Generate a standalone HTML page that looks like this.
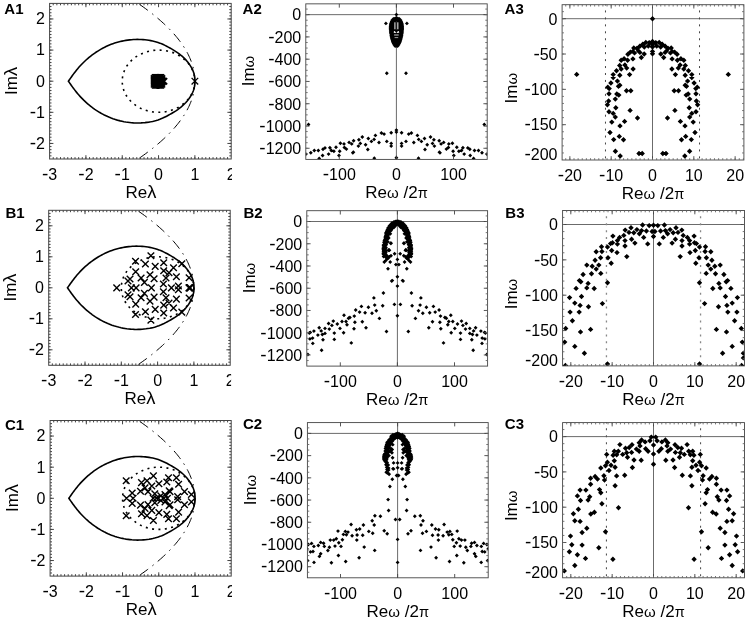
<!DOCTYPE html>
<html><head><meta charset="utf-8"><title>Figure</title>
<style>html,body{margin:0;padding:0;background:#fff}svg{display:block}</style></head>
<body>
<svg width="748" height="621" viewBox="0 0 748 621" font-family='"Liberation Sans", sans-serif' fill="#000">
<rect width="748" height="621" fill="#fff"/>
<defs>
<clipPath id="cA1"><rect x="49.6" y="3.4" width="181.6" height="155.6"/></clipPath>
<clipPath id="tA1"><rect x="0" y="159" width="232.1" height="60"/></clipPath>
<clipPath id="cA2"><rect x="305.8" y="3.85" width="181.4" height="155.55"/></clipPath>
<clipPath id="tA2"><rect x="0" y="159.4" width="488.1" height="60"/></clipPath>
<clipPath id="cA3"><rect x="562.1" y="4.7" width="181.8" height="155.3"/></clipPath>
<clipPath id="tA3"><rect x="0" y="160" width="744.8" height="60"/></clipPath>
<clipPath id="cB1"><rect x="48.7" y="210.3" width="181.5" height="155"/></clipPath>
<clipPath id="tB1"><rect x="0" y="365.3" width="231.1" height="60"/></clipPath>
<clipPath id="cB2"><rect x="306.8" y="210.7" width="180.8" height="155.4"/></clipPath>
<clipPath id="tB2"><rect x="0" y="366.1" width="488.5" height="60"/></clipPath>
<clipPath id="cB3"><rect x="562.6" y="210.5" width="181.9" height="155.4"/></clipPath>
<clipPath id="tB3"><rect x="0" y="365.9" width="745.4" height="60"/></clipPath>
<clipPath id="cC1"><rect x="50.1" y="420.5" width="181.1" height="155.6"/></clipPath>
<clipPath id="tC1"><rect x="0" y="576.1" width="232.1" height="60"/></clipPath>
<clipPath id="cC2"><rect x="307.4" y="422.6" width="180.8" height="155.2"/></clipPath>
<clipPath id="tC2"><rect x="0" y="577.8" width="489.1" height="60"/></clipPath>
<clipPath id="cC3"><rect x="562.6" y="422.6" width="181.9" height="155.2"/></clipPath>
<clipPath id="tC3"><rect x="0" y="577.8" width="745.4" height="60"/></clipPath>
</defs>
<g clip-path="url(#cA1)" fill="none" stroke="#000">
<path d="M138.13 3.4L140.04 4.72L141.91 6.04L143.75 7.36L145.56 8.67L147.34 9.99L149.09 11.31L150.8 12.63L152.48 13.95L154.12 15.27L155.74 16.59L157.32 17.91L158.87 19.22L160.38 20.54L161.87 21.86L163.32 23.18L164.74 24.5L166.12 25.82L167.48 27.14L168.8 28.45L170.08 29.77L171.34 31.09L172.56 32.41L173.75 33.73L174.91 35.05L176.03 36.37L177.13 37.68L178.19 39L179.21 40.32L180.21 41.64L181.17 42.96L182.1 44.28L183 45.6L183.86 46.92L184.69 48.23L185.49 49.55L186.26 50.87L186.99 52.19L187.69 53.51L188.36 54.83L188.99 56.15L189.6 57.46L190.17 58.78L190.71 60.1L191.21 61.42L191.68 62.74L192.12 64.06L192.53 65.38L192.91 66.69L193.25 68.01L193.56 69.33L193.84 70.65L194.08 71.97L194.29 73.29L194.47 74.61L194.62 75.93L194.73 77.24L194.81 78.56L194.86 79.88L194.88 81.2" stroke-width="1" stroke="#000" stroke-dasharray="10.4 5.4 1.5 5.4" stroke-dashoffset="-1.6"/>
<path d="M138.13 159L140.04 157.68L141.91 156.36L143.75 155.04L145.56 153.73L147.34 152.41L149.09 151.09L150.8 149.77L152.48 148.45L154.12 147.13L155.74 145.81L157.32 144.49L158.87 143.18L160.38 141.86L161.87 140.54L163.32 139.22L164.74 137.9L166.12 136.58L167.48 135.26L168.8 133.95L170.08 132.63L171.34 131.31L172.56 129.99L173.75 128.67L174.91 127.35L176.03 126.03L177.13 124.72L178.19 123.4L179.21 122.08L180.21 120.76L181.17 119.44L182.1 118.12L183 116.8L183.86 115.48L184.69 114.17L185.49 112.85L186.26 111.53L186.99 110.21L187.69 108.89L188.36 107.57L188.99 106.25L189.6 104.94L190.17 103.62L190.71 102.3L191.21 100.98L191.68 99.66L192.12 98.34L192.53 97.02L192.91 95.71L193.25 94.39L193.56 93.07L193.84 91.75L194.08 90.43L194.29 89.11L194.47 87.79L194.62 86.47L194.73 85.16L194.81 83.84L194.86 82.52L194.88 81.2" stroke-width="1" stroke="#000" stroke-dasharray="10.4 5.4 1.5 5.4" stroke-dashoffset="-1.6"/>
<ellipse cx="158.56" cy="81.2" rx="36.32" ry="31.12" stroke-width="1.6" stroke-dasharray="2 4.4" stroke-linecap="butt"/>
<path d="M68.41 81.2L69.4 79.78L70.39 78.37L71.39 76.96L72.39 75.55L73.42 74.15L74.46 72.77L75.52 71.39L76.6 70.03L77.72 68.68L78.86 67.35L80.03 66.04L81.23 64.75L82.46 63.48L83.72 62.22L85.01 60.99L86.33 59.78L87.67 58.6L89.04 57.44L90.44 56.31L91.87 55.2L93.33 54.12L94.82 53.06L96.33 52.04L97.88 51.05L99.44 50.09L101.04 49.16L102.66 48.27L104.31 47.41L105.98 46.59L107.68 45.8L109.4 45.06L111.15 44.36L112.92 43.7L114.71 43.08L116.52 42.52L118.35 42L120.19 41.53L122.06 41.11L123.93 40.73L125.82 40.4L127.72 40.12L129.63 39.88L131.55 39.68L133.46 39.53L135.39 39.44L137.31 39.4L139.23 39.43L141.15 39.5L143.08 39.63L145 39.8L146.92 40.02L148.83 40.28L150.72 40.6L152.6 40.97L154.46 41.41L156.29 41.91L158.09 42.49L159.85 43.13L161.59 43.83L163.3 44.58L164.99 45.39L166.66 46.23L168.31 47.1L169.94 48L171.56 48.92L173.15 49.87L174.72 50.84L176.27 51.83L177.78 52.86L179.25 53.93L180.68 55.03L182.05 56.18L183.38 57.37L184.64 58.61L185.85 59.89L187 61.22L188.09 62.58L189.12 63.98L190.1 65.41L191.02 66.87L191.86 68.36L192.62 69.88L193.27 71.43L193.8 73.01L194.21 74.63L194.51 76.26L194.72 77.9L194.84 79.55L194.88 81.2L194.84 82.85L194.72 84.5L194.51 86.14L194.21 87.77L193.8 89.39L193.27 90.97L192.62 92.52L191.86 94.04L191.02 95.53L190.1 96.99L189.12 98.42L188.09 99.82L187 101.18L185.85 102.51L184.64 103.79L183.38 105.03L182.05 106.22L180.68 107.37L179.25 108.47L177.78 109.54L176.27 110.57L174.72 111.56L173.15 112.53L171.56 113.48L169.94 114.4L168.31 115.3L166.66 116.17L164.99 117.01L163.3 117.82L161.59 118.57L159.85 119.27L158.09 119.91L156.29 120.49L154.46 120.99L152.6 121.43L150.72 121.8L148.83 122.12L146.92 122.38L145 122.6L143.08 122.77L141.15 122.9L139.23 122.97L137.31 123L135.39 122.96L133.46 122.87L131.55 122.72L129.63 122.52L127.72 122.28L125.82 122L123.93 121.67L122.06 121.29L120.19 120.87L118.35 120.4L116.52 119.88L114.71 119.32L112.92 118.7L111.15 118.04L109.4 117.34L107.68 116.6L105.98 115.81L104.31 114.99L102.66 114.13L101.04 113.24L99.44 112.31L97.88 111.35L96.33 110.36L94.82 109.34L93.33 108.28L91.87 107.2L90.44 106.09L89.04 104.96L87.67 103.8L86.33 102.62L85.01 101.41L83.72 100.18L82.46 98.92L81.23 97.65L80.03 96.36L78.86 95.05L77.72 93.72L76.6 92.37L75.52 91.01L74.46 89.63L73.42 88.25L72.39 86.85L71.39 85.44L70.39 84.03L69.4 82.62L68.41 81.2z" stroke-width="1.6" stroke-linejoin="miter"/>
</g>
<rect x="49.6" y="3.4" width="181.6" height="155.6" fill="none" stroke="#444" stroke-width="1.0"/>
<path d="M85.92 159v-3.8M85.92 3.4v3.8M122.24 159v-3.8M122.24 3.4v3.8M158.56 159v-3.8M158.56 3.4v3.8M194.88 159v-3.8M194.88 3.4v3.8M49.6 143.44h3.8M231.2 143.44h-3.8M49.6 112.32h3.8M231.2 112.32h-3.8M49.6 81.2h3.8M231.2 81.2h-3.8M49.6 50.08h3.8M231.2 50.08h-3.8M49.6 18.96h3.8M231.2 18.96h-3.8" fill="none" stroke="#444" stroke-width="1.0"/>
<path d="M53.23 159v-1.9M53.23 3.4v1.9M56.86 159v-1.9M56.86 3.4v1.9M60.5 159v-1.9M60.5 3.4v1.9M64.13 159v-1.9M64.13 3.4v1.9M67.76 159v-1.9M67.76 3.4v1.9M71.39 159v-1.9M71.39 3.4v1.9M75.02 159v-1.9M75.02 3.4v1.9M78.66 159v-1.9M78.66 3.4v1.9M82.29 159v-1.9M82.29 3.4v1.9M85.92 159v-1.9M85.92 3.4v1.9M89.55 159v-1.9M89.55 3.4v1.9M93.18 159v-1.9M93.18 3.4v1.9M96.82 159v-1.9M96.82 3.4v1.9M100.45 159v-1.9M100.45 3.4v1.9M104.08 159v-1.9M104.08 3.4v1.9M107.71 159v-1.9M107.71 3.4v1.9M111.34 159v-1.9M111.34 3.4v1.9M114.98 159v-1.9M114.98 3.4v1.9M118.61 159v-1.9M118.61 3.4v1.9M122.24 159v-1.9M122.24 3.4v1.9M125.87 159v-1.9M125.87 3.4v1.9M129.5 159v-1.9M129.5 3.4v1.9M133.14 159v-1.9M133.14 3.4v1.9M136.77 159v-1.9M136.77 3.4v1.9M140.4 159v-1.9M140.4 3.4v1.9M144.03 159v-1.9M144.03 3.4v1.9M147.66 159v-1.9M147.66 3.4v1.9M151.3 159v-1.9M151.3 3.4v1.9M154.93 159v-1.9M154.93 3.4v1.9M158.56 159v-1.9M158.56 3.4v1.9M162.19 159v-1.9M162.19 3.4v1.9M165.82 159v-1.9M165.82 3.4v1.9M169.46 159v-1.9M169.46 3.4v1.9M173.09 159v-1.9M173.09 3.4v1.9M176.72 159v-1.9M176.72 3.4v1.9M180.35 159v-1.9M180.35 3.4v1.9M183.98 159v-1.9M183.98 3.4v1.9M187.62 159v-1.9M187.62 3.4v1.9M191.25 159v-1.9M191.25 3.4v1.9M194.88 159v-1.9M194.88 3.4v1.9M198.51 159v-1.9M198.51 3.4v1.9M202.14 159v-1.9M202.14 3.4v1.9M205.78 159v-1.9M205.78 3.4v1.9M209.41 159v-1.9M209.41 3.4v1.9M213.04 159v-1.9M213.04 3.4v1.9M216.67 159v-1.9M216.67 3.4v1.9M220.3 159v-1.9M220.3 3.4v1.9M223.94 159v-1.9M223.94 3.4v1.9M227.57 159v-1.9M227.57 3.4v1.9M49.6 155.89h1.9M231.2 155.89h-1.9M49.6 152.78h1.9M231.2 152.78h-1.9M49.6 149.66h1.9M231.2 149.66h-1.9M49.6 146.55h1.9M231.2 146.55h-1.9M49.6 143.44h1.9M231.2 143.44h-1.9M49.6 140.33h1.9M231.2 140.33h-1.9M49.6 137.22h1.9M231.2 137.22h-1.9M49.6 134.1h1.9M231.2 134.1h-1.9M49.6 130.99h1.9M231.2 130.99h-1.9M49.6 127.88h1.9M231.2 127.88h-1.9M49.6 124.77h1.9M231.2 124.77h-1.9M49.6 121.66h1.9M231.2 121.66h-1.9M49.6 118.54h1.9M231.2 118.54h-1.9M49.6 115.43h1.9M231.2 115.43h-1.9M49.6 112.32h1.9M231.2 112.32h-1.9M49.6 109.21h1.9M231.2 109.21h-1.9M49.6 106.1h1.9M231.2 106.1h-1.9M49.6 102.98h1.9M231.2 102.98h-1.9M49.6 99.87h1.9M231.2 99.87h-1.9M49.6 96.76h1.9M231.2 96.76h-1.9M49.6 93.65h1.9M231.2 93.65h-1.9M49.6 90.54h1.9M231.2 90.54h-1.9M49.6 87.42h1.9M231.2 87.42h-1.9M49.6 84.31h1.9M231.2 84.31h-1.9M49.6 81.2h1.9M231.2 81.2h-1.9M49.6 78.09h1.9M231.2 78.09h-1.9M49.6 74.98h1.9M231.2 74.98h-1.9M49.6 71.86h1.9M231.2 71.86h-1.9M49.6 68.75h1.9M231.2 68.75h-1.9M49.6 65.64h1.9M231.2 65.64h-1.9M49.6 62.53h1.9M231.2 62.53h-1.9M49.6 59.42h1.9M231.2 59.42h-1.9M49.6 56.3h1.9M231.2 56.3h-1.9M49.6 53.19h1.9M231.2 53.19h-1.9M49.6 50.08h1.9M231.2 50.08h-1.9M49.6 46.97h1.9M231.2 46.97h-1.9M49.6 43.86h1.9M231.2 43.86h-1.9M49.6 40.74h1.9M231.2 40.74h-1.9M49.6 37.63h1.9M231.2 37.63h-1.9M49.6 34.52h1.9M231.2 34.52h-1.9M49.6 31.41h1.9M231.2 31.41h-1.9M49.6 28.3h1.9M231.2 28.3h-1.9M49.6 25.18h1.9M231.2 25.18h-1.9M49.6 22.07h1.9M231.2 22.07h-1.9M49.6 18.96h1.9M231.2 18.96h-1.9M49.6 15.85h1.9M231.2 15.85h-1.9M49.6 12.74h1.9M231.2 12.74h-1.9M49.6 9.62h1.9M231.2 9.62h-1.9M49.6 6.51h1.9M231.2 6.51h-1.9" fill="none" stroke="#444" stroke-width="1.0"/>
<text x="44.9" y="148.84" font-size="16" text-anchor="end"><tspan font-size="19">-</tspan>2</text>
<text x="44.9" y="117.72" font-size="16" text-anchor="end"><tspan font-size="19">-</tspan>1</text>
<text x="44.9" y="86.6" font-size="16" text-anchor="end">0</text>
<text x="44.9" y="55.48" font-size="16" text-anchor="end">1</text>
<text x="44.9" y="24.36" font-size="16" text-anchor="end">2</text>
<text x="49.6" y="179.8" font-size="16" text-anchor="middle" clip-path="url(#tA1)"><tspan font-size="19">-</tspan>3</text>
<text x="85.92" y="179.8" font-size="16" text-anchor="middle" clip-path="url(#tA1)"><tspan font-size="19">-</tspan>2</text>
<text x="122.24" y="179.8" font-size="16" text-anchor="middle" clip-path="url(#tA1)"><tspan font-size="19">-</tspan>1</text>
<text x="158.56" y="179.8" font-size="16" text-anchor="middle" clip-path="url(#tA1)">0</text>
<text x="194.88" y="179.8" font-size="16" text-anchor="middle" clip-path="url(#tA1)">1</text>
<text x="231.2" y="179.8" font-size="16" text-anchor="middle" clip-path="url(#tA1)">2</text>
<text x="141" y="198" font-size="17" text-anchor="middle">Re<tspan font-size="18.4">λ</tspan></text>
<text x="17" y="80.9" font-size="17" text-anchor="middle" transform="rotate(-90 17 80.9)">Im<tspan font-size="18.4">λ</tspan></text>
<text x="4.3" y="13.7" font-size="15" font-weight="bold">A1</text>
<path d="M150.9 75.15l6 6M150.9 81.15l6 -6M150.9 76.2l6 6M150.9 82.2l6 -6M150.9 77.25l6 6M150.9 83.25l6 -6M150.9 78.3l6 6M150.9 84.3l6 -6M150.9 79.35l6 6M150.9 85.35l6 -6M150.9 80.4l6 6M150.9 86.4l6 -6M150.9 81.45l6 6M150.9 87.45l6 -6M151.93 74.1l6 6M151.93 80.1l6 -6M151.93 75.15l6 6M151.93 81.15l6 -6M151.93 76.2l6 6M151.93 82.2l6 -6M151.93 77.25l6 6M151.93 83.25l6 -6M151.93 78.3l6 6M151.93 84.3l6 -6M151.93 79.35l6 6M151.93 85.35l6 -6M151.93 80.4l6 6M151.93 86.4l6 -6M151.93 81.45l6 6M151.93 87.45l6 -6M151.93 82.5l6 6M151.93 88.5l6 -6M152.95 74.1l6 6M152.95 80.1l6 -6M152.95 75.15l6 6M152.95 81.15l6 -6M152.95 76.2l6 6M152.95 82.2l6 -6M152.95 77.25l6 6M152.95 83.25l6 -6M152.95 78.3l6 6M152.95 84.3l6 -6M152.95 79.35l6 6M152.95 85.35l6 -6M152.95 80.4l6 6M152.95 86.4l6 -6M152.95 81.45l6 6M152.95 87.45l6 -6M152.95 82.5l6 6M152.95 88.5l6 -6M153.97 74.1l6 6M153.97 80.1l6 -6M153.97 75.15l6 6M153.97 81.15l6 -6M153.97 76.2l6 6M153.97 82.2l6 -6M153.97 77.25l6 6M153.97 83.25l6 -6M153.97 78.3l6 6M153.97 84.3l6 -6M153.97 79.35l6 6M153.97 85.35l6 -6M153.97 80.4l6 6M153.97 86.4l6 -6M153.97 81.45l6 6M153.97 87.45l6 -6M153.97 82.5l6 6M153.97 88.5l6 -6M155 74.1l6 6M155 80.1l6 -6M155 75.15l6 6M155 81.15l6 -6M155 76.2l6 6M155 82.2l6 -6M155 77.25l6 6M155 83.25l6 -6M155 78.3l6 6M155 84.3l6 -6M155 79.35l6 6M155 85.35l6 -6M155 80.4l6 6M155 86.4l6 -6M155 81.45l6 6M155 87.45l6 -6M155 82.5l6 6M155 88.5l6 -6M156.03 74.1l6 6M156.03 80.1l6 -6M156.03 75.15l6 6M156.03 81.15l6 -6M156.03 76.2l6 6M156.03 82.2l6 -6M156.03 77.25l6 6M156.03 83.25l6 -6M156.03 78.3l6 6M156.03 84.3l6 -6M156.03 79.35l6 6M156.03 85.35l6 -6M156.03 80.4l6 6M156.03 86.4l6 -6M156.03 81.45l6 6M156.03 87.45l6 -6M156.03 82.5l6 6M156.03 88.5l6 -6M157.05 74.1l6 6M157.05 80.1l6 -6M157.05 75.15l6 6M157.05 81.15l6 -6M157.05 76.2l6 6M157.05 82.2l6 -6M157.05 77.25l6 6M157.05 83.25l6 -6M157.05 78.3l6 6M157.05 84.3l6 -6M157.05 79.35l6 6M157.05 85.35l6 -6M157.05 80.4l6 6M157.05 86.4l6 -6M157.05 81.45l6 6M157.05 87.45l6 -6M157.05 82.5l6 6M157.05 88.5l6 -6M158.08 74.1l6 6M158.08 80.1l6 -6M158.08 75.15l6 6M158.08 81.15l6 -6M158.08 76.2l6 6M158.08 82.2l6 -6M158.08 77.25l6 6M158.08 83.25l6 -6M158.08 78.3l6 6M158.08 84.3l6 -6M158.08 79.35l6 6M158.08 85.35l6 -6M158.08 80.4l6 6M158.08 86.4l6 -6M158.08 81.45l6 6M158.08 87.45l6 -6M158.08 82.5l6 6M158.08 88.5l6 -6M159.1 75.15l6 6M159.1 81.15l6 -6M159.1 76.2l6 6M159.1 82.2l6 -6M159.1 77.25l6 6M159.1 83.25l6 -6M159.1 78.3l6 6M159.1 84.3l6 -6M159.1 79.35l6 6M159.1 85.35l6 -6M159.1 80.4l6 6M159.1 86.4l6 -6M159.1 81.45l6 6M159.1 87.45l6 -6M160.9 78.25l6 6M160.9 84.25l6 -6M160.5 77.8l6 6M160.5 83.8l6 -6M160.5 78.7l6 6M160.5 84.7l6 -6M161.3 78.25l6 6M161.3 84.25l6 -6M160 78.25l6 6M160 84.25l6 -6" fill="none" stroke="#000" stroke-width="1.3"/>
<path d="M191.58 77.9l6.6 6.6M191.58 84.5l6.6 -6.6" fill="none" stroke="#000" stroke-width="1.3"/>
<g clip-path="url(#cB1)" fill="none" stroke="#000">
<path d="M137.18 210.3L139.09 211.61L140.96 212.93L142.8 214.24L144.61 215.55L146.39 216.87L148.13 218.18L149.84 219.49L151.52 220.81L153.17 222.12L154.78 223.44L156.36 224.75L157.91 226.06L159.42 227.38L160.91 228.69L162.36 230L163.77 231.32L165.16 232.63L166.51 233.94L167.83 235.26L169.12 236.57L170.37 237.88L171.59 239.2L172.78 240.51L173.94 241.83L175.06 243.14L176.16 244.45L177.22 245.77L178.24 247.08L179.24 248.39L180.2 249.71L181.13 251.02L182.02 252.33L182.89 253.65L183.72 254.96L184.51 256.27L185.28 257.59L186.01 258.9L186.71 260.22L187.38 261.53L188.02 262.84L188.62 264.16L189.19 265.47L189.73 266.78L190.23 268.1L190.71 269.41L191.15 270.72L191.55 272.04L191.93 273.35L192.27 274.66L192.58 275.98L192.86 277.29L193.1 278.61L193.31 279.92L193.49 281.23L193.64 282.55L193.75 283.86L193.83 285.17L193.88 286.49L193.9 287.8" stroke-width="1" stroke="#000" stroke-dasharray="10.4 5.4 1.5 5.4" stroke-dashoffset="-1.6"/>
<path d="M137.18 365.3L139.09 363.99L140.96 362.67L142.8 361.36L144.61 360.05L146.39 358.73L148.13 357.42L149.84 356.11L151.52 354.79L153.17 353.48L154.78 352.16L156.36 350.85L157.91 349.54L159.42 348.22L160.91 346.91L162.36 345.6L163.77 344.28L165.16 342.97L166.51 341.66L167.83 340.34L169.12 339.03L170.37 337.72L171.59 336.4L172.78 335.09L173.94 333.77L175.06 332.46L176.16 331.15L177.22 329.83L178.24 328.52L179.24 327.21L180.2 325.89L181.13 324.58L182.02 323.27L182.89 321.95L183.72 320.64L184.51 319.33L185.28 318.01L186.01 316.7L186.71 315.38L187.38 314.07L188.02 312.76L188.62 311.44L189.19 310.13L189.73 308.82L190.23 307.5L190.71 306.19L191.15 304.88L191.55 303.56L191.93 302.25L192.27 300.94L192.58 299.62L192.86 298.31L193.1 296.99L193.31 295.68L193.49 294.37L193.64 293.05L193.75 291.74L193.83 290.43L193.88 289.11L193.9 287.8" stroke-width="1" stroke="#000" stroke-dasharray="10.4 5.4 1.5 5.4" stroke-dashoffset="-1.6"/>
<ellipse cx="157.6" cy="287.8" rx="36.3" ry="31" stroke-width="1.6" stroke-dasharray="2 4.4" stroke-linecap="butt"/>
<path d="M67.5 287.8L68.49 286.39L69.48 284.98L70.48 283.57L71.48 282.17L72.5 280.78L73.54 279.4L74.6 278.03L75.69 276.67L76.8 275.33L77.95 274.01L79.12 272.7L80.32 271.41L81.55 270.14L82.8 268.9L84.09 267.67L85.4 266.47L86.75 265.29L88.12 264.13L89.52 263L90.95 261.9L92.41 260.82L93.9 259.77L95.41 258.75L96.95 257.77L98.52 256.81L100.11 255.89L101.73 255L103.38 254.14L105.05 253.32L106.75 252.54L108.47 251.8L110.22 251.1L111.98 250.44L113.77 249.83L115.58 249.27L117.41 248.75L119.25 248.28L121.12 247.86L122.99 247.49L124.88 247.16L126.78 246.87L128.69 246.64L130.6 246.44L132.52 246.29L134.44 246.2L136.36 246.16L138.28 246.19L140.2 246.26L142.13 246.39L144.05 246.56L145.96 246.77L147.87 247.04L149.77 247.35L151.65 247.73L153.5 248.16L155.33 248.66L157.13 249.24L158.89 249.88L160.63 250.57L162.34 251.33L164.03 252.12L165.7 252.96L167.34 253.83L168.97 254.73L170.59 255.65L172.18 256.59L173.76 257.55L175.3 258.55L176.81 259.57L178.28 260.63L179.7 261.73L181.08 262.87L182.4 264.06L183.67 265.3L184.87 266.58L186.02 267.9L187.11 269.26L188.15 270.65L189.12 272.07L190.04 273.53L190.89 275.01L191.64 276.52L192.29 278.07L192.82 279.65L193.23 281.25L193.53 282.88L193.74 284.52L193.86 286.16L193.9 287.8L193.86 289.44L193.74 291.08L193.53 292.72L193.23 294.35L192.82 295.95L192.29 297.53L191.64 299.08L190.89 300.59L190.04 302.07L189.12 303.53L188.15 304.95L187.11 306.34L186.02 307.7L184.87 309.02L183.67 310.3L182.4 311.54L181.08 312.73L179.7 313.87L178.28 314.97L176.81 316.03L175.3 317.05L173.76 318.05L172.18 319.01L170.59 319.95L168.97 320.87L167.34 321.77L165.7 322.64L164.03 323.48L162.34 324.27L160.63 325.03L158.89 325.72L157.13 326.36L155.33 326.94L153.5 327.44L151.65 327.87L149.77 328.25L147.87 328.56L145.96 328.83L144.05 329.04L142.13 329.21L140.2 329.34L138.28 329.41L136.36 329.44L134.44 329.4L132.52 329.31L130.6 329.16L128.69 328.96L126.78 328.73L124.88 328.44L122.99 328.11L121.12 327.74L119.25 327.32L117.41 326.85L115.58 326.33L113.77 325.77L111.98 325.16L110.22 324.5L108.47 323.8L106.75 323.06L105.05 322.28L103.38 321.46L101.73 320.6L100.11 319.71L98.52 318.79L96.95 317.83L95.41 316.85L93.9 315.83L92.41 314.78L90.95 313.7L89.52 312.6L88.12 311.47L86.75 310.31L85.4 309.13L84.09 307.93L82.8 306.7L81.55 305.46L80.32 304.19L79.12 302.9L77.95 301.59L76.8 300.27L75.69 298.93L74.6 297.57L73.54 296.2L72.5 294.82L71.48 293.43L70.48 292.03L69.48 290.62L68.49 289.21L67.5 287.8z" stroke-width="1.6" stroke-linejoin="miter"/>
</g>
<rect x="48.7" y="210.3" width="181.5" height="155" fill="none" stroke="#444" stroke-width="1.0"/>
<path d="M85 365.3v-3.8M85 210.3v3.8M121.3 365.3v-3.8M121.3 210.3v3.8M157.6 365.3v-3.8M157.6 210.3v3.8M193.9 365.3v-3.8M193.9 210.3v3.8M48.7 349.8h3.8M230.2 349.8h-3.8M48.7 318.8h3.8M230.2 318.8h-3.8M48.7 287.8h3.8M230.2 287.8h-3.8M48.7 256.8h3.8M230.2 256.8h-3.8M48.7 225.8h3.8M230.2 225.8h-3.8" fill="none" stroke="#444" stroke-width="1.0"/>
<path d="M52.33 365.3v-1.9M52.33 210.3v1.9M55.96 365.3v-1.9M55.96 210.3v1.9M59.59 365.3v-1.9M59.59 210.3v1.9M63.22 365.3v-1.9M63.22 210.3v1.9M66.85 365.3v-1.9M66.85 210.3v1.9M70.48 365.3v-1.9M70.48 210.3v1.9M74.11 365.3v-1.9M74.11 210.3v1.9M77.74 365.3v-1.9M77.74 210.3v1.9M81.37 365.3v-1.9M81.37 210.3v1.9M85 365.3v-1.9M85 210.3v1.9M88.63 365.3v-1.9M88.63 210.3v1.9M92.26 365.3v-1.9M92.26 210.3v1.9M95.89 365.3v-1.9M95.89 210.3v1.9M99.52 365.3v-1.9M99.52 210.3v1.9M103.15 365.3v-1.9M103.15 210.3v1.9M106.78 365.3v-1.9M106.78 210.3v1.9M110.41 365.3v-1.9M110.41 210.3v1.9M114.04 365.3v-1.9M114.04 210.3v1.9M117.67 365.3v-1.9M117.67 210.3v1.9M121.3 365.3v-1.9M121.3 210.3v1.9M124.93 365.3v-1.9M124.93 210.3v1.9M128.56 365.3v-1.9M128.56 210.3v1.9M132.19 365.3v-1.9M132.19 210.3v1.9M135.82 365.3v-1.9M135.82 210.3v1.9M139.45 365.3v-1.9M139.45 210.3v1.9M143.08 365.3v-1.9M143.08 210.3v1.9M146.71 365.3v-1.9M146.71 210.3v1.9M150.34 365.3v-1.9M150.34 210.3v1.9M153.97 365.3v-1.9M153.97 210.3v1.9M157.6 365.3v-1.9M157.6 210.3v1.9M161.23 365.3v-1.9M161.23 210.3v1.9M164.86 365.3v-1.9M164.86 210.3v1.9M168.49 365.3v-1.9M168.49 210.3v1.9M172.12 365.3v-1.9M172.12 210.3v1.9M175.75 365.3v-1.9M175.75 210.3v1.9M179.38 365.3v-1.9M179.38 210.3v1.9M183.01 365.3v-1.9M183.01 210.3v1.9M186.64 365.3v-1.9M186.64 210.3v1.9M190.27 365.3v-1.9M190.27 210.3v1.9M193.9 365.3v-1.9M193.9 210.3v1.9M197.53 365.3v-1.9M197.53 210.3v1.9M201.16 365.3v-1.9M201.16 210.3v1.9M204.79 365.3v-1.9M204.79 210.3v1.9M208.42 365.3v-1.9M208.42 210.3v1.9M212.05 365.3v-1.9M212.05 210.3v1.9M215.68 365.3v-1.9M215.68 210.3v1.9M219.31 365.3v-1.9M219.31 210.3v1.9M222.94 365.3v-1.9M222.94 210.3v1.9M226.57 365.3v-1.9M226.57 210.3v1.9M48.7 362.2h1.9M230.2 362.2h-1.9M48.7 359.1h1.9M230.2 359.1h-1.9M48.7 356h1.9M230.2 356h-1.9M48.7 352.9h1.9M230.2 352.9h-1.9M48.7 349.8h1.9M230.2 349.8h-1.9M48.7 346.7h1.9M230.2 346.7h-1.9M48.7 343.6h1.9M230.2 343.6h-1.9M48.7 340.5h1.9M230.2 340.5h-1.9M48.7 337.4h1.9M230.2 337.4h-1.9M48.7 334.3h1.9M230.2 334.3h-1.9M48.7 331.2h1.9M230.2 331.2h-1.9M48.7 328.1h1.9M230.2 328.1h-1.9M48.7 325h1.9M230.2 325h-1.9M48.7 321.9h1.9M230.2 321.9h-1.9M48.7 318.8h1.9M230.2 318.8h-1.9M48.7 315.7h1.9M230.2 315.7h-1.9M48.7 312.6h1.9M230.2 312.6h-1.9M48.7 309.5h1.9M230.2 309.5h-1.9M48.7 306.4h1.9M230.2 306.4h-1.9M48.7 303.3h1.9M230.2 303.3h-1.9M48.7 300.2h1.9M230.2 300.2h-1.9M48.7 297.1h1.9M230.2 297.1h-1.9M48.7 294h1.9M230.2 294h-1.9M48.7 290.9h1.9M230.2 290.9h-1.9M48.7 287.8h1.9M230.2 287.8h-1.9M48.7 284.7h1.9M230.2 284.7h-1.9M48.7 281.6h1.9M230.2 281.6h-1.9M48.7 278.5h1.9M230.2 278.5h-1.9M48.7 275.4h1.9M230.2 275.4h-1.9M48.7 272.3h1.9M230.2 272.3h-1.9M48.7 269.2h1.9M230.2 269.2h-1.9M48.7 266.1h1.9M230.2 266.1h-1.9M48.7 263h1.9M230.2 263h-1.9M48.7 259.9h1.9M230.2 259.9h-1.9M48.7 256.8h1.9M230.2 256.8h-1.9M48.7 253.7h1.9M230.2 253.7h-1.9M48.7 250.6h1.9M230.2 250.6h-1.9M48.7 247.5h1.9M230.2 247.5h-1.9M48.7 244.4h1.9M230.2 244.4h-1.9M48.7 241.3h1.9M230.2 241.3h-1.9M48.7 238.2h1.9M230.2 238.2h-1.9M48.7 235.1h1.9M230.2 235.1h-1.9M48.7 232h1.9M230.2 232h-1.9M48.7 228.9h1.9M230.2 228.9h-1.9M48.7 225.8h1.9M230.2 225.8h-1.9M48.7 222.7h1.9M230.2 222.7h-1.9M48.7 219.6h1.9M230.2 219.6h-1.9M48.7 216.5h1.9M230.2 216.5h-1.9M48.7 213.4h1.9M230.2 213.4h-1.9" fill="none" stroke="#444" stroke-width="1.0"/>
<text x="44" y="355.2" font-size="16" text-anchor="end"><tspan font-size="19">-</tspan>2</text>
<text x="44" y="324.2" font-size="16" text-anchor="end"><tspan font-size="19">-</tspan>1</text>
<text x="44" y="293.2" font-size="16" text-anchor="end">0</text>
<text x="44" y="262.2" font-size="16" text-anchor="end">1</text>
<text x="44" y="231.2" font-size="16" text-anchor="end">2</text>
<text x="48.7" y="386.1" font-size="16" text-anchor="middle" clip-path="url(#tB1)"><tspan font-size="19">-</tspan>3</text>
<text x="85" y="386.1" font-size="16" text-anchor="middle" clip-path="url(#tB1)"><tspan font-size="19">-</tspan>2</text>
<text x="121.3" y="386.1" font-size="16" text-anchor="middle" clip-path="url(#tB1)"><tspan font-size="19">-</tspan>1</text>
<text x="157.6" y="386.1" font-size="16" text-anchor="middle" clip-path="url(#tB1)">0</text>
<text x="193.9" y="386.1" font-size="16" text-anchor="middle" clip-path="url(#tB1)">1</text>
<text x="230.2" y="386.1" font-size="16" text-anchor="middle" clip-path="url(#tB1)">2</text>
<text x="140.05" y="404.3" font-size="17" text-anchor="middle">Re<tspan font-size="18.4">λ</tspan></text>
<text x="16.1" y="287.5" font-size="17" text-anchor="middle" transform="rotate(-90 16.1 287.5)">Im<tspan font-size="18.4">λ</tspan></text>
<text x="5.4" y="218.2" font-size="15" font-weight="bold">B1</text>
<path d="M113.4 284.6l6.6 6.6M113.4 291.2l6.6 -6.6M128.1 284.6l6.6 6.6M128.1 291.2l6.6 -6.6M132.8 284.6l6.6 6.6M132.8 291.2l6.6 -6.6M148.1 284.6l6.6 6.6M148.1 291.2l6.6 -6.6M168.1 284.6l6.6 6.6M168.1 291.2l6.6 -6.6M185.6 284.6l6.6 6.6M185.6 291.2l6.6 -6.6M187 284.6l6.6 6.6M187 291.2l6.6 -6.6M186.3 284.6l6.6 6.6M186.3 291.2l6.6 -6.6M147.6 252.4l6.6 6.6M147.6 259l6.6 -6.6M132.2 258l6.6 6.6M132.2 264.6l6.6 -6.6M142.1 260.7l6.6 6.6M142.1 267.3l6.6 -6.6M151.9 263.1l6.6 6.6M151.9 269.7l6.6 -6.6M160.4 259.5l6.6 6.6M160.4 266.1l6.6 -6.6M178.5 260.4l6.6 6.6M178.5 267l6.6 -6.6M170.2 264.5l6.6 6.6M170.2 271.1l6.6 -6.6M132.4 268.4l6.6 6.6M132.4 275l6.6 -6.6M160.4 267.4l6.6 6.6M160.4 274l6.6 -6.6M165.7 269.4l6.6 6.6M165.7 276l6.6 -6.6M146.7 271.4l6.6 6.6M146.7 278l6.6 -6.6M173.1 273.4l6.6 6.6M173.1 280l6.6 -6.6M137.8 274.7l6.6 6.6M137.8 281.3l6.6 -6.6M150.8 275.4l6.6 6.6M150.8 282l6.6 -6.6M162.7 274.7l6.6 6.6M162.7 281.3l6.6 -6.6M185.8 274.5l6.6 6.6M185.8 281.1l6.6 -6.6M126.7 275.7l6.6 6.6M126.7 282.3l6.6 -6.6M124.7 277.7l6.6 6.6M124.7 284.3l6.6 -6.6M141.1 279.1l6.6 6.6M141.1 285.7l6.6 -6.6M160.1 280.7l6.6 6.6M160.1 287.3l6.6 -6.6M175.1 282.7l6.6 6.6M175.1 289.3l6.6 -6.6M147.6 316.8l6.6 6.6M147.6 323.4l6.6 -6.6M132.2 311.2l6.6 6.6M132.2 317.8l6.6 -6.6M142.1 308.5l6.6 6.6M142.1 315.1l6.6 -6.6M151.9 306.1l6.6 6.6M151.9 312.7l6.6 -6.6M160.4 309.7l6.6 6.6M160.4 316.3l6.6 -6.6M178.5 308.8l6.6 6.6M178.5 315.4l6.6 -6.6M170.2 304.7l6.6 6.6M170.2 311.3l6.6 -6.6M132.4 300.8l6.6 6.6M132.4 307.4l6.6 -6.6M160.4 301.8l6.6 6.6M160.4 308.4l6.6 -6.6M165.7 299.8l6.6 6.6M165.7 306.4l6.6 -6.6M146.7 297.8l6.6 6.6M146.7 304.4l6.6 -6.6M173.1 295.8l6.6 6.6M173.1 302.4l6.6 -6.6M137.8 294.5l6.6 6.6M137.8 301.1l6.6 -6.6M150.8 293.8l6.6 6.6M150.8 300.4l6.6 -6.6M162.7 294.5l6.6 6.6M162.7 301.1l6.6 -6.6M185.8 294.7l6.6 6.6M185.8 301.3l6.6 -6.6M126.7 293.5l6.6 6.6M126.7 300.1l6.6 -6.6M124.7 291.5l6.6 6.6M124.7 298.1l6.6 -6.6M141.1 290.1l6.6 6.6M141.1 296.7l6.6 -6.6M160.1 288.5l6.6 6.6M160.1 295.1l6.6 -6.6M175.1 286.5l6.6 6.6M175.1 293.1l6.6 -6.6" fill="none" stroke="#000" stroke-width="1.4"/>
<g clip-path="url(#cC1)" fill="none" stroke="#000">
<path d="M138.39 420.5L140.29 421.82L142.16 423.14L144 424.46L145.8 425.77L147.57 427.09L149.31 428.41L151.02 429.73L152.69 431.05L154.34 432.37L155.94 433.69L157.52 435.01L159.07 436.32L160.58 437.64L162.06 438.96L163.5 440.28L164.92 441.6L166.3 442.92L167.65 444.24L168.97 445.55L170.25 446.87L171.5 448.19L172.72 449.51L173.91 450.83L175.06 452.15L176.19 453.47L177.28 454.78L178.33 456.1L179.36 457.42L180.35 458.74L181.31 460.06L182.23 461.38L183.13 462.7L183.99 464.02L184.82 465.33L185.62 466.65L186.38 467.97L187.11 469.29L187.81 470.61L188.48 471.93L189.11 473.25L189.71 474.56L190.28 475.88L190.82 477.2L191.32 478.52L191.79 479.84L192.23 481.16L192.64 482.48L193.01 483.79L193.35 485.11L193.66 486.43L193.94 487.75L194.18 489.07L194.39 490.39L194.57 491.71L194.72 493.03L194.83 494.34L194.91 495.66L194.96 496.98L194.98 498.3" stroke-width="1" stroke="#000" stroke-dasharray="10.4 5.4 1.5 5.4" stroke-dashoffset="-1.6"/>
<path d="M138.39 576.1L140.29 574.78L142.16 573.46L144 572.14L145.8 570.83L147.57 569.51L149.31 568.19L151.02 566.87L152.69 565.55L154.34 564.23L155.94 562.91L157.52 561.59L159.07 560.28L160.58 558.96L162.06 557.64L163.5 556.32L164.92 555L166.3 553.68L167.65 552.36L168.97 551.05L170.25 549.73L171.5 548.41L172.72 547.09L173.91 545.77L175.06 544.45L176.19 543.13L177.28 541.82L178.33 540.5L179.36 539.18L180.35 537.86L181.31 536.54L182.23 535.22L183.13 533.9L183.99 532.58L184.82 531.27L185.62 529.95L186.38 528.63L187.11 527.31L187.81 525.99L188.48 524.67L189.11 523.35L189.71 522.04L190.28 520.72L190.82 519.4L191.32 518.08L191.79 516.76L192.23 515.44L192.64 514.12L193.01 512.81L193.35 511.49L193.66 510.17L193.94 508.85L194.18 507.53L194.39 506.21L194.57 504.89L194.72 503.57L194.83 502.26L194.91 500.94L194.96 499.62L194.98 498.3" stroke-width="1" stroke="#000" stroke-dasharray="10.4 5.4 1.5 5.4" stroke-dashoffset="-1.6"/>
<ellipse cx="158.76" cy="498.3" rx="36.22" ry="31.12" stroke-width="1.6" stroke-dasharray="2 4.4" stroke-linecap="butt"/>
<path d="M68.86 498.3L69.85 496.88L70.83 495.47L71.83 494.06L72.83 492.65L73.85 491.25L74.89 489.87L75.95 488.49L77.03 487.13L78.14 485.78L79.28 484.45L80.45 483.14L81.65 481.85L82.87 480.58L84.13 479.32L85.41 478.09L86.72 476.88L88.06 475.7L89.43 474.54L90.83 473.41L92.26 472.3L93.71 471.22L95.2 470.16L96.71 469.14L98.24 468.15L99.81 467.19L101.4 466.26L103.02 465.37L104.66 464.51L106.33 463.69L108.02 462.9L109.74 462.16L111.48 461.46L113.24 460.8L115.03 460.18L116.83 459.62L118.66 459.1L120.5 458.63L122.36 458.21L124.23 457.83L126.11 457.5L128.01 457.22L129.91 456.98L131.82 456.78L133.73 456.63L135.65 456.54L137.57 456.5L139.48 456.53L141.4 456.6L143.32 456.73L145.24 456.9L147.15 457.12L149.05 457.38L150.95 457.7L152.82 458.07L154.67 458.51L156.49 459.01L158.29 459.59L160.05 460.23L161.78 460.93L163.49 461.68L165.18 462.49L166.84 463.33L168.48 464.2L170.11 465.1L171.72 466.02L173.31 466.97L174.88 467.94L176.42 468.93L177.93 469.96L179.39 471.03L180.81 472.13L182.19 473.28L183.51 474.47L184.77 475.71L185.97 476.99L187.12 478.32L188.21 479.68L189.24 481.08L190.21 482.51L191.13 483.97L191.97 485.46L192.73 486.98L193.37 488.53L193.9 490.11L194.31 491.73L194.61 493.36L194.82 495L194.94 496.65L194.98 498.3L194.94 499.95L194.82 501.6L194.61 503.24L194.31 504.87L193.9 506.49L193.37 508.07L192.73 509.62L191.97 511.14L191.13 512.63L190.21 514.09L189.24 515.52L188.21 516.92L187.12 518.28L185.97 519.61L184.77 520.89L183.51 522.13L182.19 523.32L180.81 524.47L179.39 525.57L177.93 526.64L176.42 527.67L174.88 528.66L173.31 529.63L171.72 530.58L170.11 531.5L168.48 532.4L166.84 533.27L165.18 534.11L163.49 534.92L161.78 535.67L160.05 536.37L158.29 537.01L156.49 537.59L154.67 538.09L152.82 538.53L150.95 538.9L149.05 539.22L147.15 539.48L145.24 539.7L143.32 539.87L141.4 540L139.48 540.07L137.57 540.1L135.65 540.06L133.73 539.97L131.82 539.82L129.91 539.62L128.01 539.38L126.11 539.1L124.23 538.77L122.36 538.39L120.5 537.97L118.66 537.5L116.83 536.98L115.03 536.42L113.24 535.8L111.48 535.14L109.74 534.44L108.02 533.7L106.33 532.91L104.66 532.09L103.02 531.23L101.4 530.34L99.81 529.41L98.24 528.45L96.71 527.46L95.2 526.44L93.71 525.38L92.26 524.3L90.83 523.19L89.43 522.06L88.06 520.9L86.72 519.72L85.41 518.51L84.13 517.28L82.87 516.02L81.65 514.75L80.45 513.46L79.28 512.15L78.14 510.82L77.03 509.47L75.95 508.11L74.89 506.73L73.85 505.35L72.83 503.95L71.83 502.54L70.83 501.13L69.85 499.72L68.86 498.3z" stroke-width="1.6" stroke-linejoin="miter"/>
</g>
<rect x="50.1" y="420.5" width="181.1" height="155.6" fill="none" stroke="#444" stroke-width="1.0"/>
<path d="M86.32 576.1v-3.8M86.32 420.5v3.8M122.54 576.1v-3.8M122.54 420.5v3.8M158.76 576.1v-3.8M158.76 420.5v3.8M194.98 576.1v-3.8M194.98 420.5v3.8M50.1 560.54h3.8M231.2 560.54h-3.8M50.1 529.42h3.8M231.2 529.42h-3.8M50.1 498.3h3.8M231.2 498.3h-3.8M50.1 467.18h3.8M231.2 467.18h-3.8M50.1 436.06h3.8M231.2 436.06h-3.8" fill="none" stroke="#444" stroke-width="1.0"/>
<path d="M53.72 576.1v-1.9M53.72 420.5v1.9M57.34 576.1v-1.9M57.34 420.5v1.9M60.97 576.1v-1.9M60.97 420.5v1.9M64.59 576.1v-1.9M64.59 420.5v1.9M68.21 576.1v-1.9M68.21 420.5v1.9M71.83 576.1v-1.9M71.83 420.5v1.9M75.45 576.1v-1.9M75.45 420.5v1.9M79.08 576.1v-1.9M79.08 420.5v1.9M82.7 576.1v-1.9M82.7 420.5v1.9M86.32 576.1v-1.9M86.32 420.5v1.9M89.94 576.1v-1.9M89.94 420.5v1.9M93.56 576.1v-1.9M93.56 420.5v1.9M97.19 576.1v-1.9M97.19 420.5v1.9M100.81 576.1v-1.9M100.81 420.5v1.9M104.43 576.1v-1.9M104.43 420.5v1.9M108.05 576.1v-1.9M108.05 420.5v1.9M111.67 576.1v-1.9M111.67 420.5v1.9M115.3 576.1v-1.9M115.3 420.5v1.9M118.92 576.1v-1.9M118.92 420.5v1.9M122.54 576.1v-1.9M122.54 420.5v1.9M126.16 576.1v-1.9M126.16 420.5v1.9M129.78 576.1v-1.9M129.78 420.5v1.9M133.41 576.1v-1.9M133.41 420.5v1.9M137.03 576.1v-1.9M137.03 420.5v1.9M140.65 576.1v-1.9M140.65 420.5v1.9M144.27 576.1v-1.9M144.27 420.5v1.9M147.89 576.1v-1.9M147.89 420.5v1.9M151.52 576.1v-1.9M151.52 420.5v1.9M155.14 576.1v-1.9M155.14 420.5v1.9M158.76 576.1v-1.9M158.76 420.5v1.9M162.38 576.1v-1.9M162.38 420.5v1.9M166 576.1v-1.9M166 420.5v1.9M169.63 576.1v-1.9M169.63 420.5v1.9M173.25 576.1v-1.9M173.25 420.5v1.9M176.87 576.1v-1.9M176.87 420.5v1.9M180.49 576.1v-1.9M180.49 420.5v1.9M184.11 576.1v-1.9M184.11 420.5v1.9M187.74 576.1v-1.9M187.74 420.5v1.9M191.36 576.1v-1.9M191.36 420.5v1.9M194.98 576.1v-1.9M194.98 420.5v1.9M198.6 576.1v-1.9M198.6 420.5v1.9M202.22 576.1v-1.9M202.22 420.5v1.9M205.85 576.1v-1.9M205.85 420.5v1.9M209.47 576.1v-1.9M209.47 420.5v1.9M213.09 576.1v-1.9M213.09 420.5v1.9M216.71 576.1v-1.9M216.71 420.5v1.9M220.33 576.1v-1.9M220.33 420.5v1.9M223.96 576.1v-1.9M223.96 420.5v1.9M227.58 576.1v-1.9M227.58 420.5v1.9M50.1 572.99h1.9M231.2 572.99h-1.9M50.1 569.88h1.9M231.2 569.88h-1.9M50.1 566.76h1.9M231.2 566.76h-1.9M50.1 563.65h1.9M231.2 563.65h-1.9M50.1 560.54h1.9M231.2 560.54h-1.9M50.1 557.43h1.9M231.2 557.43h-1.9M50.1 554.32h1.9M231.2 554.32h-1.9M50.1 551.2h1.9M231.2 551.2h-1.9M50.1 548.09h1.9M231.2 548.09h-1.9M50.1 544.98h1.9M231.2 544.98h-1.9M50.1 541.87h1.9M231.2 541.87h-1.9M50.1 538.76h1.9M231.2 538.76h-1.9M50.1 535.64h1.9M231.2 535.64h-1.9M50.1 532.53h1.9M231.2 532.53h-1.9M50.1 529.42h1.9M231.2 529.42h-1.9M50.1 526.31h1.9M231.2 526.31h-1.9M50.1 523.2h1.9M231.2 523.2h-1.9M50.1 520.08h1.9M231.2 520.08h-1.9M50.1 516.97h1.9M231.2 516.97h-1.9M50.1 513.86h1.9M231.2 513.86h-1.9M50.1 510.75h1.9M231.2 510.75h-1.9M50.1 507.64h1.9M231.2 507.64h-1.9M50.1 504.52h1.9M231.2 504.52h-1.9M50.1 501.41h1.9M231.2 501.41h-1.9M50.1 498.3h1.9M231.2 498.3h-1.9M50.1 495.19h1.9M231.2 495.19h-1.9M50.1 492.08h1.9M231.2 492.08h-1.9M50.1 488.96h1.9M231.2 488.96h-1.9M50.1 485.85h1.9M231.2 485.85h-1.9M50.1 482.74h1.9M231.2 482.74h-1.9M50.1 479.63h1.9M231.2 479.63h-1.9M50.1 476.52h1.9M231.2 476.52h-1.9M50.1 473.4h1.9M231.2 473.4h-1.9M50.1 470.29h1.9M231.2 470.29h-1.9M50.1 467.18h1.9M231.2 467.18h-1.9M50.1 464.07h1.9M231.2 464.07h-1.9M50.1 460.96h1.9M231.2 460.96h-1.9M50.1 457.84h1.9M231.2 457.84h-1.9M50.1 454.73h1.9M231.2 454.73h-1.9M50.1 451.62h1.9M231.2 451.62h-1.9M50.1 448.51h1.9M231.2 448.51h-1.9M50.1 445.4h1.9M231.2 445.4h-1.9M50.1 442.28h1.9M231.2 442.28h-1.9M50.1 439.17h1.9M231.2 439.17h-1.9M50.1 436.06h1.9M231.2 436.06h-1.9M50.1 432.95h1.9M231.2 432.95h-1.9M50.1 429.84h1.9M231.2 429.84h-1.9M50.1 426.72h1.9M231.2 426.72h-1.9M50.1 423.61h1.9M231.2 423.61h-1.9" fill="none" stroke="#444" stroke-width="1.0"/>
<text x="45.4" y="565.94" font-size="16" text-anchor="end"><tspan font-size="19">-</tspan>2</text>
<text x="45.4" y="534.82" font-size="16" text-anchor="end"><tspan font-size="19">-</tspan>1</text>
<text x="45.4" y="503.7" font-size="16" text-anchor="end">0</text>
<text x="45.4" y="472.58" font-size="16" text-anchor="end">1</text>
<text x="45.4" y="441.46" font-size="16" text-anchor="end">2</text>
<text x="50.1" y="596.9" font-size="16" text-anchor="middle" clip-path="url(#tC1)"><tspan font-size="19">-</tspan>3</text>
<text x="86.32" y="596.9" font-size="16" text-anchor="middle" clip-path="url(#tC1)"><tspan font-size="19">-</tspan>2</text>
<text x="122.54" y="596.9" font-size="16" text-anchor="middle" clip-path="url(#tC1)"><tspan font-size="19">-</tspan>1</text>
<text x="158.76" y="596.9" font-size="16" text-anchor="middle" clip-path="url(#tC1)">0</text>
<text x="194.98" y="596.9" font-size="16" text-anchor="middle" clip-path="url(#tC1)">1</text>
<text x="231.2" y="596.9" font-size="16" text-anchor="middle" clip-path="url(#tC1)">2</text>
<text x="141.25" y="615.1" font-size="17" text-anchor="middle">Re<tspan font-size="18.4">λ</tspan></text>
<text x="17.5" y="498" font-size="17" text-anchor="middle" transform="rotate(-90 17.5 498)">Im<tspan font-size="18.4">λ</tspan></text>
<text x="5" y="429.5" font-size="15" font-weight="bold">C1</text>
<path d="M123.3 494.9l6.6 6.6M123.3 501.5l6.6 -6.6M129.8 494.9l6.6 6.6M129.8 501.5l6.6 -6.6M149.9 494.9l6.6 6.6M149.9 501.5l6.6 -6.6M153.1 494.9l6.6 6.6M153.1 501.5l6.6 -6.6M160.6 494.9l6.6 6.6M160.6 501.5l6.6 -6.6M164.1 494.9l6.6 6.6M164.1 501.5l6.6 -6.6M122.9 477.4l6.6 6.6M122.9 484l6.6 -6.6M150.1 472.6l6.6 6.6M150.1 479.2l6.6 -6.6M165.2 474.4l6.6 6.6M165.2 481l6.6 -6.6M173.1 474.4l6.6 6.6M173.1 481l6.6 -6.6M138.2 479.3l6.6 6.6M138.2 485.9l6.6 -6.6M143.7 477.5l6.6 6.6M143.7 484.1l6.6 -6.6M163.5 478.7l6.6 6.6M163.5 485.3l6.6 -6.6M155.6 480.5l6.6 6.6M155.6 487.1l6.6 -6.6M175.3 481l6.6 6.6M175.3 487.6l6.6 -6.6M148.5 482.7l6.6 6.6M148.5 489.3l6.6 -6.6M141.7 484.6l6.6 6.6M141.7 491.2l6.6 -6.6M165.9 487.5l6.6 6.6M165.9 494.1l6.6 -6.6M166.7 488.4l6.6 6.6M166.7 495l6.6 -6.6M181.2 488.3l6.6 6.6M181.2 494.9l6.6 -6.6M128.9 489.7l6.6 6.6M128.9 496.3l6.6 -6.6M137.2 488l6.6 6.6M137.2 494.6l6.6 -6.6M188.1 491.2l6.6 6.6M188.1 497.8l6.6 -6.6M144.7 488.5l6.6 6.6M144.7 495.1l6.6 -6.6M151.5 490.4l6.6 6.6M151.5 497l6.6 -6.6M157.5 492.6l6.6 6.6M157.5 499.2l6.6 -6.6M161.7 491.2l6.6 6.6M161.7 497.8l6.6 -6.6M174.35 493.3l6.6 6.6M174.35 499.9l6.6 -6.6M122.9 512.4l6.6 6.6M122.9 519l6.6 -6.6M150.1 517.2l6.6 6.6M150.1 523.8l6.6 -6.6M165.2 515.4l6.6 6.6M165.2 522l6.6 -6.6M173.1 515.4l6.6 6.6M173.1 522l6.6 -6.6M138.2 510.5l6.6 6.6M138.2 517.1l6.6 -6.6M143.7 512.3l6.6 6.6M143.7 518.9l6.6 -6.6M163.5 511.1l6.6 6.6M163.5 517.7l6.6 -6.6M155.6 509.3l6.6 6.6M155.6 515.9l6.6 -6.6M175.3 508.8l6.6 6.6M175.3 515.4l6.6 -6.6M148.5 507.1l6.6 6.6M148.5 513.7l6.6 -6.6M141.7 505.2l6.6 6.6M141.7 511.8l6.6 -6.6M165.9 502.3l6.6 6.6M165.9 508.9l6.6 -6.6M166.7 501.4l6.6 6.6M166.7 508l6.6 -6.6M181.2 501.5l6.6 6.6M181.2 508.1l6.6 -6.6M128.9 500.1l6.6 6.6M128.9 506.7l6.6 -6.6M137.2 501.8l6.6 6.6M137.2 508.4l6.6 -6.6M188.1 498.6l6.6 6.6M188.1 505.2l6.6 -6.6M144.7 501.3l6.6 6.6M144.7 507.9l6.6 -6.6M151.5 499.4l6.6 6.6M151.5 506l6.6 -6.6M157.5 497.2l6.6 6.6M157.5 503.8l6.6 -6.6M161.7 498.6l6.6 6.6M161.7 505.2l6.6 -6.6M174.35 496.5l6.6 6.6M174.35 503.1l6.6 -6.6" fill="none" stroke="#000" stroke-width="1.4"/>
<path d="M562.1 18.7H743.9M652.5 4.7V160" stroke="#505050" stroke-width="0.85" fill="none"/>
<path d="M605.48 4.7V160" stroke="#444" stroke-width="1.0" stroke-dasharray="2 4.95" stroke-dashoffset="1.2" fill="none"/>
<path d="M699.52 4.7V160" stroke="#444" stroke-width="1.0" stroke-dasharray="2 4.95" stroke-dashoffset="1.2" fill="none"/>
<path d="M652.5 38.7l2.7 2.7l-2.7 2.7l-2.7 -2.7zM652.5 41.7l2.7 2.7l-2.7 2.7l-2.7 -2.7zM652.5 44.3l2.7 2.7l-2.7 2.7l-2.7 -2.7zM652.5 48.7l2.7 2.7l-2.7 2.7l-2.7 -2.7zM652.5 51l2.7 2.7l-2.7 2.7l-2.7 -2.7zM652.5 16l2.7 2.7l-2.7 2.7l-2.7 -2.7zM655.8 39.9l2.7 2.7l-2.7 2.7l-2.7 -2.7zM659.2 39.8l2.7 2.7l-2.7 2.7l-2.7 -2.7zM656.7 43.3l2.7 2.7l-2.7 2.7l-2.7 -2.7zM662.2 41.6l2.7 2.7l-2.7 2.7l-2.7 -2.7zM660.7 44.3l2.7 2.7l-2.7 2.7l-2.7 -2.7zM665.2 43.6l2.7 2.7l-2.7 2.7l-2.7 -2.7zM668.2 45.7l2.7 2.7l-2.7 2.7l-2.7 -2.7zM671.2 45.3l2.7 2.7l-2.7 2.7l-2.7 -2.7zM666.5 48.2l2.7 2.7l-2.7 2.7l-2.7 -2.7zM665.1 49.7l2.7 2.7l-2.7 2.7l-2.7 -2.7zM660.8 51.3l2.7 2.7l-2.7 2.7l-2.7 -2.7zM663.7 54.8l2.7 2.7l-2.7 2.7l-2.7 -2.7zM672.1 48.7l2.7 2.7l-2.7 2.7l-2.7 -2.7zM674.6 49.4l2.7 2.7l-2.7 2.7l-2.7 -2.7zM670.5 50.2l2.7 2.7l-2.7 2.7l-2.7 -2.7zM677.1 51.5l2.7 2.7l-2.7 2.7l-2.7 -2.7zM672.1 56.2l2.7 2.7l-2.7 2.7l-2.7 -2.7zM677.4 57.5l2.7 2.7l-2.7 2.7l-2.7 -2.7zM680.9 56l2.7 2.7l-2.7 2.7l-2.7 -2.7zM683.8 57.6l2.7 2.7l-2.7 2.7l-2.7 -2.7zM680.1 62.3l2.7 2.7l-2.7 2.7l-2.7 -2.7zM685.3 62.8l2.7 2.7l-2.7 2.7l-2.7 -2.7zM678.3 65.4l2.7 2.7l-2.7 2.7l-2.7 -2.7zM671.9 66.3l2.7 2.7l-2.7 2.7l-2.7 -2.7zM683.8 66.3l2.7 2.7l-2.7 2.7l-2.7 -2.7zM688.5 68.1l2.7 2.7l-2.7 2.7l-2.7 -2.7zM675.4 71.9l2.7 2.7l-2.7 2.7l-2.7 -2.7zM685.2 72.5l2.7 2.7l-2.7 2.7l-2.7 -2.7zM691.8 71.9l2.7 2.7l-2.7 2.7l-2.7 -2.7zM691.8 74.9l2.7 2.7l-2.7 2.7l-2.7 -2.7zM687.6 78.4l2.7 2.7l-2.7 2.7l-2.7 -2.7zM694.1 80.3l2.7 2.7l-2.7 2.7l-2.7 -2.7zM685.2 82.6l2.7 2.7l-2.7 2.7l-2.7 -2.7zM686.5 83.6l2.7 2.7l-2.7 2.7l-2.7 -2.7zM695.8 85.9l2.7 2.7l-2.7 2.7l-2.7 -2.7zM697.2 84.5l2.7 2.7l-2.7 2.7l-2.7 -2.7zM674.2 88l2.7 2.7l-2.7 2.7l-2.7 -2.7zM678.5 88l2.7 2.7l-2.7 2.7l-2.7 -2.7zM696 91l2.7 2.7l-2.7 2.7l-2.7 -2.7zM686.2 92.4l2.7 2.7l-2.7 2.7l-2.7 -2.7zM688.2 91.3l2.7 2.7l-2.7 2.7l-2.7 -2.7zM689.7 96.4l2.7 2.7l-2.7 2.7l-2.7 -2.7zM696.4 98.3l2.7 2.7l-2.7 2.7l-2.7 -2.7zM697.6 102l2.7 2.7l-2.7 2.7l-2.7 -2.7zM689.2 105l2.7 2.7l-2.7 2.7l-2.7 -2.7zM674.9 107.7l2.7 2.7l-2.7 2.7l-2.7 -2.7zM696 109.1l2.7 2.7l-2.7 2.7l-2.7 -2.7zM691.8 110.7l2.7 2.7l-2.7 2.7l-2.7 -2.7zM689.7 114.4l2.7 2.7l-2.7 2.7l-2.7 -2.7zM667.5 115.3l2.7 2.7l-2.7 2.7l-2.7 -2.7zM680.4 118.7l2.7 2.7l-2.7 2.7l-2.7 -2.7zM693.2 119.4l2.7 2.7l-2.7 2.7l-2.7 -2.7zM685 123.2l2.7 2.7l-2.7 2.7l-2.7 -2.7zM695 129.8l2.7 2.7l-2.7 2.7l-2.7 -2.7zM685.7 133.7l2.7 2.7l-2.7 2.7l-2.7 -2.7zM681.5 137l2.7 2.7l-2.7 2.7l-2.7 -2.7zM691.3 136.9l2.7 2.7l-2.7 2.7l-2.7 -2.7zM689.6 148.5l2.7 2.7l-2.7 2.7l-2.7 -2.7zM662.8 150.8l2.7 2.7l-2.7 2.7l-2.7 -2.7zM666 150.8l2.7 2.7l-2.7 2.7l-2.7 -2.7zM684.8 153.3l2.7 2.7l-2.7 2.7l-2.7 -2.7zM728.3 71.7l2.7 2.7l-2.7 2.7l-2.7 -2.7zM649.2 39.9l2.7 2.7l-2.7 2.7l-2.7 -2.7zM645.8 39.8l2.7 2.7l-2.7 2.7l-2.7 -2.7zM648.3 43.3l2.7 2.7l-2.7 2.7l-2.7 -2.7zM642.8 41.6l2.7 2.7l-2.7 2.7l-2.7 -2.7zM644.3 44.3l2.7 2.7l-2.7 2.7l-2.7 -2.7zM639.8 43.6l2.7 2.7l-2.7 2.7l-2.7 -2.7zM636.8 45.7l2.7 2.7l-2.7 2.7l-2.7 -2.7zM633.8 45.3l2.7 2.7l-2.7 2.7l-2.7 -2.7zM638.5 48.2l2.7 2.7l-2.7 2.7l-2.7 -2.7zM639.9 49.7l2.7 2.7l-2.7 2.7l-2.7 -2.7zM644.2 51.3l2.7 2.7l-2.7 2.7l-2.7 -2.7zM641.3 54.8l2.7 2.7l-2.7 2.7l-2.7 -2.7zM632.9 48.7l2.7 2.7l-2.7 2.7l-2.7 -2.7zM630.4 49.4l2.7 2.7l-2.7 2.7l-2.7 -2.7zM634.5 50.2l2.7 2.7l-2.7 2.7l-2.7 -2.7zM627.9 51.5l2.7 2.7l-2.7 2.7l-2.7 -2.7zM632.9 56.2l2.7 2.7l-2.7 2.7l-2.7 -2.7zM627.6 57.5l2.7 2.7l-2.7 2.7l-2.7 -2.7zM624.1 56l2.7 2.7l-2.7 2.7l-2.7 -2.7zM621.2 57.6l2.7 2.7l-2.7 2.7l-2.7 -2.7zM624.9 62.3l2.7 2.7l-2.7 2.7l-2.7 -2.7zM619.7 62.8l2.7 2.7l-2.7 2.7l-2.7 -2.7zM626.7 65.4l2.7 2.7l-2.7 2.7l-2.7 -2.7zM633.1 66.3l2.7 2.7l-2.7 2.7l-2.7 -2.7zM621.2 66.3l2.7 2.7l-2.7 2.7l-2.7 -2.7zM616.5 68.1l2.7 2.7l-2.7 2.7l-2.7 -2.7zM629.6 71.9l2.7 2.7l-2.7 2.7l-2.7 -2.7zM619.8 72.5l2.7 2.7l-2.7 2.7l-2.7 -2.7zM613.2 71.9l2.7 2.7l-2.7 2.7l-2.7 -2.7zM613.2 74.9l2.7 2.7l-2.7 2.7l-2.7 -2.7zM617.4 78.4l2.7 2.7l-2.7 2.7l-2.7 -2.7zM610.9 80.3l2.7 2.7l-2.7 2.7l-2.7 -2.7zM619.8 82.6l2.7 2.7l-2.7 2.7l-2.7 -2.7zM618.5 83.6l2.7 2.7l-2.7 2.7l-2.7 -2.7zM609.2 85.9l2.7 2.7l-2.7 2.7l-2.7 -2.7zM607.8 84.5l2.7 2.7l-2.7 2.7l-2.7 -2.7zM630.8 88l2.7 2.7l-2.7 2.7l-2.7 -2.7zM626.5 88l2.7 2.7l-2.7 2.7l-2.7 -2.7zM609 91l2.7 2.7l-2.7 2.7l-2.7 -2.7zM618.8 92.4l2.7 2.7l-2.7 2.7l-2.7 -2.7zM616.8 91.3l2.7 2.7l-2.7 2.7l-2.7 -2.7zM615.3 96.4l2.7 2.7l-2.7 2.7l-2.7 -2.7zM608.6 98.3l2.7 2.7l-2.7 2.7l-2.7 -2.7zM607.4 102l2.7 2.7l-2.7 2.7l-2.7 -2.7zM615.8 105l2.7 2.7l-2.7 2.7l-2.7 -2.7zM630.1 107.7l2.7 2.7l-2.7 2.7l-2.7 -2.7zM609 109.1l2.7 2.7l-2.7 2.7l-2.7 -2.7zM613.2 110.7l2.7 2.7l-2.7 2.7l-2.7 -2.7zM615.3 114.4l2.7 2.7l-2.7 2.7l-2.7 -2.7zM637.5 115.3l2.7 2.7l-2.7 2.7l-2.7 -2.7zM624.6 118.7l2.7 2.7l-2.7 2.7l-2.7 -2.7zM611.8 119.4l2.7 2.7l-2.7 2.7l-2.7 -2.7zM620 123.2l2.7 2.7l-2.7 2.7l-2.7 -2.7zM610 129.8l2.7 2.7l-2.7 2.7l-2.7 -2.7zM619.3 133.7l2.7 2.7l-2.7 2.7l-2.7 -2.7zM623.5 137l2.7 2.7l-2.7 2.7l-2.7 -2.7zM613.7 136.9l2.7 2.7l-2.7 2.7l-2.7 -2.7zM615.4 148.5l2.7 2.7l-2.7 2.7l-2.7 -2.7zM642.2 150.8l2.7 2.7l-2.7 2.7l-2.7 -2.7zM639 150.8l2.7 2.7l-2.7 2.7l-2.7 -2.7zM620.2 153.3l2.7 2.7l-2.7 2.7l-2.7 -2.7zM576.7 71.7l2.7 2.7l-2.7 2.7l-2.7 -2.7z" fill="#000" clip-path="url(#cA3)"/>
<rect x="562.1" y="4.7" width="181.8" height="155.3" fill="none" stroke="#444" stroke-width="0.9"/>
<path d="M569.86 160v-3.8M569.86 4.7v3.8M611.18 160v-3.8M611.18 4.7v3.8M652.5 160v-3.8M652.5 4.7v3.8M693.82 160v-3.8M693.82 4.7v3.8M735.14 160v-3.8M735.14 4.7v3.8M562.1 124.68h3.8M743.9 124.68h-3.8M562.1 89.35h3.8M743.9 89.35h-3.8M562.1 54.03h3.8M743.9 54.03h-3.8M562.1 18.7h3.8M743.9 18.7h-3.8" fill="none" stroke="#444" stroke-width="0.9"/>
<path d="M565.73 160v-1.8M565.73 4.7v1.8M569.86 160v-1.8M569.86 4.7v1.8M574 160v-1.8M574 4.7v1.8M578.13 160v-1.8M578.13 4.7v1.8M582.26 160v-1.8M582.26 4.7v1.8M586.39 160v-1.8M586.39 4.7v1.8M590.52 160v-1.8M590.52 4.7v1.8M594.65 160v-1.8M594.65 4.7v1.8M598.79 160v-1.8M598.79 4.7v1.8M602.92 160v-1.8M602.92 4.7v1.8M607.05 160v-1.8M607.05 4.7v1.8M611.18 160v-1.8M611.18 4.7v1.8M615.31 160v-1.8M615.31 4.7v1.8M619.45 160v-1.8M619.45 4.7v1.8M623.58 160v-1.8M623.58 4.7v1.8M627.71 160v-1.8M627.71 4.7v1.8M631.84 160v-1.8M631.84 4.7v1.8M635.97 160v-1.8M635.97 4.7v1.8M640.1 160v-1.8M640.1 4.7v1.8M644.24 160v-1.8M644.24 4.7v1.8M648.37 160v-1.8M648.37 4.7v1.8M652.5 160v-1.8M652.5 4.7v1.8M656.63 160v-1.8M656.63 4.7v1.8M660.76 160v-1.8M660.76 4.7v1.8M664.9 160v-1.8M664.9 4.7v1.8M669.03 160v-1.8M669.03 4.7v1.8M673.16 160v-1.8M673.16 4.7v1.8M677.29 160v-1.8M677.29 4.7v1.8M681.42 160v-1.8M681.42 4.7v1.8M685.55 160v-1.8M685.55 4.7v1.8M689.69 160v-1.8M689.69 4.7v1.8M693.82 160v-1.8M693.82 4.7v1.8M697.95 160v-1.8M697.95 4.7v1.8M702.08 160v-1.8M702.08 4.7v1.8M706.21 160v-1.8M706.21 4.7v1.8M710.35 160v-1.8M710.35 4.7v1.8M714.48 160v-1.8M714.48 4.7v1.8M718.61 160v-1.8M718.61 4.7v1.8M722.74 160v-1.8M722.74 4.7v1.8M726.87 160v-1.8M726.87 4.7v1.8M731 160v-1.8M731 4.7v1.8M735.14 160v-1.8M735.14 4.7v1.8M739.27 160v-1.8M739.27 4.7v1.8M743.4 160v-1.8M743.4 4.7v1.8M562.1 152.94h1.8M743.9 152.94h-1.8M562.1 145.87h1.8M743.9 145.87h-1.8M562.1 138.81h1.8M743.9 138.81h-1.8M562.1 131.74h1.8M743.9 131.74h-1.8M562.1 124.68h1.8M743.9 124.68h-1.8M562.1 117.61h1.8M743.9 117.61h-1.8M562.1 110.55h1.8M743.9 110.55h-1.8M562.1 103.48h1.8M743.9 103.48h-1.8M562.1 96.42h1.8M743.9 96.42h-1.8M562.1 89.35h1.8M743.9 89.35h-1.8M562.1 82.28h1.8M743.9 82.28h-1.8M562.1 75.22h1.8M743.9 75.22h-1.8M562.1 68.16h1.8M743.9 68.16h-1.8M562.1 61.09h1.8M743.9 61.09h-1.8M562.1 54.03h1.8M743.9 54.03h-1.8M562.1 46.96h1.8M743.9 46.96h-1.8M562.1 39.89h1.8M743.9 39.89h-1.8M562.1 32.83h1.8M743.9 32.83h-1.8M562.1 25.77h1.8M743.9 25.77h-1.8M562.1 18.7h1.8M743.9 18.7h-1.8M562.1 11.63h1.8M743.9 11.63h-1.8" fill="none" stroke="#666" stroke-width="0.9"/>
<text x="557.5" y="130.48" font-size="16" text-anchor="end"><tspan font-size="19">-</tspan>150</text>
<text x="557.5" y="95.15" font-size="16" text-anchor="end"><tspan font-size="19">-</tspan>100</text>
<text x="557.5" y="59.83" font-size="16" text-anchor="end"><tspan font-size="19">-</tspan>50</text>
<text x="557.5" y="24.5" font-size="16" text-anchor="end">0</text>
<text x="557.5" y="160.2" font-size="16" text-anchor="end"><tspan font-size="19">-</tspan>200</text>
<text x="569.86" y="180.8" font-size="16" text-anchor="middle" clip-path="url(#tA3)"><tspan font-size="19">-</tspan>20</text>
<text x="611.18" y="180.8" font-size="16" text-anchor="middle" clip-path="url(#tA3)"><tspan font-size="19">-</tspan>10</text>
<text x="652.5" y="180.8" font-size="16" text-anchor="middle" clip-path="url(#tA3)">0</text>
<text x="693.82" y="180.8" font-size="16" text-anchor="middle" clip-path="url(#tA3)">10</text>
<text x="735.14" y="180.8" font-size="16" text-anchor="middle" clip-path="url(#tA3)">20</text>
<text x="653" y="199" font-size="17" text-anchor="middle">Re<tspan font-size="15">ω</tspan> /2<tspan font-size="14.6">π</tspan></text>
<text x="516.9" y="88.1" font-size="17" text-anchor="middle" transform="rotate(-90 516.9 88.1)">Im<tspan font-size="15">ω</tspan></text>
<text x="504.6" y="13.7" font-size="15" font-weight="bold">A3</text>
<path d="M562.6 224.5H744.5M653.5 210.5V365.9" stroke="#505050" stroke-width="0.85" fill="none"/>
<path d="M606.45 210.5V365.9" stroke="#888" stroke-width="1.3" stroke-dasharray="2 4.95" stroke-dashoffset="1.2" fill="none"/>
<path d="M700.55 210.5V365.9" stroke="#888" stroke-width="1.3" stroke-dasharray="2 4.95" stroke-dashoffset="1.2" fill="none"/>
<path d="M653.5 222.6l2.7 2.7l-2.7 2.7l-2.7 -2.7zM653.5 233.8l2.7 2.7l-2.7 2.7l-2.7 -2.7zM654.9 228.8l2.7 2.7l-2.7 2.7l-2.7 -2.7zM657.8 222.9l2.7 2.7l-2.7 2.7l-2.7 -2.7zM664.4 222.3l2.7 2.7l-2.7 2.7l-2.7 -2.7zM660.6 228.3l2.7 2.7l-2.7 2.7l-2.7 -2.7zM665.4 227.9l2.7 2.7l-2.7 2.7l-2.7 -2.7zM667.6 231.1l2.7 2.7l-2.7 2.7l-2.7 -2.7zM670.1 226.9l2.7 2.7l-2.7 2.7l-2.7 -2.7zM676 225.1l2.7 2.7l-2.7 2.7l-2.7 -2.7zM673.2 230l2.7 2.7l-2.7 2.7l-2.7 -2.7zM678 229.7l2.7 2.7l-2.7 2.7l-2.7 -2.7zM681.8 227.4l2.7 2.7l-2.7 2.7l-2.7 -2.7zM663.3 234.7l2.7 2.7l-2.7 2.7l-2.7 -2.7zM659.3 241.2l2.7 2.7l-2.7 2.7l-2.7 -2.7zM683.2 232.7l2.7 2.7l-2.7 2.7l-2.7 -2.7zM675.4 236.6l2.7 2.7l-2.7 2.7l-2.7 -2.7zM672.1 240.4l2.7 2.7l-2.7 2.7l-2.7 -2.7zM682 237.9l2.7 2.7l-2.7 2.7l-2.7 -2.7zM687.4 234.7l2.7 2.7l-2.7 2.7l-2.7 -2.7zM694.1 233.4l2.7 2.7l-2.7 2.7l-2.7 -2.7zM689.6 237.9l2.7 2.7l-2.7 2.7l-2.7 -2.7zM689.6 241.3l2.7 2.7l-2.7 2.7l-2.7 -2.7zM694.5 240l2.7 2.7l-2.7 2.7l-2.7 -2.7zM696.4 240.9l2.7 2.7l-2.7 2.7l-2.7 -2.7zM682 243.3l2.7 2.7l-2.7 2.7l-2.7 -2.7zM699.5 244.4l2.7 2.7l-2.7 2.7l-2.7 -2.7zM705.5 244l2.7 2.7l-2.7 2.7l-2.7 -2.7zM695.3 247.8l2.7 2.7l-2.7 2.7l-2.7 -2.7zM690 249.9l2.7 2.7l-2.7 2.7l-2.7 -2.7zM705.1 248.8l2.7 2.7l-2.7 2.7l-2.7 -2.7zM710.8 249.1l2.7 2.7l-2.7 2.7l-2.7 -2.7zM680.2 253.9l2.7 2.7l-2.7 2.7l-2.7 -2.7zM699 255l2.7 2.7l-2.7 2.7l-2.7 -2.7zM706.4 255.1l2.7 2.7l-2.7 2.7l-2.7 -2.7zM711.9 257.5l2.7 2.7l-2.7 2.7l-2.7 -2.7zM695.8 260.6l2.7 2.7l-2.7 2.7l-2.7 -2.7zM708.2 262.4l2.7 2.7l-2.7 2.7l-2.7 -2.7zM714.8 263.5l2.7 2.7l-2.7 2.7l-2.7 -2.7zM720.2 262.4l2.7 2.7l-2.7 2.7l-2.7 -2.7zM710.8 266.4l2.7 2.7l-2.7 2.7l-2.7 -2.7zM706.2 270.7l2.7 2.7l-2.7 2.7l-2.7 -2.7zM715.5 271.1l2.7 2.7l-2.7 2.7l-2.7 -2.7zM723.9 271.8l2.7 2.7l-2.7 2.7l-2.7 -2.7zM699.5 280.1l2.7 2.7l-2.7 2.7l-2.7 -2.7zM726.2 279.1l2.7 2.7l-2.7 2.7l-2.7 -2.7zM727.6 277.9l2.7 2.7l-2.7 2.7l-2.7 -2.7zM718.9 280.7l2.7 2.7l-2.7 2.7l-2.7 -2.7zM720.2 285.2l2.7 2.7l-2.7 2.7l-2.7 -2.7zM712.8 285.8l2.7 2.7l-2.7 2.7l-2.7 -2.7zM730.9 285.7l2.7 2.7l-2.7 2.7l-2.7 -2.7zM725.5 293.8l2.7 2.7l-2.7 2.7l-2.7 -2.7zM737.4 294.9l2.7 2.7l-2.7 2.7l-2.7 -2.7zM704.6 300.9l2.7 2.7l-2.7 2.7l-2.7 -2.7zM732.2 300.4l2.7 2.7l-2.7 2.7l-2.7 -2.7zM726.9 302.7l2.7 2.7l-2.7 2.7l-2.7 -2.7zM718.5 304l2.7 2.7l-2.7 2.7l-2.7 -2.7zM727.8 309.4l2.7 2.7l-2.7 2.7l-2.7 -2.7zM736.9 309.4l2.7 2.7l-2.7 2.7l-2.7 -2.7zM734.6 318.1l2.7 2.7l-2.7 2.7l-2.7 -2.7zM741.3 325.7l2.7 2.7l-2.7 2.7l-2.7 -2.7zM716.4 326.7l2.7 2.7l-2.7 2.7l-2.7 -2.7zM726.5 329.2l2.7 2.7l-2.7 2.7l-2.7 -2.7zM742.3 339.4l2.7 2.7l-2.7 2.7l-2.7 -2.7zM732.2 343.7l2.7 2.7l-2.7 2.7l-2.7 -2.7zM722.6 350.5l2.7 2.7l-2.7 2.7l-2.7 -2.7zM699.5 361.2l2.7 2.7l-2.7 2.7l-2.7 -2.7zM741.6 362.8l2.7 2.7l-2.7 2.7l-2.7 -2.7zM652.1 228.8l2.7 2.7l-2.7 2.7l-2.7 -2.7zM649.2 222.9l2.7 2.7l-2.7 2.7l-2.7 -2.7zM642.6 222.3l2.7 2.7l-2.7 2.7l-2.7 -2.7zM646.4 228.3l2.7 2.7l-2.7 2.7l-2.7 -2.7zM641.6 227.9l2.7 2.7l-2.7 2.7l-2.7 -2.7zM639.4 231.1l2.7 2.7l-2.7 2.7l-2.7 -2.7zM636.9 226.9l2.7 2.7l-2.7 2.7l-2.7 -2.7zM631 225.1l2.7 2.7l-2.7 2.7l-2.7 -2.7zM633.8 230l2.7 2.7l-2.7 2.7l-2.7 -2.7zM629 229.7l2.7 2.7l-2.7 2.7l-2.7 -2.7zM625.2 227.4l2.7 2.7l-2.7 2.7l-2.7 -2.7zM643.7 234.7l2.7 2.7l-2.7 2.7l-2.7 -2.7zM647.7 241.2l2.7 2.7l-2.7 2.7l-2.7 -2.7zM623.8 232.7l2.7 2.7l-2.7 2.7l-2.7 -2.7zM631.6 236.6l2.7 2.7l-2.7 2.7l-2.7 -2.7zM634.9 240.4l2.7 2.7l-2.7 2.7l-2.7 -2.7zM625 237.9l2.7 2.7l-2.7 2.7l-2.7 -2.7zM619.6 234.7l2.7 2.7l-2.7 2.7l-2.7 -2.7zM612.9 233.4l2.7 2.7l-2.7 2.7l-2.7 -2.7zM617.4 237.9l2.7 2.7l-2.7 2.7l-2.7 -2.7zM617.4 241.3l2.7 2.7l-2.7 2.7l-2.7 -2.7zM612.5 240l2.7 2.7l-2.7 2.7l-2.7 -2.7zM610.6 240.9l2.7 2.7l-2.7 2.7l-2.7 -2.7zM625 243.3l2.7 2.7l-2.7 2.7l-2.7 -2.7zM607.5 244.4l2.7 2.7l-2.7 2.7l-2.7 -2.7zM601.5 244l2.7 2.7l-2.7 2.7l-2.7 -2.7zM611.7 247.8l2.7 2.7l-2.7 2.7l-2.7 -2.7zM617 249.9l2.7 2.7l-2.7 2.7l-2.7 -2.7zM601.9 248.8l2.7 2.7l-2.7 2.7l-2.7 -2.7zM596.2 249.1l2.7 2.7l-2.7 2.7l-2.7 -2.7zM626.8 253.9l2.7 2.7l-2.7 2.7l-2.7 -2.7zM608 255l2.7 2.7l-2.7 2.7l-2.7 -2.7zM600.6 255.1l2.7 2.7l-2.7 2.7l-2.7 -2.7zM595.1 257.5l2.7 2.7l-2.7 2.7l-2.7 -2.7zM611.2 260.6l2.7 2.7l-2.7 2.7l-2.7 -2.7zM598.8 262.4l2.7 2.7l-2.7 2.7l-2.7 -2.7zM592.2 263.5l2.7 2.7l-2.7 2.7l-2.7 -2.7zM586.8 262.4l2.7 2.7l-2.7 2.7l-2.7 -2.7zM596.2 266.4l2.7 2.7l-2.7 2.7l-2.7 -2.7zM600.8 270.7l2.7 2.7l-2.7 2.7l-2.7 -2.7zM591.5 271.1l2.7 2.7l-2.7 2.7l-2.7 -2.7zM583.1 271.8l2.7 2.7l-2.7 2.7l-2.7 -2.7zM607.5 280.1l2.7 2.7l-2.7 2.7l-2.7 -2.7zM580.8 279.1l2.7 2.7l-2.7 2.7l-2.7 -2.7zM579.4 277.9l2.7 2.7l-2.7 2.7l-2.7 -2.7zM588.1 280.7l2.7 2.7l-2.7 2.7l-2.7 -2.7zM586.8 285.2l2.7 2.7l-2.7 2.7l-2.7 -2.7zM594.2 285.8l2.7 2.7l-2.7 2.7l-2.7 -2.7zM576.1 285.7l2.7 2.7l-2.7 2.7l-2.7 -2.7zM581.5 293.8l2.7 2.7l-2.7 2.7l-2.7 -2.7zM569.6 294.9l2.7 2.7l-2.7 2.7l-2.7 -2.7zM602.4 300.9l2.7 2.7l-2.7 2.7l-2.7 -2.7zM574.8 300.4l2.7 2.7l-2.7 2.7l-2.7 -2.7zM580.1 302.7l2.7 2.7l-2.7 2.7l-2.7 -2.7zM588.5 304l2.7 2.7l-2.7 2.7l-2.7 -2.7zM579.2 309.4l2.7 2.7l-2.7 2.7l-2.7 -2.7zM570.1 309.4l2.7 2.7l-2.7 2.7l-2.7 -2.7zM572.4 318.1l2.7 2.7l-2.7 2.7l-2.7 -2.7zM565.7 325.7l2.7 2.7l-2.7 2.7l-2.7 -2.7zM590.6 326.7l2.7 2.7l-2.7 2.7l-2.7 -2.7zM580.5 329.2l2.7 2.7l-2.7 2.7l-2.7 -2.7zM564.7 339.4l2.7 2.7l-2.7 2.7l-2.7 -2.7zM574.8 343.7l2.7 2.7l-2.7 2.7l-2.7 -2.7zM584.4 350.5l2.7 2.7l-2.7 2.7l-2.7 -2.7zM607.5 361.2l2.7 2.7l-2.7 2.7l-2.7 -2.7zM565.4 362.8l2.7 2.7l-2.7 2.7l-2.7 -2.7zM743.4 350.5l2.7 2.7l-2.7 2.7l-2.7 -2.7zM743.4 355.2l2.7 2.7l-2.7 2.7l-2.7 -2.7z" fill="#000" clip-path="url(#cB3)"/>
<rect x="562.6" y="210.5" width="181.9" height="155.4" fill="none" stroke="#444" stroke-width="0.9"/>
<path d="M570.82 365.9v-3.8M570.82 210.5v3.8M612.16 365.9v-3.8M612.16 210.5v3.8M653.5 365.9v-3.8M653.5 210.5v3.8M694.84 365.9v-3.8M694.84 210.5v3.8M736.18 365.9v-3.8M736.18 210.5v3.8M562.6 330.55h3.8M744.5 330.55h-3.8M562.6 295.2h3.8M744.5 295.2h-3.8M562.6 259.85h3.8M744.5 259.85h-3.8M562.6 224.5h3.8M744.5 224.5h-3.8" fill="none" stroke="#444" stroke-width="0.9"/>
<path d="M566.68 365.9v-1.8M566.68 210.5v1.8M570.82 365.9v-1.8M570.82 210.5v1.8M574.95 365.9v-1.8M574.95 210.5v1.8M579.09 365.9v-1.8M579.09 210.5v1.8M583.22 365.9v-1.8M583.22 210.5v1.8M587.35 365.9v-1.8M587.35 210.5v1.8M591.49 365.9v-1.8M591.49 210.5v1.8M595.62 365.9v-1.8M595.62 210.5v1.8M599.76 365.9v-1.8M599.76 210.5v1.8M603.89 365.9v-1.8M603.89 210.5v1.8M608.02 365.9v-1.8M608.02 210.5v1.8M612.16 365.9v-1.8M612.16 210.5v1.8M616.29 365.9v-1.8M616.29 210.5v1.8M620.43 365.9v-1.8M620.43 210.5v1.8M624.56 365.9v-1.8M624.56 210.5v1.8M628.7 365.9v-1.8M628.7 210.5v1.8M632.83 365.9v-1.8M632.83 210.5v1.8M636.96 365.9v-1.8M636.96 210.5v1.8M641.1 365.9v-1.8M641.1 210.5v1.8M645.23 365.9v-1.8M645.23 210.5v1.8M649.37 365.9v-1.8M649.37 210.5v1.8M653.5 365.9v-1.8M653.5 210.5v1.8M657.63 365.9v-1.8M657.63 210.5v1.8M661.77 365.9v-1.8M661.77 210.5v1.8M665.9 365.9v-1.8M665.9 210.5v1.8M670.04 365.9v-1.8M670.04 210.5v1.8M674.17 365.9v-1.8M674.17 210.5v1.8M678.3 365.9v-1.8M678.3 210.5v1.8M682.44 365.9v-1.8M682.44 210.5v1.8M686.57 365.9v-1.8M686.57 210.5v1.8M690.71 365.9v-1.8M690.71 210.5v1.8M694.84 365.9v-1.8M694.84 210.5v1.8M698.98 365.9v-1.8M698.98 210.5v1.8M703.11 365.9v-1.8M703.11 210.5v1.8M707.24 365.9v-1.8M707.24 210.5v1.8M711.38 365.9v-1.8M711.38 210.5v1.8M715.51 365.9v-1.8M715.51 210.5v1.8M719.65 365.9v-1.8M719.65 210.5v1.8M723.78 365.9v-1.8M723.78 210.5v1.8M727.91 365.9v-1.8M727.91 210.5v1.8M732.05 365.9v-1.8M732.05 210.5v1.8M736.18 365.9v-1.8M736.18 210.5v1.8M740.32 365.9v-1.8M740.32 210.5v1.8M562.6 358.83h1.8M744.5 358.83h-1.8M562.6 351.76h1.8M744.5 351.76h-1.8M562.6 344.69h1.8M744.5 344.69h-1.8M562.6 337.62h1.8M744.5 337.62h-1.8M562.6 330.55h1.8M744.5 330.55h-1.8M562.6 323.48h1.8M744.5 323.48h-1.8M562.6 316.41h1.8M744.5 316.41h-1.8M562.6 309.34h1.8M744.5 309.34h-1.8M562.6 302.27h1.8M744.5 302.27h-1.8M562.6 295.2h1.8M744.5 295.2h-1.8M562.6 288.13h1.8M744.5 288.13h-1.8M562.6 281.06h1.8M744.5 281.06h-1.8M562.6 273.99h1.8M744.5 273.99h-1.8M562.6 266.92h1.8M744.5 266.92h-1.8M562.6 259.85h1.8M744.5 259.85h-1.8M562.6 252.78h1.8M744.5 252.78h-1.8M562.6 245.71h1.8M744.5 245.71h-1.8M562.6 238.64h1.8M744.5 238.64h-1.8M562.6 231.57h1.8M744.5 231.57h-1.8M562.6 224.5h1.8M744.5 224.5h-1.8M562.6 217.43h1.8M744.5 217.43h-1.8" fill="none" stroke="#666" stroke-width="0.9"/>
<text x="558" y="336.35" font-size="16" text-anchor="end"><tspan font-size="19">-</tspan>150</text>
<text x="558" y="301" font-size="16" text-anchor="end"><tspan font-size="19">-</tspan>100</text>
<text x="558" y="265.65" font-size="16" text-anchor="end"><tspan font-size="19">-</tspan>50</text>
<text x="558" y="230.3" font-size="16" text-anchor="end">0</text>
<text x="558" y="366.1" font-size="16" text-anchor="end"><tspan font-size="19">-</tspan>200</text>
<text x="570.82" y="386.7" font-size="16" text-anchor="middle" clip-path="url(#tB3)"><tspan font-size="19">-</tspan>20</text>
<text x="612.16" y="386.7" font-size="16" text-anchor="middle" clip-path="url(#tB3)"><tspan font-size="19">-</tspan>10</text>
<text x="653.5" y="386.7" font-size="16" text-anchor="middle" clip-path="url(#tB3)">0</text>
<text x="694.84" y="386.7" font-size="16" text-anchor="middle" clip-path="url(#tB3)">10</text>
<text x="736.18" y="386.7" font-size="16" text-anchor="middle" clip-path="url(#tB3)">20</text>
<text x="653.55" y="404.9" font-size="17" text-anchor="middle">Re<tspan font-size="15">ω</tspan> /2<tspan font-size="14.6">π</tspan></text>
<text x="517.4" y="294" font-size="17" text-anchor="middle" transform="rotate(-90 517.4 294)">Im<tspan font-size="15">ω</tspan></text>
<text x="505.3" y="218.2" font-size="15" font-weight="bold">B3</text>
<path d="M562.6 436.6H744.5M653.5 422.6V577.8" stroke="#505050" stroke-width="0.85" fill="none"/>
<path d="M606.45 422.6V577.8" stroke="#555" stroke-width="1.1" stroke-dasharray="2 4.95" stroke-dashoffset="1.2" fill="none"/>
<path d="M700.55 422.6V577.8" stroke="#555" stroke-width="1.1" stroke-dasharray="2 4.95" stroke-dashoffset="1.2" fill="none"/>
<path d="M653.5 442.4l2.7 2.7l-2.7 2.7l-2.7 -2.7zM653.5 451.3l2.7 2.7l-2.7 2.7l-2.7 -2.7zM653.5 461.5l2.7 2.7l-2.7 2.7l-2.7 -2.7zM655.7 434.4l2.7 2.7l-2.7 2.7l-2.7 -2.7zM657.1 438l2.7 2.7l-2.7 2.7l-2.7 -2.7zM661.9 439.2l2.7 2.7l-2.7 2.7l-2.7 -2.7zM665.4 437.2l2.7 2.7l-2.7 2.7l-2.7 -2.7zM667.8 440l2.7 2.7l-2.7 2.7l-2.7 -2.7zM667 443.2l2.7 2.7l-2.7 2.7l-2.7 -2.7zM661.3 446l2.7 2.7l-2.7 2.7l-2.7 -2.7zM658.9 448.5l2.7 2.7l-2.7 2.7l-2.7 -2.7zM670.6 446.4l2.7 2.7l-2.7 2.7l-2.7 -2.7zM667.8 448.5l2.7 2.7l-2.7 2.7l-2.7 -2.7zM675 442l2.7 2.7l-2.7 2.7l-2.7 -2.7zM677.8 444.8l2.7 2.7l-2.7 2.7l-2.7 -2.7zM681.5 445.6l2.7 2.7l-2.7 2.7l-2.7 -2.7zM687.1 441.9l2.7 2.7l-2.7 2.7l-2.7 -2.7zM675.4 449.7l2.7 2.7l-2.7 2.7l-2.7 -2.7zM680.3 450.1l2.7 2.7l-2.7 2.7l-2.7 -2.7zM684.3 451.7l2.7 2.7l-2.7 2.7l-2.7 -2.7zM679.5 454.5l2.7 2.7l-2.7 2.7l-2.7 -2.7zM688.7 448.5l2.7 2.7l-2.7 2.7l-2.7 -2.7zM692.7 448.5l2.7 2.7l-2.7 2.7l-2.7 -2.7zM690.3 452.1l2.7 2.7l-2.7 2.7l-2.7 -2.7zM693.9 452.5l2.7 2.7l-2.7 2.7l-2.7 -2.7zM700.3 451.7l2.7 2.7l-2.7 2.7l-2.7 -2.7zM665.8 457.6l2.7 2.7l-2.7 2.7l-2.7 -2.7zM673 457.3l2.7 2.7l-2.7 2.7l-2.7 -2.7zM692.7 458.1l2.7 2.7l-2.7 2.7l-2.7 -2.7zM699.6 459.5l2.7 2.7l-2.7 2.7l-2.7 -2.7zM674.6 464.8l2.7 2.7l-2.7 2.7l-2.7 -2.7zM691.9 464.6l2.7 2.7l-2.7 2.7l-2.7 -2.7zM696 462.5l2.7 2.7l-2.7 2.7l-2.7 -2.7zM701.5 463.1l2.7 2.7l-2.7 2.7l-2.7 -2.7zM706.2 465.3l2.7 2.7l-2.7 2.7l-2.7 -2.7zM698 467.8l2.7 2.7l-2.7 2.7l-2.7 -2.7zM682.3 472.6l2.7 2.7l-2.7 2.7l-2.7 -2.7zM690.4 473.2l2.7 2.7l-2.7 2.7l-2.7 -2.7zM703.1 473.1l2.7 2.7l-2.7 2.7l-2.7 -2.7zM702.5 477.4l2.7 2.7l-2.7 2.7l-2.7 -2.7zM711.9 473.8l2.7 2.7l-2.7 2.7l-2.7 -2.7zM709.5 476.4l2.7 2.7l-2.7 2.7l-2.7 -2.7zM716.4 475.5l2.7 2.7l-2.7 2.7l-2.7 -2.7zM716.4 481.5l2.7 2.7l-2.7 2.7l-2.7 -2.7zM691.9 483.1l2.7 2.7l-2.7 2.7l-2.7 -2.7zM707.5 486.9l2.7 2.7l-2.7 2.7l-2.7 -2.7zM706.2 490.1l2.7 2.7l-2.7 2.7l-2.7 -2.7zM721.1 487.4l2.7 2.7l-2.7 2.7l-2.7 -2.7zM726.9 487.4l2.7 2.7l-2.7 2.7l-2.7 -2.7zM729.6 493.2l2.7 2.7l-2.7 2.7l-2.7 -2.7zM717.3 494.1l2.7 2.7l-2.7 2.7l-2.7 -2.7zM718.9 497.4l2.7 2.7l-2.7 2.7l-2.7 -2.7zM726.5 497.8l2.7 2.7l-2.7 2.7l-2.7 -2.7zM705.1 501.1l2.7 2.7l-2.7 2.7l-2.7 -2.7zM688.5 505l2.7 2.7l-2.7 2.7l-2.7 -2.7zM728.6 506.5l2.7 2.7l-2.7 2.7l-2.7 -2.7zM712.6 509.6l2.7 2.7l-2.7 2.7l-2.7 -2.7zM716.2 511.3l2.7 2.7l-2.7 2.7l-2.7 -2.7zM733.6 511.1l2.7 2.7l-2.7 2.7l-2.7 -2.7zM726.9 518.7l2.7 2.7l-2.7 2.7l-2.7 -2.7zM732.2 518l2.7 2.7l-2.7 2.7l-2.7 -2.7zM720.2 525.6l2.7 2.7l-2.7 2.7l-2.7 -2.7zM701.5 529.1l2.7 2.7l-2.7 2.7l-2.7 -2.7zM724.9 529.8l2.7 2.7l-2.7 2.7l-2.7 -2.7zM736.5 533.4l2.7 2.7l-2.7 2.7l-2.7 -2.7zM724.9 542.4l2.7 2.7l-2.7 2.7l-2.7 -2.7zM735.2 542.1l2.7 2.7l-2.7 2.7l-2.7 -2.7zM708.2 545l2.7 2.7l-2.7 2.7l-2.7 -2.7zM737.6 549l2.7 2.7l-2.7 2.7l-2.7 -2.7zM729.6 552.1l2.7 2.7l-2.7 2.7l-2.7 -2.7zM694.1 556.5l2.7 2.7l-2.7 2.7l-2.7 -2.7zM721.5 555.7l2.7 2.7l-2.7 2.7l-2.7 -2.7zM732.2 562.8l2.7 2.7l-2.7 2.7l-2.7 -2.7zM742.7 568.2l2.7 2.7l-2.7 2.7l-2.7 -2.7zM651.3 434.4l2.7 2.7l-2.7 2.7l-2.7 -2.7zM649.9 438l2.7 2.7l-2.7 2.7l-2.7 -2.7zM645.1 439.2l2.7 2.7l-2.7 2.7l-2.7 -2.7zM641.6 437.2l2.7 2.7l-2.7 2.7l-2.7 -2.7zM639.2 440l2.7 2.7l-2.7 2.7l-2.7 -2.7zM640 443.2l2.7 2.7l-2.7 2.7l-2.7 -2.7zM645.7 446l2.7 2.7l-2.7 2.7l-2.7 -2.7zM648.1 448.5l2.7 2.7l-2.7 2.7l-2.7 -2.7zM636.4 446.4l2.7 2.7l-2.7 2.7l-2.7 -2.7zM639.2 448.5l2.7 2.7l-2.7 2.7l-2.7 -2.7zM632 442l2.7 2.7l-2.7 2.7l-2.7 -2.7zM629.2 444.8l2.7 2.7l-2.7 2.7l-2.7 -2.7zM625.5 445.6l2.7 2.7l-2.7 2.7l-2.7 -2.7zM619.9 441.9l2.7 2.7l-2.7 2.7l-2.7 -2.7zM631.6 449.7l2.7 2.7l-2.7 2.7l-2.7 -2.7zM626.7 450.1l2.7 2.7l-2.7 2.7l-2.7 -2.7zM622.7 451.7l2.7 2.7l-2.7 2.7l-2.7 -2.7zM627.5 454.5l2.7 2.7l-2.7 2.7l-2.7 -2.7zM618.3 448.5l2.7 2.7l-2.7 2.7l-2.7 -2.7zM614.3 448.5l2.7 2.7l-2.7 2.7l-2.7 -2.7zM616.7 452.1l2.7 2.7l-2.7 2.7l-2.7 -2.7zM613.1 452.5l2.7 2.7l-2.7 2.7l-2.7 -2.7zM606.7 451.7l2.7 2.7l-2.7 2.7l-2.7 -2.7zM641.2 457.6l2.7 2.7l-2.7 2.7l-2.7 -2.7zM634 457.3l2.7 2.7l-2.7 2.7l-2.7 -2.7zM614.3 458.1l2.7 2.7l-2.7 2.7l-2.7 -2.7zM607.4 459.5l2.7 2.7l-2.7 2.7l-2.7 -2.7zM632.4 464.8l2.7 2.7l-2.7 2.7l-2.7 -2.7zM615.1 464.6l2.7 2.7l-2.7 2.7l-2.7 -2.7zM611 462.5l2.7 2.7l-2.7 2.7l-2.7 -2.7zM605.5 463.1l2.7 2.7l-2.7 2.7l-2.7 -2.7zM600.8 465.3l2.7 2.7l-2.7 2.7l-2.7 -2.7zM609 467.8l2.7 2.7l-2.7 2.7l-2.7 -2.7zM624.7 472.6l2.7 2.7l-2.7 2.7l-2.7 -2.7zM616.6 473.2l2.7 2.7l-2.7 2.7l-2.7 -2.7zM603.9 473.1l2.7 2.7l-2.7 2.7l-2.7 -2.7zM604.5 477.4l2.7 2.7l-2.7 2.7l-2.7 -2.7zM595.1 473.8l2.7 2.7l-2.7 2.7l-2.7 -2.7zM597.5 476.4l2.7 2.7l-2.7 2.7l-2.7 -2.7zM590.6 475.5l2.7 2.7l-2.7 2.7l-2.7 -2.7zM590.6 481.5l2.7 2.7l-2.7 2.7l-2.7 -2.7zM615.1 483.1l2.7 2.7l-2.7 2.7l-2.7 -2.7zM599.5 486.9l2.7 2.7l-2.7 2.7l-2.7 -2.7zM600.8 490.1l2.7 2.7l-2.7 2.7l-2.7 -2.7zM585.9 487.4l2.7 2.7l-2.7 2.7l-2.7 -2.7zM580.1 487.4l2.7 2.7l-2.7 2.7l-2.7 -2.7zM577.4 493.2l2.7 2.7l-2.7 2.7l-2.7 -2.7zM589.7 494.1l2.7 2.7l-2.7 2.7l-2.7 -2.7zM588.1 497.4l2.7 2.7l-2.7 2.7l-2.7 -2.7zM580.5 497.8l2.7 2.7l-2.7 2.7l-2.7 -2.7zM601.9 501.1l2.7 2.7l-2.7 2.7l-2.7 -2.7zM618.5 505l2.7 2.7l-2.7 2.7l-2.7 -2.7zM578.4 506.5l2.7 2.7l-2.7 2.7l-2.7 -2.7zM594.4 509.6l2.7 2.7l-2.7 2.7l-2.7 -2.7zM590.8 511.3l2.7 2.7l-2.7 2.7l-2.7 -2.7zM573.4 511.1l2.7 2.7l-2.7 2.7l-2.7 -2.7zM580.1 518.7l2.7 2.7l-2.7 2.7l-2.7 -2.7zM574.8 518l2.7 2.7l-2.7 2.7l-2.7 -2.7zM586.8 525.6l2.7 2.7l-2.7 2.7l-2.7 -2.7zM605.5 529.1l2.7 2.7l-2.7 2.7l-2.7 -2.7zM582.1 529.8l2.7 2.7l-2.7 2.7l-2.7 -2.7zM570.5 533.4l2.7 2.7l-2.7 2.7l-2.7 -2.7zM582.1 542.4l2.7 2.7l-2.7 2.7l-2.7 -2.7zM571.8 542.1l2.7 2.7l-2.7 2.7l-2.7 -2.7zM598.8 545l2.7 2.7l-2.7 2.7l-2.7 -2.7zM569.4 549l2.7 2.7l-2.7 2.7l-2.7 -2.7zM577.4 552.1l2.7 2.7l-2.7 2.7l-2.7 -2.7zM612.9 556.5l2.7 2.7l-2.7 2.7l-2.7 -2.7zM585.5 555.7l2.7 2.7l-2.7 2.7l-2.7 -2.7zM574.8 562.8l2.7 2.7l-2.7 2.7l-2.7 -2.7zM564.3 568.2l2.7 2.7l-2.7 2.7l-2.7 -2.7z" fill="#000" clip-path="url(#cC3)"/>
<rect x="562.6" y="422.6" width="181.9" height="155.2" fill="none" stroke="#444" stroke-width="0.9"/>
<path d="M570.82 577.8v-3.8M570.82 422.6v3.8M612.16 577.8v-3.8M612.16 422.6v3.8M653.5 577.8v-3.8M653.5 422.6v3.8M694.84 577.8v-3.8M694.84 422.6v3.8M736.18 577.8v-3.8M736.18 422.6v3.8M562.6 542.5h3.8M744.5 542.5h-3.8M562.6 507.2h3.8M744.5 507.2h-3.8M562.6 471.9h3.8M744.5 471.9h-3.8M562.6 436.6h3.8M744.5 436.6h-3.8" fill="none" stroke="#444" stroke-width="0.9"/>
<path d="M566.68 577.8v-1.8M566.68 422.6v1.8M570.82 577.8v-1.8M570.82 422.6v1.8M574.95 577.8v-1.8M574.95 422.6v1.8M579.09 577.8v-1.8M579.09 422.6v1.8M583.22 577.8v-1.8M583.22 422.6v1.8M587.35 577.8v-1.8M587.35 422.6v1.8M591.49 577.8v-1.8M591.49 422.6v1.8M595.62 577.8v-1.8M595.62 422.6v1.8M599.76 577.8v-1.8M599.76 422.6v1.8M603.89 577.8v-1.8M603.89 422.6v1.8M608.02 577.8v-1.8M608.02 422.6v1.8M612.16 577.8v-1.8M612.16 422.6v1.8M616.29 577.8v-1.8M616.29 422.6v1.8M620.43 577.8v-1.8M620.43 422.6v1.8M624.56 577.8v-1.8M624.56 422.6v1.8M628.7 577.8v-1.8M628.7 422.6v1.8M632.83 577.8v-1.8M632.83 422.6v1.8M636.96 577.8v-1.8M636.96 422.6v1.8M641.1 577.8v-1.8M641.1 422.6v1.8M645.23 577.8v-1.8M645.23 422.6v1.8M649.37 577.8v-1.8M649.37 422.6v1.8M653.5 577.8v-1.8M653.5 422.6v1.8M657.63 577.8v-1.8M657.63 422.6v1.8M661.77 577.8v-1.8M661.77 422.6v1.8M665.9 577.8v-1.8M665.9 422.6v1.8M670.04 577.8v-1.8M670.04 422.6v1.8M674.17 577.8v-1.8M674.17 422.6v1.8M678.3 577.8v-1.8M678.3 422.6v1.8M682.44 577.8v-1.8M682.44 422.6v1.8M686.57 577.8v-1.8M686.57 422.6v1.8M690.71 577.8v-1.8M690.71 422.6v1.8M694.84 577.8v-1.8M694.84 422.6v1.8M698.98 577.8v-1.8M698.98 422.6v1.8M703.11 577.8v-1.8M703.11 422.6v1.8M707.24 577.8v-1.8M707.24 422.6v1.8M711.38 577.8v-1.8M711.38 422.6v1.8M715.51 577.8v-1.8M715.51 422.6v1.8M719.65 577.8v-1.8M719.65 422.6v1.8M723.78 577.8v-1.8M723.78 422.6v1.8M727.91 577.8v-1.8M727.91 422.6v1.8M732.05 577.8v-1.8M732.05 422.6v1.8M736.18 577.8v-1.8M736.18 422.6v1.8M740.32 577.8v-1.8M740.32 422.6v1.8M562.6 570.74h1.8M744.5 570.74h-1.8M562.6 563.68h1.8M744.5 563.68h-1.8M562.6 556.62h1.8M744.5 556.62h-1.8M562.6 549.56h1.8M744.5 549.56h-1.8M562.6 542.5h1.8M744.5 542.5h-1.8M562.6 535.44h1.8M744.5 535.44h-1.8M562.6 528.38h1.8M744.5 528.38h-1.8M562.6 521.32h1.8M744.5 521.32h-1.8M562.6 514.26h1.8M744.5 514.26h-1.8M562.6 507.2h1.8M744.5 507.2h-1.8M562.6 500.14h1.8M744.5 500.14h-1.8M562.6 493.08h1.8M744.5 493.08h-1.8M562.6 486.02h1.8M744.5 486.02h-1.8M562.6 478.96h1.8M744.5 478.96h-1.8M562.6 471.9h1.8M744.5 471.9h-1.8M562.6 464.84h1.8M744.5 464.84h-1.8M562.6 457.78h1.8M744.5 457.78h-1.8M562.6 450.72h1.8M744.5 450.72h-1.8M562.6 443.66h1.8M744.5 443.66h-1.8M562.6 436.6h1.8M744.5 436.6h-1.8M562.6 429.54h1.8M744.5 429.54h-1.8" fill="none" stroke="#666" stroke-width="0.9"/>
<text x="558" y="548.3" font-size="16" text-anchor="end"><tspan font-size="19">-</tspan>150</text>
<text x="558" y="513" font-size="16" text-anchor="end"><tspan font-size="19">-</tspan>100</text>
<text x="558" y="477.7" font-size="16" text-anchor="end"><tspan font-size="19">-</tspan>50</text>
<text x="558" y="442.4" font-size="16" text-anchor="end">0</text>
<text x="558" y="578" font-size="16" text-anchor="end"><tspan font-size="19">-</tspan>200</text>
<text x="570.82" y="598.6" font-size="16" text-anchor="middle" clip-path="url(#tC3)"><tspan font-size="19">-</tspan>20</text>
<text x="612.16" y="598.6" font-size="16" text-anchor="middle" clip-path="url(#tC3)"><tspan font-size="19">-</tspan>10</text>
<text x="653.5" y="598.6" font-size="16" text-anchor="middle" clip-path="url(#tC3)">0</text>
<text x="694.84" y="598.6" font-size="16" text-anchor="middle" clip-path="url(#tC3)">10</text>
<text x="736.18" y="598.6" font-size="16" text-anchor="middle" clip-path="url(#tC3)">20</text>
<text x="653.55" y="616.8" font-size="17" text-anchor="middle">Re<tspan font-size="15">ω</tspan> /2<tspan font-size="14.6">π</tspan></text>
<text x="517.4" y="505.8" font-size="17" text-anchor="middle" transform="rotate(-90 517.4 505.8)">Im<tspan font-size="15">ω</tspan></text>
<text x="504.8" y="429.3" font-size="15" font-weight="bold">C3</text>
<path d="M305.8 14.65H487.2M396.4 3.85V159.4" stroke="#505050" stroke-width="0.85" fill="none"/>
<path d="M396.47 16.9L397.83 17.42L399.19 17.94L399.89 18.46L400.5 18.98L401.12 19.5L401.49 20.02L401.71 20.54L401.93 21.06L402.15 21.58L402.37 22.1L402.59 22.62L402.77 23.14L402.85 23.66L402.93 24.18L403.01 24.71L403.08 25.23L403.16 25.75L403.24 26.27L403.32 26.79L403.33 27.31L403.31 27.83L403.28 28.35L403.26 28.87L403.23 29.39L403.2 29.91L403.18 30.43L403.15 30.95L403.09 31.47L403.03 31.99L402.97 32.51L402.91 33.03L402.85 33.55L402.79 34.07L402.71 34.59L402.61 35.11L402.51 35.63L402.41 36.15L402.31 36.67L402.21 37.19L402.11 37.71L401.99 38.23L401.85 38.75L401.71 39.27L401.58 39.79L401.44 40.32L401.3 40.84L401.17 41.36L401.01 41.88L400.76 42.4L400.51 42.92L400.26 43.44L400.01 43.96L399.76 44.48L399.4 45L399.03 45.52L398.66 46.04L398.08 46.56L397.41 47.08L396.4 47.6L396.4 47.6L395.39 47.08L394.72 46.56L394.14 46.04L393.77 45.52L393.4 45L393.04 44.48L392.79 43.96L392.54 43.44L392.29 42.92L392.04 42.4L391.79 41.88L391.63 41.36L391.5 40.84L391.36 40.32L391.22 39.79L391.09 39.27L390.95 38.75L390.81 38.23L390.69 37.71L390.59 37.19L390.49 36.67L390.39 36.15L390.29 35.63L390.19 35.11L390.09 34.59L390.01 34.07L389.95 33.55L389.89 33.03L389.83 32.51L389.77 31.99L389.71 31.47L389.65 30.95L389.62 30.43L389.6 29.91L389.57 29.39L389.54 28.87L389.52 28.35L389.49 27.83L389.47 27.31L389.48 26.79L389.56 26.27L389.64 25.75L389.72 25.23L389.79 24.71L389.87 24.18L389.95 23.66L390.03 23.14L390.21 22.62L390.43 22.1L390.65 21.58L390.87 21.06L391.09 20.54L391.31 20.02L391.68 19.5L392.3 18.98L392.91 18.46L393.61 17.94L394.97 17.42L396.33 16.9z" fill="#000"/>
<path d="M396.4 12.65l1.95 1.95l-1.95 1.95l-1.95 -1.95zM396.4 128.15l1.95 1.95l-1.95 1.95l-1.95 -1.95zM396.4 130.15l1.95 1.95l-1.95 1.95l-1.95 -1.95zM396.4 155.85l1.95 1.95l-1.95 1.95l-1.95 -1.95zM401.6 130.85l1.95 1.95l-1.95 1.95l-1.95 -1.95zM408.7 132.15l1.95 1.95l-1.95 1.95l-1.95 -1.95zM411.4 131.05l1.95 1.95l-1.95 1.95l-1.95 -1.95zM417.4 133.45l1.95 1.95l-1.95 1.95l-1.95 -1.95zM418.7 137.45l1.95 1.95l-1.95 1.95l-1.95 -1.95zM421.4 139.45l1.95 1.95l-1.95 1.95l-1.95 -1.95zM424.5 136.55l1.95 1.95l-1.95 1.95l-1.95 -1.95zM430.5 135.05l1.95 1.95l-1.95 1.95l-1.95 -1.95zM433.9 137.75l1.95 1.95l-1.95 1.95l-1.95 -1.95zM406 139.45l1.95 1.95l-1.95 1.95l-1.95 -1.95zM401.6 141.45l1.95 1.95l-1.95 1.95l-1.95 -1.95zM401.6 144.15l1.95 1.95l-1.95 1.95l-1.95 -1.95zM413.8 140.55l1.95 1.95l-1.95 1.95l-1.95 -1.95zM427.2 142.85l1.95 1.95l-1.95 1.95l-1.95 -1.95zM432.5 141.45l1.95 1.95l-1.95 1.95l-1.95 -1.95zM434.4 144.15l1.95 1.95l-1.95 1.95l-1.95 -1.95zM425 147.55l1.95 1.95l-1.95 1.95l-1.95 -1.95zM439.2 138.85l1.95 1.95l-1.95 1.95l-1.95 -1.95zM441.1 141.95l1.95 1.95l-1.95 1.95l-1.95 -1.95zM443.7 140.45l1.95 1.95l-1.95 1.95l-1.95 -1.95zM448.8 141.95l1.95 1.95l-1.95 1.95l-1.95 -1.95zM452.4 141.25l1.95 1.95l-1.95 1.95l-1.95 -1.95zM448.4 145.55l1.95 1.95l-1.95 1.95l-1.95 -1.95zM446.4 147.15l1.95 1.95l-1.95 1.95l-1.95 -1.95zM439.4 150.35l1.95 1.95l-1.95 1.95l-1.95 -1.95zM440 150.85l1.95 1.95l-1.95 1.95l-1.95 -1.95zM453.1 149.25l1.95 1.95l-1.95 1.95l-1.95 -1.95zM453.8 153.55l1.95 1.95l-1.95 1.95l-1.95 -1.95zM456.8 145.25l1.95 1.95l-1.95 1.95l-1.95 -1.95zM458.9 149.25l1.95 1.95l-1.95 1.95l-1.95 -1.95zM461.5 148.55l1.95 1.95l-1.95 1.95l-1.95 -1.95zM462.9 145.75l1.95 1.95l-1.95 1.95l-1.95 -1.95zM464.2 152.15l1.95 1.95l-1.95 1.95l-1.95 -1.95zM467.8 145.95l1.95 1.95l-1.95 1.95l-1.95 -1.95zM469.8 147.25l1.95 1.95l-1.95 1.95l-1.95 -1.95zM470.2 153.55l1.95 1.95l-1.95 1.95l-1.95 -1.95zM474.5 148.55l1.95 1.95l-1.95 1.95l-1.95 -1.95zM478.5 148.55l1.95 1.95l-1.95 1.95l-1.95 -1.95zM482 150.85l1.95 1.95l-1.95 1.95l-1.95 -1.95zM486.9 152.15l1.95 1.95l-1.95 1.95l-1.95 -1.95zM473.6 156.45l1.95 1.95l-1.95 1.95l-1.95 -1.95zM418.5 156.25l1.95 1.95l-1.95 1.95l-1.95 -1.95zM484.3 122.55l1.95 1.95l-1.95 1.95l-1.95 -1.95zM406 71.35l1.95 1.95l-1.95 1.95l-1.95 -1.95zM406.9 21.45l1.95 1.95l-1.95 1.95l-1.95 -1.95zM391.2 130.85l1.95 1.95l-1.95 1.95l-1.95 -1.95zM384.1 132.15l1.95 1.95l-1.95 1.95l-1.95 -1.95zM381.4 131.05l1.95 1.95l-1.95 1.95l-1.95 -1.95zM375.4 133.45l1.95 1.95l-1.95 1.95l-1.95 -1.95zM374.1 137.45l1.95 1.95l-1.95 1.95l-1.95 -1.95zM371.4 139.45l1.95 1.95l-1.95 1.95l-1.95 -1.95zM368.3 136.55l1.95 1.95l-1.95 1.95l-1.95 -1.95zM362.3 135.05l1.95 1.95l-1.95 1.95l-1.95 -1.95zM358.9 137.75l1.95 1.95l-1.95 1.95l-1.95 -1.95zM386.8 139.45l1.95 1.95l-1.95 1.95l-1.95 -1.95zM391.2 141.45l1.95 1.95l-1.95 1.95l-1.95 -1.95zM391.2 144.15l1.95 1.95l-1.95 1.95l-1.95 -1.95zM379 140.55l1.95 1.95l-1.95 1.95l-1.95 -1.95zM365.6 142.85l1.95 1.95l-1.95 1.95l-1.95 -1.95zM360.3 141.45l1.95 1.95l-1.95 1.95l-1.95 -1.95zM358.4 144.15l1.95 1.95l-1.95 1.95l-1.95 -1.95zM367.8 147.55l1.95 1.95l-1.95 1.95l-1.95 -1.95zM353.6 138.85l1.95 1.95l-1.95 1.95l-1.95 -1.95zM351.7 141.95l1.95 1.95l-1.95 1.95l-1.95 -1.95zM349.1 140.45l1.95 1.95l-1.95 1.95l-1.95 -1.95zM344 141.95l1.95 1.95l-1.95 1.95l-1.95 -1.95zM340.4 141.25l1.95 1.95l-1.95 1.95l-1.95 -1.95zM344.4 145.55l1.95 1.95l-1.95 1.95l-1.95 -1.95zM346.4 147.15l1.95 1.95l-1.95 1.95l-1.95 -1.95zM353.4 150.35l1.95 1.95l-1.95 1.95l-1.95 -1.95zM352.8 150.85l1.95 1.95l-1.95 1.95l-1.95 -1.95zM339.7 149.25l1.95 1.95l-1.95 1.95l-1.95 -1.95zM339 153.55l1.95 1.95l-1.95 1.95l-1.95 -1.95zM336 145.25l1.95 1.95l-1.95 1.95l-1.95 -1.95zM333.9 149.25l1.95 1.95l-1.95 1.95l-1.95 -1.95zM331.3 148.55l1.95 1.95l-1.95 1.95l-1.95 -1.95zM329.9 145.75l1.95 1.95l-1.95 1.95l-1.95 -1.95zM328.6 152.15l1.95 1.95l-1.95 1.95l-1.95 -1.95zM325 145.95l1.95 1.95l-1.95 1.95l-1.95 -1.95zM323 147.25l1.95 1.95l-1.95 1.95l-1.95 -1.95zM322.6 153.55l1.95 1.95l-1.95 1.95l-1.95 -1.95zM318.3 148.55l1.95 1.95l-1.95 1.95l-1.95 -1.95zM314.3 148.55l1.95 1.95l-1.95 1.95l-1.95 -1.95zM310.8 150.85l1.95 1.95l-1.95 1.95l-1.95 -1.95zM305.9 152.15l1.95 1.95l-1.95 1.95l-1.95 -1.95zM319.2 156.45l1.95 1.95l-1.95 1.95l-1.95 -1.95zM374.3 156.25l1.95 1.95l-1.95 1.95l-1.95 -1.95zM308.5 122.55l1.95 1.95l-1.95 1.95l-1.95 -1.95zM386.8 71.35l1.95 1.95l-1.95 1.95l-1.95 -1.95zM385.9 21.45l1.95 1.95l-1.95 1.95l-1.95 -1.95zM396.4 16.28l1.95 1.95l-1.95 1.95l-1.95 -1.95zM396.4 16.75l1.95 1.95l-1.95 1.95l-1.95 -1.95zM396.4 17.16l1.95 1.95l-1.95 1.95l-1.95 -1.95zM396.4 17.85l1.95 1.95l-1.95 1.95l-1.95 -1.95zM396.4 18.21l1.95 1.95l-1.95 1.95l-1.95 -1.95zM396.86 16.47l1.95 1.95l-1.95 1.95l-1.95 -1.95zM397.33 16.45l1.95 1.95l-1.95 1.95l-1.95 -1.95zM396.98 17l1.95 1.95l-1.95 1.95l-1.95 -1.95zM397.74 16.73l1.95 1.95l-1.95 1.95l-1.95 -1.95zM397.53 17.16l1.95 1.95l-1.95 1.95l-1.95 -1.95zM398.15 17.05l1.95 1.95l-1.95 1.95l-1.95 -1.95zM398.57 17.38l1.95 1.95l-1.95 1.95l-1.95 -1.95zM398.98 17.32l1.95 1.95l-1.95 1.95l-1.95 -1.95zM398.33 17.77l1.95 1.95l-1.95 1.95l-1.95 -1.95zM398.14 18.01l1.95 1.95l-1.95 1.95l-1.95 -1.95zM397.55 18.26l1.95 1.95l-1.95 1.95l-1.95 -1.95zM397.95 18.81l1.95 1.95l-1.95 1.95l-1.95 -1.95zM399.11 17.85l1.95 1.95l-1.95 1.95l-1.95 -1.95zM399.45 17.96l1.95 1.95l-1.95 1.95l-1.95 -1.95zM398.89 18.09l1.95 1.95l-1.95 1.95l-1.95 -1.95zM399.8 18.29l1.95 1.95l-1.95 1.95l-1.95 -1.95zM399.11 19.03l1.95 1.95l-1.95 1.95l-1.95 -1.95zM399.84 19.24l1.95 1.95l-1.95 1.95l-1.95 -1.95zM400.32 19l1.95 1.95l-1.95 1.95l-1.95 -1.95zM400.72 19.25l1.95 1.95l-1.95 1.95l-1.95 -1.95zM400.21 19.99l1.95 1.95l-1.95 1.95l-1.95 -1.95zM400.93 20.07l1.95 1.95l-1.95 1.95l-1.95 -1.95zM399.96 20.48l1.95 1.95l-1.95 1.95l-1.95 -1.95zM399.08 20.62l1.95 1.95l-1.95 1.95l-1.95 -1.95zM400.72 20.62l1.95 1.95l-1.95 1.95l-1.95 -1.95zM401.37 20.91l1.95 1.95l-1.95 1.95l-1.95 -1.95zM399.56 21.51l1.95 1.95l-1.95 1.95l-1.95 -1.95zM400.92 21.6l1.95 1.95l-1.95 1.95l-1.95 -1.95zM401.67 21.51l1.95 1.95l-1.95 1.95l-1.95 -1.95zM401.74 21.98l1.95 1.95l-1.95 1.95l-1.95 -1.95zM401.25 22.53l1.95 1.95l-1.95 1.95l-1.95 -1.95zM401.87 22.83l1.95 1.95l-1.95 1.95l-1.95 -1.95zM400.92 23.19l1.95 1.95l-1.95 1.95l-1.95 -1.95zM401.1 23.35l1.95 1.95l-1.95 1.95l-1.95 -1.95zM402 23.71l1.95 1.95l-1.95 1.95l-1.95 -1.95zM401.97 23.49l1.95 1.95l-1.95 1.95l-1.95 -1.95zM399.4 24.04l1.95 1.95l-1.95 1.95l-1.95 -1.95zM399.99 24.04l1.95 1.95l-1.95 1.95l-1.95 -1.95zM402.12 24.52l1.95 1.95l-1.95 1.95l-1.95 -1.95zM401.06 24.74l1.95 1.95l-1.95 1.95l-1.95 -1.95zM401.33 24.56l1.95 1.95l-1.95 1.95l-1.95 -1.95zM401.54 25.37l1.95 1.95l-1.95 1.95l-1.95 -1.95zM402.17 25.67l1.95 1.95l-1.95 1.95l-1.95 -1.95zM402.14 26.25l1.95 1.95l-1.95 1.95l-1.95 -1.95zM401.47 26.72l1.95 1.95l-1.95 1.95l-1.95 -1.95zM399.49 27.15l1.95 1.95l-1.95 1.95l-1.95 -1.95zM402.08 27.37l1.95 1.95l-1.95 1.95l-1.95 -1.95zM401.83 27.62l1.95 1.95l-1.95 1.95l-1.95 -1.95zM401.54 28.2l1.95 1.95l-1.95 1.95l-1.95 -1.95zM398.47 28.34l1.95 1.95l-1.95 1.95l-1.95 -1.95zM400.25 28.88l1.95 1.95l-1.95 1.95l-1.95 -1.95zM402 28.99l1.95 1.95l-1.95 1.95l-1.95 -1.95zM400.89 29.59l1.95 1.95l-1.95 1.95l-1.95 -1.95zM401.81 30.63l1.95 1.95l-1.95 1.95l-1.95 -1.95zM400.99 31.24l1.95 1.95l-1.95 1.95l-1.95 -1.95zM400.41 31.76l1.95 1.95l-1.95 1.95l-1.95 -1.95zM401.68 31.75l1.95 1.95l-1.95 1.95l-1.95 -1.95zM401.38 33.57l1.95 1.95l-1.95 1.95l-1.95 -1.95zM397.82 33.94l1.95 1.95l-1.95 1.95l-1.95 -1.95zM398.27 33.94l1.95 1.95l-1.95 1.95l-1.95 -1.95zM400.86 34.33l1.95 1.95l-1.95 1.95l-1.95 -1.95zM395.94 16.47l1.95 1.95l-1.95 1.95l-1.95 -1.95zM395.47 16.45l1.95 1.95l-1.95 1.95l-1.95 -1.95zM395.82 17l1.95 1.95l-1.95 1.95l-1.95 -1.95zM395.06 16.73l1.95 1.95l-1.95 1.95l-1.95 -1.95zM395.27 17.16l1.95 1.95l-1.95 1.95l-1.95 -1.95zM394.65 17.05l1.95 1.95l-1.95 1.95l-1.95 -1.95zM394.23 17.38l1.95 1.95l-1.95 1.95l-1.95 -1.95zM393.82 17.32l1.95 1.95l-1.95 1.95l-1.95 -1.95zM394.47 17.77l1.95 1.95l-1.95 1.95l-1.95 -1.95zM394.66 18.01l1.95 1.95l-1.95 1.95l-1.95 -1.95zM395.25 18.26l1.95 1.95l-1.95 1.95l-1.95 -1.95zM394.85 18.81l1.95 1.95l-1.95 1.95l-1.95 -1.95zM393.69 17.85l1.95 1.95l-1.95 1.95l-1.95 -1.95zM393.35 17.96l1.95 1.95l-1.95 1.95l-1.95 -1.95zM393.91 18.09l1.95 1.95l-1.95 1.95l-1.95 -1.95zM393 18.29l1.95 1.95l-1.95 1.95l-1.95 -1.95zM393.69 19.03l1.95 1.95l-1.95 1.95l-1.95 -1.95zM392.96 19.24l1.95 1.95l-1.95 1.95l-1.95 -1.95zM392.48 19l1.95 1.95l-1.95 1.95l-1.95 -1.95zM392.08 19.25l1.95 1.95l-1.95 1.95l-1.95 -1.95zM392.59 19.99l1.95 1.95l-1.95 1.95l-1.95 -1.95zM391.87 20.07l1.95 1.95l-1.95 1.95l-1.95 -1.95zM392.84 20.48l1.95 1.95l-1.95 1.95l-1.95 -1.95zM393.72 20.62l1.95 1.95l-1.95 1.95l-1.95 -1.95zM392.08 20.62l1.95 1.95l-1.95 1.95l-1.95 -1.95zM391.43 20.91l1.95 1.95l-1.95 1.95l-1.95 -1.95zM393.24 21.51l1.95 1.95l-1.95 1.95l-1.95 -1.95zM391.88 21.6l1.95 1.95l-1.95 1.95l-1.95 -1.95zM391.13 21.51l1.95 1.95l-1.95 1.95l-1.95 -1.95zM391.06 21.98l1.95 1.95l-1.95 1.95l-1.95 -1.95zM391.55 22.53l1.95 1.95l-1.95 1.95l-1.95 -1.95zM390.93 22.83l1.95 1.95l-1.95 1.95l-1.95 -1.95zM391.88 23.19l1.95 1.95l-1.95 1.95l-1.95 -1.95zM391.7 23.35l1.95 1.95l-1.95 1.95l-1.95 -1.95zM390.8 23.71l1.95 1.95l-1.95 1.95l-1.95 -1.95zM390.83 23.49l1.95 1.95l-1.95 1.95l-1.95 -1.95zM393.4 24.04l1.95 1.95l-1.95 1.95l-1.95 -1.95zM392.81 24.04l1.95 1.95l-1.95 1.95l-1.95 -1.95zM390.68 24.52l1.95 1.95l-1.95 1.95l-1.95 -1.95zM391.74 24.74l1.95 1.95l-1.95 1.95l-1.95 -1.95zM391.47 24.56l1.95 1.95l-1.95 1.95l-1.95 -1.95zM391.26 25.37l1.95 1.95l-1.95 1.95l-1.95 -1.95zM390.63 25.67l1.95 1.95l-1.95 1.95l-1.95 -1.95zM390.66 26.25l1.95 1.95l-1.95 1.95l-1.95 -1.95zM391.33 26.72l1.95 1.95l-1.95 1.95l-1.95 -1.95zM393.31 27.15l1.95 1.95l-1.95 1.95l-1.95 -1.95zM390.72 27.37l1.95 1.95l-1.95 1.95l-1.95 -1.95zM390.97 27.62l1.95 1.95l-1.95 1.95l-1.95 -1.95zM391.26 28.2l1.95 1.95l-1.95 1.95l-1.95 -1.95zM394.33 28.34l1.95 1.95l-1.95 1.95l-1.95 -1.95zM392.55 28.88l1.95 1.95l-1.95 1.95l-1.95 -1.95zM390.8 28.99l1.95 1.95l-1.95 1.95l-1.95 -1.95zM391.91 29.59l1.95 1.95l-1.95 1.95l-1.95 -1.95zM390.99 30.63l1.95 1.95l-1.95 1.95l-1.95 -1.95zM391.81 31.24l1.95 1.95l-1.95 1.95l-1.95 -1.95zM392.39 31.76l1.95 1.95l-1.95 1.95l-1.95 -1.95zM391.12 31.75l1.95 1.95l-1.95 1.95l-1.95 -1.95zM391.42 33.57l1.95 1.95l-1.95 1.95l-1.95 -1.95zM394.98 33.94l1.95 1.95l-1.95 1.95l-1.95 -1.95zM394.53 33.94l1.95 1.95l-1.95 1.95l-1.95 -1.95zM391.94 34.33l1.95 1.95l-1.95 1.95l-1.95 -1.95zM399.48 17.05l1.95 1.95l-1.95 1.95l-1.95 -1.95zM393.32 17.05l1.95 1.95l-1.95 1.95l-1.95 -1.95zM400.46 18.13l1.95 1.95l-1.95 1.95l-1.95 -1.95zM392.34 18.13l1.95 1.95l-1.95 1.95l-1.95 -1.95zM400.92 19.21l1.95 1.95l-1.95 1.95l-1.95 -1.95zM391.88 19.21l1.95 1.95l-1.95 1.95l-1.95 -1.95zM401.38 20.29l1.95 1.95l-1.95 1.95l-1.95 -1.95zM391.42 20.29l1.95 1.95l-1.95 1.95l-1.95 -1.95zM401.75 21.37l1.95 1.95l-1.95 1.95l-1.95 -1.95zM391.05 21.37l1.95 1.95l-1.95 1.95l-1.95 -1.95zM401.91 22.45l1.95 1.95l-1.95 1.95l-1.95 -1.95zM390.89 22.45l1.95 1.95l-1.95 1.95l-1.95 -1.95zM402.07 23.53l1.95 1.95l-1.95 1.95l-1.95 -1.95zM390.73 23.53l1.95 1.95l-1.95 1.95l-1.95 -1.95zM402.23 24.61l1.95 1.95l-1.95 1.95l-1.95 -1.95zM390.57 24.61l1.95 1.95l-1.95 1.95l-1.95 -1.95zM402.27 25.69l1.95 1.95l-1.95 1.95l-1.95 -1.95zM390.53 25.69l1.95 1.95l-1.95 1.95l-1.95 -1.95zM402.21 26.77l1.95 1.95l-1.95 1.95l-1.95 -1.95zM390.59 26.77l1.95 1.95l-1.95 1.95l-1.95 -1.95zM402.16 27.85l1.95 1.95l-1.95 1.95l-1.95 -1.95zM390.64 27.85l1.95 1.95l-1.95 1.95l-1.95 -1.95zM402.11 28.93l1.95 1.95l-1.95 1.95l-1.95 -1.95zM390.69 28.93l1.95 1.95l-1.95 1.95l-1.95 -1.95zM401.99 30.01l1.95 1.95l-1.95 1.95l-1.95 -1.95zM390.81 30.01l1.95 1.95l-1.95 1.95l-1.95 -1.95zM401.86 31.09l1.95 1.95l-1.95 1.95l-1.95 -1.95zM390.94 31.09l1.95 1.95l-1.95 1.95l-1.95 -1.95zM401.73 32.17l1.95 1.95l-1.95 1.95l-1.95 -1.95zM391.07 32.17l1.95 1.95l-1.95 1.95l-1.95 -1.95zM401.54 33.25l1.95 1.95l-1.95 1.95l-1.95 -1.95zM391.26 33.25l1.95 1.95l-1.95 1.95l-1.95 -1.95zM401.33 34.33l1.95 1.95l-1.95 1.95l-1.95 -1.95zM391.47 34.33l1.95 1.95l-1.95 1.95l-1.95 -1.95zM401.12 35.41l1.95 1.95l-1.95 1.95l-1.95 -1.95zM391.68 35.41l1.95 1.95l-1.95 1.95l-1.95 -1.95zM400.88 36.49l1.95 1.95l-1.95 1.95l-1.95 -1.95zM391.92 36.49l1.95 1.95l-1.95 1.95l-1.95 -1.95zM400.6 37.57l1.95 1.95l-1.95 1.95l-1.95 -1.95zM392.2 37.57l1.95 1.95l-1.95 1.95l-1.95 -1.95zM400.32 38.65l1.95 1.95l-1.95 1.95l-1.95 -1.95zM392.48 38.65l1.95 1.95l-1.95 1.95l-1.95 -1.95zM400.03 39.73l1.95 1.95l-1.95 1.95l-1.95 -1.95zM392.77 39.73l1.95 1.95l-1.95 1.95l-1.95 -1.95zM399.54 40.81l1.95 1.95l-1.95 1.95l-1.95 -1.95zM393.26 40.81l1.95 1.95l-1.95 1.95l-1.95 -1.95zM399.02 41.89l1.95 1.95l-1.95 1.95l-1.95 -1.95zM393.78 41.89l1.95 1.95l-1.95 1.95l-1.95 -1.95zM398.4 42.97l1.95 1.95l-1.95 1.95l-1.95 -1.95zM394.4 42.97l1.95 1.95l-1.95 1.95l-1.95 -1.95zM397.64 44.05l1.95 1.95l-1.95 1.95l-1.95 -1.95zM395.16 44.05l1.95 1.95l-1.95 1.95l-1.95 -1.95z" fill="#000" clip-path="url(#cA2)"/>
<rect x="305.8" y="3.85" width="181.4" height="155.55" fill="none" stroke="#444" stroke-width="0.9"/>
<path d="M339.3 159.4v-3.8M339.3 3.85v3.8M396.4 159.4v-3.8M396.4 3.85v3.8M453.5 159.4v-3.8M453.5 3.85v3.8M305.8 148.27h3.8M487.2 148.27h-3.8M305.8 126h3.8M487.2 126h-3.8M305.8 103.73h3.8M487.2 103.73h-3.8M305.8 81.46h3.8M487.2 81.46h-3.8M305.8 59.19h3.8M487.2 59.19h-3.8M305.8 36.92h3.8M487.2 36.92h-3.8M305.8 14.65h3.8M487.2 14.65h-3.8" fill="none" stroke="#444" stroke-width="0.9"/>
<path d="M305.8 153.83h1.9M487.2 153.83h-1.9M305.8 148.27h1.9M487.2 148.27h-1.9M305.8 142.7h1.9M487.2 142.7h-1.9M305.8 137.13h1.9M487.2 137.13h-1.9M305.8 131.56h1.9M487.2 131.56h-1.9M305.8 126h1.9M487.2 126h-1.9M305.8 120.43h1.9M487.2 120.43h-1.9M305.8 114.86h1.9M487.2 114.86h-1.9M305.8 109.29h1.9M487.2 109.29h-1.9M305.8 103.73h1.9M487.2 103.73h-1.9M305.8 98.16h1.9M487.2 98.16h-1.9M305.8 92.59h1.9M487.2 92.59h-1.9M305.8 87.03h1.9M487.2 87.03h-1.9M305.8 81.46h1.9M487.2 81.46h-1.9M305.8 75.89h1.9M487.2 75.89h-1.9M305.8 70.32h1.9M487.2 70.32h-1.9M305.8 64.76h1.9M487.2 64.76h-1.9M305.8 59.19h1.9M487.2 59.19h-1.9M305.8 53.62h1.9M487.2 53.62h-1.9M305.8 48.05h1.9M487.2 48.05h-1.9M305.8 42.49h1.9M487.2 42.49h-1.9M305.8 36.92h1.9M487.2 36.92h-1.9M305.8 31.35h1.9M487.2 31.35h-1.9M305.8 25.78h1.9M487.2 25.78h-1.9M305.8 20.22h1.9M487.2 20.22h-1.9M305.8 14.65h1.9M487.2 14.65h-1.9M305.8 9.08h1.9M487.2 9.08h-1.9" fill="none" stroke="#666" stroke-width="0.9"/>
<text x="301.25" y="154.07" font-size="16" text-anchor="end"><tspan font-size="19">-</tspan>1200</text>
<text x="301.25" y="131.8" font-size="16" text-anchor="end"><tspan font-size="19">-</tspan>1000</text>
<text x="301.25" y="109.53" font-size="16" text-anchor="end"><tspan font-size="19">-</tspan>800</text>
<text x="301.25" y="87.26" font-size="16" text-anchor="end"><tspan font-size="19">-</tspan>600</text>
<text x="301.25" y="64.99" font-size="16" text-anchor="end"><tspan font-size="19">-</tspan>400</text>
<text x="301.25" y="42.72" font-size="16" text-anchor="end"><tspan font-size="19">-</tspan>200</text>
<text x="301.25" y="20.45" font-size="16" text-anchor="end">0</text>
<text x="339.3" y="180.2" font-size="16" text-anchor="middle"><tspan font-size="19">-</tspan>100</text>
<text x="396.4" y="180.2" font-size="16" text-anchor="middle">0</text>
<text x="453.5" y="180.2" font-size="16" text-anchor="middle">100</text>
<text x="396.5" y="198.4" font-size="17" text-anchor="middle">Re<tspan font-size="15">ω</tspan> /2<tspan font-size="14.6">π</tspan></text>
<text x="254" y="71" font-size="17" text-anchor="middle" transform="rotate(-90 254 71)">Im<tspan font-size="15">ω</tspan></text>
<text x="242.6" y="13.6" font-size="15" font-weight="bold">A2</text>
<path d="M394.95 22.3V29.3M397.85 22.3V29.3" stroke="#fff" stroke-width="1.0" fill="none"/>
<path d="M397.1 32.6l1.2 -1.4l0.5 1.2zM395.7 32.6l-1.2 -1.4l-0.5 1.2zM394.1 35h4.6" stroke="#fff" stroke-width="0.8" fill="#fff"/>
<path d="M394.6 37.6h3.6" stroke="#ddd" stroke-width="0.7" fill="none"/>
<path d="M396.4 21V30" stroke="#222" stroke-width="0.9" fill="none"/>
<path d="M306.8 221.5H487.6M397.4 210.7V366.1" stroke="#505050" stroke-width="0.85" fill="none"/>
<path d="M397.4 257.45l1.95 1.95l-1.95 1.95l-1.95 -1.95zM397.4 274.75l1.95 1.95l-1.95 1.95l-1.95 -1.95zM397.4 284.15l1.95 1.95l-1.95 1.95l-1.95 -1.95zM397.4 313.75l1.95 1.95l-1.95 1.95l-1.95 -1.95zM404.2 241.35l1.95 1.95l-1.95 1.95l-1.95 -1.95zM405.8 247.85l1.95 1.95l-1.95 1.95l-1.95 -1.95zM400.2 251.85l1.95 1.95l-1.95 1.95l-1.95 -1.95zM404.6 260.05l1.95 1.95l-1.95 1.95l-1.95 -1.95zM410.5 260.05l1.95 1.95l-1.95 1.95l-1.95 -1.95zM398.9 262.65l1.95 1.95l-1.95 1.95l-1.95 -1.95zM406.8 266.85l1.95 1.95l-1.95 1.95l-1.95 -1.95zM402.5 278.65l1.95 1.95l-1.95 1.95l-1.95 -1.95zM403.1 279.05l1.95 1.95l-1.95 1.95l-1.95 -1.95zM411.4 291.05l1.95 1.95l-1.95 1.95l-1.95 -1.95zM420.9 295.95l1.95 1.95l-1.95 1.95l-1.95 -1.95zM400.4 302.45l1.95 1.95l-1.95 1.95l-1.95 -1.95zM412.1 303.75l1.95 1.95l-1.95 1.95l-1.95 -1.95zM420.1 303.15l1.95 1.95l-1.95 1.95l-1.95 -1.95zM426.4 305.35l1.95 1.95l-1.95 1.95l-1.95 -1.95zM433.4 304.45l1.95 1.95l-1.95 1.95l-1.95 -1.95zM418.5 308.85l1.95 1.95l-1.95 1.95l-1.95 -1.95zM422.8 311.35l1.95 1.95l-1.95 1.95l-1.95 -1.95zM429.7 310.85l1.95 1.95l-1.95 1.95l-1.95 -1.95zM435.2 310.15l1.95 1.95l-1.95 1.95l-1.95 -1.95zM439.1 308.05l1.95 1.95l-1.95 1.95l-1.95 -1.95zM415.4 316.45l1.95 1.95l-1.95 1.95l-1.95 -1.95zM440.5 314.15l1.95 1.95l-1.95 1.95l-1.95 -1.95zM444.9 315.55l1.95 1.95l-1.95 1.95l-1.95 -1.95zM446.3 316.35l1.95 1.95l-1.95 1.95l-1.95 -1.95zM450.8 313.35l1.95 1.95l-1.95 1.95l-1.95 -1.95zM432.5 319.85l1.95 1.95l-1.95 1.95l-1.95 -1.95zM439.9 320.25l1.95 1.95l-1.95 1.95l-1.95 -1.95zM448.8 319.55l1.95 1.95l-1.95 1.95l-1.95 -1.95zM452.8 319.55l1.95 1.95l-1.95 1.95l-1.95 -1.95zM447.8 322.75l1.95 1.95l-1.95 1.95l-1.95 -1.95zM457.5 322.05l1.95 1.95l-1.95 1.95l-1.95 -1.95zM461.5 319.15l1.95 1.95l-1.95 1.95l-1.95 -1.95zM466.2 321.55l1.95 1.95l-1.95 1.95l-1.95 -1.95zM462.9 323.45l1.95 1.95l-1.95 1.95l-1.95 -1.95zM428.8 325.85l1.95 1.95l-1.95 1.95l-1.95 -1.95zM440.8 326.75l1.95 1.95l-1.95 1.95l-1.95 -1.95zM454.8 326.45l1.95 1.95l-1.95 1.95l-1.95 -1.95zM465.5 327.15l1.95 1.95l-1.95 1.95l-1.95 -1.95zM469.8 326.45l1.95 1.95l-1.95 1.95l-1.95 -1.95zM475.6 325.85l1.95 1.95l-1.95 1.95l-1.95 -1.95zM408.3 329.55l1.95 1.95l-1.95 1.95l-1.95 -1.95zM451.2 330.75l1.95 1.95l-1.95 1.95l-1.95 -1.95zM460.5 331.15l1.95 1.95l-1.95 1.95l-1.95 -1.95zM469.8 331.45l1.95 1.95l-1.95 1.95l-1.95 -1.95zM473.6 328.95l1.95 1.95l-1.95 1.95l-1.95 -1.95zM472.5 332.55l1.95 1.95l-1.95 1.95l-1.95 -1.95zM476.9 333.15l1.95 1.95l-1.95 1.95l-1.95 -1.95zM480.9 329.15l1.95 1.95l-1.95 1.95l-1.95 -1.95zM484.5 330.45l1.95 1.95l-1.95 1.95l-1.95 -1.95zM485.5 331.05l1.95 1.95l-1.95 1.95l-1.95 -1.95zM460.5 337.45l1.95 1.95l-1.95 1.95l-1.95 -1.95zM471.8 337.85l1.95 1.95l-1.95 1.95l-1.95 -1.95zM482.2 336.15l1.95 1.95l-1.95 1.95l-1.95 -1.95zM484.9 336.95l1.95 1.95l-1.95 1.95l-1.95 -1.95zM443.5 340.95l1.95 1.95l-1.95 1.95l-1.95 -1.95zM482 341.45l1.95 1.95l-1.95 1.95l-1.95 -1.95zM473.2 348.25l1.95 1.95l-1.95 1.95l-1.95 -1.95zM486.9 352.55l1.95 1.95l-1.95 1.95l-1.95 -1.95zM390.6 241.35l1.95 1.95l-1.95 1.95l-1.95 -1.95zM389 247.85l1.95 1.95l-1.95 1.95l-1.95 -1.95zM394.6 251.85l1.95 1.95l-1.95 1.95l-1.95 -1.95zM390.2 260.05l1.95 1.95l-1.95 1.95l-1.95 -1.95zM384.3 260.05l1.95 1.95l-1.95 1.95l-1.95 -1.95zM395.9 262.65l1.95 1.95l-1.95 1.95l-1.95 -1.95zM388 266.85l1.95 1.95l-1.95 1.95l-1.95 -1.95zM392.3 278.65l1.95 1.95l-1.95 1.95l-1.95 -1.95zM391.7 279.05l1.95 1.95l-1.95 1.95l-1.95 -1.95zM383.4 291.05l1.95 1.95l-1.95 1.95l-1.95 -1.95zM373.9 295.95l1.95 1.95l-1.95 1.95l-1.95 -1.95zM394.4 302.45l1.95 1.95l-1.95 1.95l-1.95 -1.95zM382.7 303.75l1.95 1.95l-1.95 1.95l-1.95 -1.95zM374.7 303.15l1.95 1.95l-1.95 1.95l-1.95 -1.95zM368.4 305.35l1.95 1.95l-1.95 1.95l-1.95 -1.95zM361.4 304.45l1.95 1.95l-1.95 1.95l-1.95 -1.95zM376.3 308.85l1.95 1.95l-1.95 1.95l-1.95 -1.95zM372 311.35l1.95 1.95l-1.95 1.95l-1.95 -1.95zM365.1 310.85l1.95 1.95l-1.95 1.95l-1.95 -1.95zM359.6 310.15l1.95 1.95l-1.95 1.95l-1.95 -1.95zM355.7 308.05l1.95 1.95l-1.95 1.95l-1.95 -1.95zM379.4 316.45l1.95 1.95l-1.95 1.95l-1.95 -1.95zM354.3 314.15l1.95 1.95l-1.95 1.95l-1.95 -1.95zM349.9 315.55l1.95 1.95l-1.95 1.95l-1.95 -1.95zM348.5 316.35l1.95 1.95l-1.95 1.95l-1.95 -1.95zM344 313.35l1.95 1.95l-1.95 1.95l-1.95 -1.95zM362.3 319.85l1.95 1.95l-1.95 1.95l-1.95 -1.95zM354.9 320.25l1.95 1.95l-1.95 1.95l-1.95 -1.95zM346 319.55l1.95 1.95l-1.95 1.95l-1.95 -1.95zM342 319.55l1.95 1.95l-1.95 1.95l-1.95 -1.95zM347 322.75l1.95 1.95l-1.95 1.95l-1.95 -1.95zM337.3 322.05l1.95 1.95l-1.95 1.95l-1.95 -1.95zM333.3 319.15l1.95 1.95l-1.95 1.95l-1.95 -1.95zM328.6 321.55l1.95 1.95l-1.95 1.95l-1.95 -1.95zM331.9 323.45l1.95 1.95l-1.95 1.95l-1.95 -1.95zM366 325.85l1.95 1.95l-1.95 1.95l-1.95 -1.95zM354 326.75l1.95 1.95l-1.95 1.95l-1.95 -1.95zM340 326.45l1.95 1.95l-1.95 1.95l-1.95 -1.95zM329.3 327.15l1.95 1.95l-1.95 1.95l-1.95 -1.95zM325 326.45l1.95 1.95l-1.95 1.95l-1.95 -1.95zM319.2 325.85l1.95 1.95l-1.95 1.95l-1.95 -1.95zM386.5 329.55l1.95 1.95l-1.95 1.95l-1.95 -1.95zM343.6 330.75l1.95 1.95l-1.95 1.95l-1.95 -1.95zM334.3 331.15l1.95 1.95l-1.95 1.95l-1.95 -1.95zM325 331.45l1.95 1.95l-1.95 1.95l-1.95 -1.95zM321.2 328.95l1.95 1.95l-1.95 1.95l-1.95 -1.95zM322.3 332.55l1.95 1.95l-1.95 1.95l-1.95 -1.95zM317.9 333.15l1.95 1.95l-1.95 1.95l-1.95 -1.95zM313.9 329.15l1.95 1.95l-1.95 1.95l-1.95 -1.95zM310.3 330.45l1.95 1.95l-1.95 1.95l-1.95 -1.95zM309.3 331.05l1.95 1.95l-1.95 1.95l-1.95 -1.95zM334.3 337.45l1.95 1.95l-1.95 1.95l-1.95 -1.95zM323 337.85l1.95 1.95l-1.95 1.95l-1.95 -1.95zM312.6 336.15l1.95 1.95l-1.95 1.95l-1.95 -1.95zM309.9 336.95l1.95 1.95l-1.95 1.95l-1.95 -1.95zM351.3 340.95l1.95 1.95l-1.95 1.95l-1.95 -1.95zM312.8 341.45l1.95 1.95l-1.95 1.95l-1.95 -1.95zM321.6 348.25l1.95 1.95l-1.95 1.95l-1.95 -1.95zM307.9 352.55l1.95 1.95l-1.95 1.95l-1.95 -1.95zM397.4 219.58l1.95 1.95l-1.95 1.95l-1.95 -1.95zM397.4 221.34l1.95 1.95l-1.95 1.95l-1.95 -1.95zM397.59 220.55l1.95 1.95l-1.95 1.95l-1.95 -1.95zM397.99 219.62l1.95 1.95l-1.95 1.95l-1.95 -1.95zM398.91 219.53l1.95 1.95l-1.95 1.95l-1.95 -1.95zM398.38 220.47l1.95 1.95l-1.95 1.95l-1.95 -1.95zM399.04 220.41l1.95 1.95l-1.95 1.95l-1.95 -1.95zM399.35 220.92l1.95 1.95l-1.95 1.95l-1.95 -1.95zM399.69 220.25l1.95 1.95l-1.95 1.95l-1.95 -1.95zM400.51 219.97l1.95 1.95l-1.95 1.95l-1.95 -1.95zM400.12 220.74l1.95 1.95l-1.95 1.95l-1.95 -1.95zM400.78 220.69l1.95 1.95l-1.95 1.95l-1.95 -1.95zM401.31 220.33l1.95 1.95l-1.95 1.95l-1.95 -1.95zM398.75 221.48l1.95 1.95l-1.95 1.95l-1.95 -1.95zM398.2 222.51l1.95 1.95l-1.95 1.95l-1.95 -1.95zM401.5 221.17l1.95 1.95l-1.95 1.95l-1.95 -1.95zM400.43 221.78l1.95 1.95l-1.95 1.95l-1.95 -1.95zM399.97 222.38l1.95 1.95l-1.95 1.95l-1.95 -1.95zM401.34 221.99l1.95 1.95l-1.95 1.95l-1.95 -1.95zM402.08 221.48l1.95 1.95l-1.95 1.95l-1.95 -1.95zM403.01 221.28l1.95 1.95l-1.95 1.95l-1.95 -1.95zM402.39 221.99l1.95 1.95l-1.95 1.95l-1.95 -1.95zM402.39 222.52l1.95 1.95l-1.95 1.95l-1.95 -1.95zM403.06 222.32l1.95 1.95l-1.95 1.95l-1.95 -1.95zM403.33 222.46l1.95 1.95l-1.95 1.95l-1.95 -1.95zM401.34 222.84l1.95 1.95l-1.95 1.95l-1.95 -1.95zM403.76 223.01l1.95 1.95l-1.95 1.95l-1.95 -1.95zM404.58 222.95l1.95 1.95l-1.95 1.95l-1.95 -1.95zM403.17 223.55l1.95 1.95l-1.95 1.95l-1.95 -1.95zM402.44 223.88l1.95 1.95l-1.95 1.95l-1.95 -1.95zM404.53 223.7l1.95 1.95l-1.95 1.95l-1.95 -1.95zM405.32 223.75l1.95 1.95l-1.95 1.95l-1.95 -1.95zM401.09 224.51l1.95 1.95l-1.95 1.95l-1.95 -1.95zM403.69 224.68l1.95 1.95l-1.95 1.95l-1.95 -1.95zM404.71 224.7l1.95 1.95l-1.95 1.95l-1.95 -1.95zM405.47 225.07l1.95 1.95l-1.95 1.95l-1.95 -1.95zM403.24 225.56l1.95 1.95l-1.95 1.95l-1.95 -1.95zM404.96 225.85l1.95 1.95l-1.95 1.95l-1.95 -1.95zM405.87 226.02l1.95 1.95l-1.95 1.95l-1.95 -1.95zM406.62 225.85l1.95 1.95l-1.95 1.95l-1.95 -1.95zM405.32 226.48l1.95 1.95l-1.95 1.95l-1.95 -1.95zM404.68 227.15l1.95 1.95l-1.95 1.95l-1.95 -1.95zM405.97 227.22l1.95 1.95l-1.95 1.95l-1.95 -1.95zM407.13 227.33l1.95 1.95l-1.95 1.95l-1.95 -1.95zM403.76 228.63l1.95 1.95l-1.95 1.95l-1.95 -1.95zM407.44 228.48l1.95 1.95l-1.95 1.95l-1.95 -1.95zM407.64 228.29l1.95 1.95l-1.95 1.95l-1.95 -1.95zM406.44 228.73l1.95 1.95l-1.95 1.95l-1.95 -1.95zM406.62 229.44l1.95 1.95l-1.95 1.95l-1.95 -1.95zM405.59 229.53l1.95 1.95l-1.95 1.95l-1.95 -1.95zM408.09 229.52l1.95 1.95l-1.95 1.95l-1.95 -1.95zM407.35 230.79l1.95 1.95l-1.95 1.95l-1.95 -1.95zM408.99 230.97l1.95 1.95l-1.95 1.95l-1.95 -1.95zM404.46 231.91l1.95 1.95l-1.95 1.95l-1.95 -1.95zM408.27 231.83l1.95 1.95l-1.95 1.95l-1.95 -1.95zM407.54 232.19l1.95 1.95l-1.95 1.95l-1.95 -1.95zM406.38 232.4l1.95 1.95l-1.95 1.95l-1.95 -1.95zM407.67 233.25l1.95 1.95l-1.95 1.95l-1.95 -1.95zM408.92 233.25l1.95 1.95l-1.95 1.95l-1.95 -1.95zM408.6 234.62l1.95 1.95l-1.95 1.95l-1.95 -1.95zM409.53 235.82l1.95 1.95l-1.95 1.95l-1.95 -1.95zM406.09 235.98l1.95 1.95l-1.95 1.95l-1.95 -1.95zM407.49 236.37l1.95 1.95l-1.95 1.95l-1.95 -1.95zM409.67 237.98l1.95 1.95l-1.95 1.95l-1.95 -1.95zM408.27 238.65l1.95 1.95l-1.95 1.95l-1.95 -1.95zM406.95 239.73l1.95 1.95l-1.95 1.95l-1.95 -1.95zM403.76 241.41l1.95 1.95l-1.95 1.95l-1.95 -1.95zM409.57 241.66l1.95 1.95l-1.95 1.95l-1.95 -1.95zM397.21 220.55l1.95 1.95l-1.95 1.95l-1.95 -1.95zM396.81 219.62l1.95 1.95l-1.95 1.95l-1.95 -1.95zM395.89 219.53l1.95 1.95l-1.95 1.95l-1.95 -1.95zM396.42 220.47l1.95 1.95l-1.95 1.95l-1.95 -1.95zM395.76 220.41l1.95 1.95l-1.95 1.95l-1.95 -1.95zM395.45 220.92l1.95 1.95l-1.95 1.95l-1.95 -1.95zM395.11 220.25l1.95 1.95l-1.95 1.95l-1.95 -1.95zM394.29 219.97l1.95 1.95l-1.95 1.95l-1.95 -1.95zM394.68 220.74l1.95 1.95l-1.95 1.95l-1.95 -1.95zM394.02 220.69l1.95 1.95l-1.95 1.95l-1.95 -1.95zM393.49 220.33l1.95 1.95l-1.95 1.95l-1.95 -1.95zM396.05 221.48l1.95 1.95l-1.95 1.95l-1.95 -1.95zM396.6 222.51l1.95 1.95l-1.95 1.95l-1.95 -1.95zM393.3 221.17l1.95 1.95l-1.95 1.95l-1.95 -1.95zM394.37 221.78l1.95 1.95l-1.95 1.95l-1.95 -1.95zM394.83 222.38l1.95 1.95l-1.95 1.95l-1.95 -1.95zM393.46 221.99l1.95 1.95l-1.95 1.95l-1.95 -1.95zM392.72 221.48l1.95 1.95l-1.95 1.95l-1.95 -1.95zM391.79 221.28l1.95 1.95l-1.95 1.95l-1.95 -1.95zM392.41 221.99l1.95 1.95l-1.95 1.95l-1.95 -1.95zM392.41 222.52l1.95 1.95l-1.95 1.95l-1.95 -1.95zM391.74 222.32l1.95 1.95l-1.95 1.95l-1.95 -1.95zM391.47 222.46l1.95 1.95l-1.95 1.95l-1.95 -1.95zM393.46 222.84l1.95 1.95l-1.95 1.95l-1.95 -1.95zM391.04 223.01l1.95 1.95l-1.95 1.95l-1.95 -1.95zM390.22 222.95l1.95 1.95l-1.95 1.95l-1.95 -1.95zM391.63 223.55l1.95 1.95l-1.95 1.95l-1.95 -1.95zM392.36 223.88l1.95 1.95l-1.95 1.95l-1.95 -1.95zM390.27 223.7l1.95 1.95l-1.95 1.95l-1.95 -1.95zM389.48 223.75l1.95 1.95l-1.95 1.95l-1.95 -1.95zM393.71 224.51l1.95 1.95l-1.95 1.95l-1.95 -1.95zM391.11 224.68l1.95 1.95l-1.95 1.95l-1.95 -1.95zM390.09 224.7l1.95 1.95l-1.95 1.95l-1.95 -1.95zM389.33 225.07l1.95 1.95l-1.95 1.95l-1.95 -1.95zM391.56 225.56l1.95 1.95l-1.95 1.95l-1.95 -1.95zM389.84 225.85l1.95 1.95l-1.95 1.95l-1.95 -1.95zM388.93 226.02l1.95 1.95l-1.95 1.95l-1.95 -1.95zM388.18 225.85l1.95 1.95l-1.95 1.95l-1.95 -1.95zM389.48 226.48l1.95 1.95l-1.95 1.95l-1.95 -1.95zM390.12 227.15l1.95 1.95l-1.95 1.95l-1.95 -1.95zM388.83 227.22l1.95 1.95l-1.95 1.95l-1.95 -1.95zM387.67 227.33l1.95 1.95l-1.95 1.95l-1.95 -1.95zM391.04 228.63l1.95 1.95l-1.95 1.95l-1.95 -1.95zM387.36 228.48l1.95 1.95l-1.95 1.95l-1.95 -1.95zM387.16 228.29l1.95 1.95l-1.95 1.95l-1.95 -1.95zM388.36 228.73l1.95 1.95l-1.95 1.95l-1.95 -1.95zM388.18 229.44l1.95 1.95l-1.95 1.95l-1.95 -1.95zM389.21 229.53l1.95 1.95l-1.95 1.95l-1.95 -1.95zM386.71 229.52l1.95 1.95l-1.95 1.95l-1.95 -1.95zM387.45 230.79l1.95 1.95l-1.95 1.95l-1.95 -1.95zM385.81 230.97l1.95 1.95l-1.95 1.95l-1.95 -1.95zM390.34 231.91l1.95 1.95l-1.95 1.95l-1.95 -1.95zM386.53 231.83l1.95 1.95l-1.95 1.95l-1.95 -1.95zM387.26 232.19l1.95 1.95l-1.95 1.95l-1.95 -1.95zM388.42 232.4l1.95 1.95l-1.95 1.95l-1.95 -1.95zM387.13 233.25l1.95 1.95l-1.95 1.95l-1.95 -1.95zM385.88 233.25l1.95 1.95l-1.95 1.95l-1.95 -1.95zM386.2 234.62l1.95 1.95l-1.95 1.95l-1.95 -1.95zM385.27 235.82l1.95 1.95l-1.95 1.95l-1.95 -1.95zM388.71 235.98l1.95 1.95l-1.95 1.95l-1.95 -1.95zM387.31 236.37l1.95 1.95l-1.95 1.95l-1.95 -1.95zM385.13 237.98l1.95 1.95l-1.95 1.95l-1.95 -1.95zM386.53 238.65l1.95 1.95l-1.95 1.95l-1.95 -1.95zM387.85 239.73l1.95 1.95l-1.95 1.95l-1.95 -1.95zM391.04 241.41l1.95 1.95l-1.95 1.95l-1.95 -1.95zM385.23 241.66l1.95 1.95l-1.95 1.95l-1.95 -1.95zM408.47 234.92l1.95 1.95l-1.95 1.95l-1.95 -1.95zM386.33 234.92l1.95 1.95l-1.95 1.95l-1.95 -1.95zM410.16 250.11l1.95 1.95l-1.95 1.95l-1.95 -1.95zM384.64 250.11l1.95 1.95l-1.95 1.95l-1.95 -1.95zM409.02 236.7l1.95 1.95l-1.95 1.95l-1.95 -1.95zM385.78 236.7l1.95 1.95l-1.95 1.95l-1.95 -1.95zM403.88 226.3l1.95 1.95l-1.95 1.95l-1.95 -1.95zM390.92 226.3l1.95 1.95l-1.95 1.95l-1.95 -1.95zM410.38 240.63l1.95 1.95l-1.95 1.95l-1.95 -1.95zM384.42 240.63l1.95 1.95l-1.95 1.95l-1.95 -1.95zM400.27 223.38l1.95 1.95l-1.95 1.95l-1.95 -1.95zM394.53 223.38l1.95 1.95l-1.95 1.95l-1.95 -1.95zM402.75 223.27l1.95 1.95l-1.95 1.95l-1.95 -1.95zM392.05 223.27l1.95 1.95l-1.95 1.95l-1.95 -1.95zM408.59 242.68l1.95 1.95l-1.95 1.95l-1.95 -1.95zM386.21 242.68l1.95 1.95l-1.95 1.95l-1.95 -1.95zM411.35 251.98l1.95 1.95l-1.95 1.95l-1.95 -1.95zM383.45 251.98l1.95 1.95l-1.95 1.95l-1.95 -1.95zM410 241.41l1.95 1.95l-1.95 1.95l-1.95 -1.95zM384.8 241.41l1.95 1.95l-1.95 1.95l-1.95 -1.95zM400.73 225.42l1.95 1.95l-1.95 1.95l-1.95 -1.95zM394.07 225.42l1.95 1.95l-1.95 1.95l-1.95 -1.95zM407.66 237.36l1.95 1.95l-1.95 1.95l-1.95 -1.95zM387.14 237.36l1.95 1.95l-1.95 1.95l-1.95 -1.95zM402.87 226.47l1.95 1.95l-1.95 1.95l-1.95 -1.95zM391.93 226.47l1.95 1.95l-1.95 1.95l-1.95 -1.95zM399.35 221.32l1.95 1.95l-1.95 1.95l-1.95 -1.95zM395.45 221.32l1.95 1.95l-1.95 1.95l-1.95 -1.95zM409.21 234.54l1.95 1.95l-1.95 1.95l-1.95 -1.95zM385.59 234.54l1.95 1.95l-1.95 1.95l-1.95 -1.95zM409.27 237.07l1.95 1.95l-1.95 1.95l-1.95 -1.95zM385.53 237.07l1.95 1.95l-1.95 1.95l-1.95 -1.95zM409.17 236.44l1.95 1.95l-1.95 1.95l-1.95 -1.95zM385.63 236.44l1.95 1.95l-1.95 1.95l-1.95 -1.95zM407.67 235.08l1.95 1.95l-1.95 1.95l-1.95 -1.95zM387.13 235.08l1.95 1.95l-1.95 1.95l-1.95 -1.95zM411.28 252.47l1.95 1.95l-1.95 1.95l-1.95 -1.95zM383.52 252.47l1.95 1.95l-1.95 1.95l-1.95 -1.95zM410.91 247.4l1.95 1.95l-1.95 1.95l-1.95 -1.95zM383.89 247.4l1.95 1.95l-1.95 1.95l-1.95 -1.95zM405.86 230.5l1.95 1.95l-1.95 1.95l-1.95 -1.95zM388.94 230.5l1.95 1.95l-1.95 1.95l-1.95 -1.95zM405 229.66l1.95 1.95l-1.95 1.95l-1.95 -1.95zM389.8 229.66l1.95 1.95l-1.95 1.95l-1.95 -1.95zM409.84 245.02l1.95 1.95l-1.95 1.95l-1.95 -1.95zM384.96 245.02l1.95 1.95l-1.95 1.95l-1.95 -1.95zM410.04 247.61l1.95 1.95l-1.95 1.95l-1.95 -1.95zM384.76 247.61l1.95 1.95l-1.95 1.95l-1.95 -1.95zM411.18 251.2l1.95 1.95l-1.95 1.95l-1.95 -1.95zM383.62 251.2l1.95 1.95l-1.95 1.95l-1.95 -1.95zM397.83 220.37l1.95 1.95l-1.95 1.95l-1.95 -1.95zM396.97 220.37l1.95 1.95l-1.95 1.95l-1.95 -1.95zM410.18 249.66l1.95 1.95l-1.95 1.95l-1.95 -1.95zM384.62 249.66l1.95 1.95l-1.95 1.95l-1.95 -1.95zM409.8 251.92l1.95 1.95l-1.95 1.95l-1.95 -1.95zM385 251.92l1.95 1.95l-1.95 1.95l-1.95 -1.95zM401.34 222.7l1.95 1.95l-1.95 1.95l-1.95 -1.95zM393.46 222.7l1.95 1.95l-1.95 1.95l-1.95 -1.95zM409.52 245.42l1.95 1.95l-1.95 1.95l-1.95 -1.95zM385.28 245.42l1.95 1.95l-1.95 1.95l-1.95 -1.95zM400.24 223.16l1.95 1.95l-1.95 1.95l-1.95 -1.95zM394.56 223.16l1.95 1.95l-1.95 1.95l-1.95 -1.95zM410.92 251.39l1.95 1.95l-1.95 1.95l-1.95 -1.95zM383.88 251.39l1.95 1.95l-1.95 1.95l-1.95 -1.95zM400.57 224.15l1.95 1.95l-1.95 1.95l-1.95 -1.95zM394.23 224.15l1.95 1.95l-1.95 1.95l-1.95 -1.95zM399.19 223.6l1.95 1.95l-1.95 1.95l-1.95 -1.95zM395.61 223.6l1.95 1.95l-1.95 1.95l-1.95 -1.95zM409.33 246.01l1.95 1.95l-1.95 1.95l-1.95 -1.95zM385.47 246.01l1.95 1.95l-1.95 1.95l-1.95 -1.95zM409.03 238.36l1.95 1.95l-1.95 1.95l-1.95 -1.95zM385.77 238.36l1.95 1.95l-1.95 1.95l-1.95 -1.95zM405 226.49l1.95 1.95l-1.95 1.95l-1.95 -1.95zM389.8 226.49l1.95 1.95l-1.95 1.95l-1.95 -1.95zM403.04 224.57l1.95 1.95l-1.95 1.95l-1.95 -1.95zM391.76 224.57l1.95 1.95l-1.95 1.95l-1.95 -1.95zM401.46 224.1l1.95 1.95l-1.95 1.95l-1.95 -1.95zM393.34 224.1l1.95 1.95l-1.95 1.95l-1.95 -1.95zM403.71 227.2l1.95 1.95l-1.95 1.95l-1.95 -1.95zM391.09 227.2l1.95 1.95l-1.95 1.95l-1.95 -1.95zM411 251.61l1.95 1.95l-1.95 1.95l-1.95 -1.95zM383.8 251.61l1.95 1.95l-1.95 1.95l-1.95 -1.95zM407.82 230.14l1.95 1.95l-1.95 1.95l-1.95 -1.95zM386.98 230.14l1.95 1.95l-1.95 1.95l-1.95 -1.95zM404.15 227.13l1.95 1.95l-1.95 1.95l-1.95 -1.95zM390.65 227.13l1.95 1.95l-1.95 1.95l-1.95 -1.95zM410.72 247.86l1.95 1.95l-1.95 1.95l-1.95 -1.95zM384.08 247.86l1.95 1.95l-1.95 1.95l-1.95 -1.95zM403.98 223.58l1.95 1.95l-1.95 1.95l-1.95 -1.95zM390.82 223.58l1.95 1.95l-1.95 1.95l-1.95 -1.95zM403.68 227.22l1.95 1.95l-1.95 1.95l-1.95 -1.95zM391.12 227.22l1.95 1.95l-1.95 1.95l-1.95 -1.95zM409.66 245.23l1.95 1.95l-1.95 1.95l-1.95 -1.95zM385.14 245.23l1.95 1.95l-1.95 1.95l-1.95 -1.95zM405.11 229.89l1.95 1.95l-1.95 1.95l-1.95 -1.95zM389.69 229.89l1.95 1.95l-1.95 1.95l-1.95 -1.95zM401.59 223.25l1.95 1.95l-1.95 1.95l-1.95 -1.95zM393.21 223.25l1.95 1.95l-1.95 1.95l-1.95 -1.95zM405.86 228.18l1.95 1.95l-1.95 1.95l-1.95 -1.95zM388.94 228.18l1.95 1.95l-1.95 1.95l-1.95 -1.95zM407.31 232.32l1.95 1.95l-1.95 1.95l-1.95 -1.95zM387.49 232.32l1.95 1.95l-1.95 1.95l-1.95 -1.95zM410.16 251.23l1.95 1.95l-1.95 1.95l-1.95 -1.95zM384.64 251.23l1.95 1.95l-1.95 1.95l-1.95 -1.95zM410.32 238.85l1.95 1.95l-1.95 1.95l-1.95 -1.95zM384.48 238.85l1.95 1.95l-1.95 1.95l-1.95 -1.95zM402.24 226.24l1.95 1.95l-1.95 1.95l-1.95 -1.95zM392.56 226.24l1.95 1.95l-1.95 1.95l-1.95 -1.95zM411.14 249.6l1.95 1.95l-1.95 1.95l-1.95 -1.95zM383.66 249.6l1.95 1.95l-1.95 1.95l-1.95 -1.95zM404.6 228.38l1.95 1.95l-1.95 1.95l-1.95 -1.95zM390.2 228.38l1.95 1.95l-1.95 1.95l-1.95 -1.95zM411.25 244.16l1.95 1.95l-1.95 1.95l-1.95 -1.95zM383.55 244.16l1.95 1.95l-1.95 1.95l-1.95 -1.95zM406.08 226.68l1.95 1.95l-1.95 1.95l-1.95 -1.95zM388.72 226.68l1.95 1.95l-1.95 1.95l-1.95 -1.95zM410.58 248.76l1.95 1.95l-1.95 1.95l-1.95 -1.95zM384.22 248.76l1.95 1.95l-1.95 1.95l-1.95 -1.95zM406.84 233.92l1.95 1.95l-1.95 1.95l-1.95 -1.95zM387.96 233.92l1.95 1.95l-1.95 1.95l-1.95 -1.95zM401.88 221.6l1.95 1.95l-1.95 1.95l-1.95 -1.95zM392.92 221.6l1.95 1.95l-1.95 1.95l-1.95 -1.95zM406.11 228.03l1.95 1.95l-1.95 1.95l-1.95 -1.95zM388.69 228.03l1.95 1.95l-1.95 1.95l-1.95 -1.95zM406.99 228.62l1.95 1.95l-1.95 1.95l-1.95 -1.95zM387.81 228.62l1.95 1.95l-1.95 1.95l-1.95 -1.95zM408.78 239.56l1.95 1.95l-1.95 1.95l-1.95 -1.95zM386.02 239.56l1.95 1.95l-1.95 1.95l-1.95 -1.95zM404.56 226l1.95 1.95l-1.95 1.95l-1.95 -1.95zM390.24 226l1.95 1.95l-1.95 1.95l-1.95 -1.95zM399.27 222.56l1.95 1.95l-1.95 1.95l-1.95 -1.95zM395.53 222.56l1.95 1.95l-1.95 1.95l-1.95 -1.95zM410.2 238.36l1.95 1.95l-1.95 1.95l-1.95 -1.95zM384.6 238.36l1.95 1.95l-1.95 1.95l-1.95 -1.95zM408.84 240.13l1.95 1.95l-1.95 1.95l-1.95 -1.95zM385.96 240.13l1.95 1.95l-1.95 1.95l-1.95 -1.95zM409.44 249.89l1.95 1.95l-1.95 1.95l-1.95 -1.95zM385.36 249.89l1.95 1.95l-1.95 1.95l-1.95 -1.95zM398.26 220.88l1.95 1.95l-1.95 1.95l-1.95 -1.95zM396.54 220.88l1.95 1.95l-1.95 1.95l-1.95 -1.95zM406.93 234.7l1.95 1.95l-1.95 1.95l-1.95 -1.95zM387.87 234.7l1.95 1.95l-1.95 1.95l-1.95 -1.95zM403 226.03l1.95 1.95l-1.95 1.95l-1.95 -1.95zM391.8 226.03l1.95 1.95l-1.95 1.95l-1.95 -1.95zM408.19 238.77l1.95 1.95l-1.95 1.95l-1.95 -1.95zM386.61 238.77l1.95 1.95l-1.95 1.95l-1.95 -1.95zM408.54 232.01l1.95 1.95l-1.95 1.95l-1.95 -1.95zM386.26 232.01l1.95 1.95l-1.95 1.95l-1.95 -1.95zM410.51 251.92l1.95 1.95l-1.95 1.95l-1.95 -1.95zM384.29 251.92l1.95 1.95l-1.95 1.95l-1.95 -1.95zM410.1 242.61l1.95 1.95l-1.95 1.95l-1.95 -1.95zM384.7 242.61l1.95 1.95l-1.95 1.95l-1.95 -1.95zM400.22 224.87l1.95 1.95l-1.95 1.95l-1.95 -1.95zM394.58 224.87l1.95 1.95l-1.95 1.95l-1.95 -1.95zM400.41 220.93l1.95 1.95l-1.95 1.95l-1.95 -1.95zM394.39 220.93l1.95 1.95l-1.95 1.95l-1.95 -1.95zM411.2 242.92l1.95 1.95l-1.95 1.95l-1.95 -1.95zM383.6 242.92l1.95 1.95l-1.95 1.95l-1.95 -1.95zM399.66 221.03l1.95 1.95l-1.95 1.95l-1.95 -1.95zM395.14 221.03l1.95 1.95l-1.95 1.95l-1.95 -1.95zM409.23 235.88l1.95 1.95l-1.95 1.95l-1.95 -1.95zM385.57 235.88l1.95 1.95l-1.95 1.95l-1.95 -1.95zM408.36 230.62l1.95 1.95l-1.95 1.95l-1.95 -1.95zM386.44 230.62l1.95 1.95l-1.95 1.95l-1.95 -1.95zM400.99 222.77l1.95 1.95l-1.95 1.95l-1.95 -1.95zM393.81 222.77l1.95 1.95l-1.95 1.95l-1.95 -1.95zM411.13 244.08l1.95 1.95l-1.95 1.95l-1.95 -1.95zM383.67 244.08l1.95 1.95l-1.95 1.95l-1.95 -1.95zM410.59 244.08l1.95 1.95l-1.95 1.95l-1.95 -1.95zM384.21 244.08l1.95 1.95l-1.95 1.95l-1.95 -1.95zM411.33 245.89l1.95 1.95l-1.95 1.95l-1.95 -1.95zM383.47 245.89l1.95 1.95l-1.95 1.95l-1.95 -1.95zM407.77 231.68l1.95 1.95l-1.95 1.95l-1.95 -1.95zM387.03 231.68l1.95 1.95l-1.95 1.95l-1.95 -1.95zM411.3 249.36l1.95 1.95l-1.95 1.95l-1.95 -1.95zM383.5 249.36l1.95 1.95l-1.95 1.95l-1.95 -1.95zM408.86 233.78l1.95 1.95l-1.95 1.95l-1.95 -1.95zM385.94 233.78l1.95 1.95l-1.95 1.95l-1.95 -1.95zM410.52 248.15l1.95 1.95l-1.95 1.95l-1.95 -1.95zM384.28 248.15l1.95 1.95l-1.95 1.95l-1.95 -1.95zM409.19 240.47l1.95 1.95l-1.95 1.95l-1.95 -1.95zM385.61 240.47l1.95 1.95l-1.95 1.95l-1.95 -1.95zM409.62 239.11l1.95 1.95l-1.95 1.95l-1.95 -1.95zM385.18 239.11l1.95 1.95l-1.95 1.95l-1.95 -1.95zM401.59 222.93l1.95 1.95l-1.95 1.95l-1.95 -1.95zM393.21 222.93l1.95 1.95l-1.95 1.95l-1.95 -1.95zM411.01 252.33l1.95 1.95l-1.95 1.95l-1.95 -1.95zM383.79 252.33l1.95 1.95l-1.95 1.95l-1.95 -1.95zM409.68 243.8l1.95 1.95l-1.95 1.95l-1.95 -1.95zM385.12 243.8l1.95 1.95l-1.95 1.95l-1.95 -1.95zM410.24 244.02l1.95 1.95l-1.95 1.95l-1.95 -1.95zM384.56 244.02l1.95 1.95l-1.95 1.95l-1.95 -1.95zM409.2 234.53l1.95 1.95l-1.95 1.95l-1.95 -1.95zM385.6 234.53l1.95 1.95l-1.95 1.95l-1.95 -1.95zM402.25 223.05l1.95 1.95l-1.95 1.95l-1.95 -1.95zM392.55 223.05l1.95 1.95l-1.95 1.95l-1.95 -1.95zM399.91 221.31l1.95 1.95l-1.95 1.95l-1.95 -1.95zM394.89 221.31l1.95 1.95l-1.95 1.95l-1.95 -1.95zM407.74 235.84l1.95 1.95l-1.95 1.95l-1.95 -1.95zM387.06 235.84l1.95 1.95l-1.95 1.95l-1.95 -1.95zM409.89 242.84l1.95 1.95l-1.95 1.95l-1.95 -1.95zM384.91 242.84l1.95 1.95l-1.95 1.95l-1.95 -1.95zM410.67 240.14l1.95 1.95l-1.95 1.95l-1.95 -1.95zM384.13 240.14l1.95 1.95l-1.95 1.95l-1.95 -1.95zM404.2 228.59l1.95 1.95l-1.95 1.95l-1.95 -1.95zM390.6 228.59l1.95 1.95l-1.95 1.95l-1.95 -1.95zM407.12 230.04l1.95 1.95l-1.95 1.95l-1.95 -1.95zM387.68 230.04l1.95 1.95l-1.95 1.95l-1.95 -1.95zM402.97 226.87l1.95 1.95l-1.95 1.95l-1.95 -1.95zM391.83 226.87l1.95 1.95l-1.95 1.95l-1.95 -1.95zM410.71 249.51l1.95 1.95l-1.95 1.95l-1.95 -1.95zM384.09 249.51l1.95 1.95l-1.95 1.95l-1.95 -1.95zM409.37 234.58l1.95 1.95l-1.95 1.95l-1.95 -1.95zM385.43 234.58l1.95 1.95l-1.95 1.95l-1.95 -1.95zM407.4 230.88l1.95 1.95l-1.95 1.95l-1.95 -1.95zM387.4 230.88l1.95 1.95l-1.95 1.95l-1.95 -1.95zM403.93 226.74l1.95 1.95l-1.95 1.95l-1.95 -1.95zM390.87 226.74l1.95 1.95l-1.95 1.95l-1.95 -1.95zM411.37 246.3l1.95 1.95l-1.95 1.95l-1.95 -1.95zM383.43 246.3l1.95 1.95l-1.95 1.95l-1.95 -1.95zM409.99 248.69l1.95 1.95l-1.95 1.95l-1.95 -1.95zM384.81 248.69l1.95 1.95l-1.95 1.95l-1.95 -1.95zM408.78 239.13l1.95 1.95l-1.95 1.95l-1.95 -1.95zM386.02 239.13l1.95 1.95l-1.95 1.95l-1.95 -1.95zM402.43 224.73l1.95 1.95l-1.95 1.95l-1.95 -1.95zM392.37 224.73l1.95 1.95l-1.95 1.95l-1.95 -1.95zM411.28 247.3l1.95 1.95l-1.95 1.95l-1.95 -1.95zM383.52 247.3l1.95 1.95l-1.95 1.95l-1.95 -1.95zM411.2 243.25l1.95 1.95l-1.95 1.95l-1.95 -1.95zM383.6 243.25l1.95 1.95l-1.95 1.95l-1.95 -1.95zM405.15 229.26l1.95 1.95l-1.95 1.95l-1.95 -1.95zM389.65 229.26l1.95 1.95l-1.95 1.95l-1.95 -1.95zM407.61 234.86l1.95 1.95l-1.95 1.95l-1.95 -1.95zM387.19 234.86l1.95 1.95l-1.95 1.95l-1.95 -1.95zM404.33 227.24l1.95 1.95l-1.95 1.95l-1.95 -1.95zM390.47 227.24l1.95 1.95l-1.95 1.95l-1.95 -1.95zM409.51 240.5l1.95 1.95l-1.95 1.95l-1.95 -1.95zM385.29 240.5l1.95 1.95l-1.95 1.95l-1.95 -1.95zM407.81 230.5l1.95 1.95l-1.95 1.95l-1.95 -1.95zM386.99 230.5l1.95 1.95l-1.95 1.95l-1.95 -1.95zM409.94 251.97l1.95 1.95l-1.95 1.95l-1.95 -1.95zM384.86 251.97l1.95 1.95l-1.95 1.95l-1.95 -1.95zM398.45 222.75l1.95 1.95l-1.95 1.95l-1.95 -1.95zM396.35 222.75l1.95 1.95l-1.95 1.95l-1.95 -1.95zM409.06 248.46l1.95 1.95l-1.95 1.95l-1.95 -1.95zM385.74 248.46l1.95 1.95l-1.95 1.95l-1.95 -1.95zM410.13 243.17l1.95 1.95l-1.95 1.95l-1.95 -1.95zM384.67 243.17l1.95 1.95l-1.95 1.95l-1.95 -1.95zM407.58 230.3l1.95 1.95l-1.95 1.95l-1.95 -1.95zM387.22 230.3l1.95 1.95l-1.95 1.95l-1.95 -1.95zM397.86 220.97l1.95 1.95l-1.95 1.95l-1.95 -1.95zM396.94 220.97l1.95 1.95l-1.95 1.95l-1.95 -1.95zM406.9 235l1.95 1.95l-1.95 1.95l-1.95 -1.95zM387.9 235l1.95 1.95l-1.95 1.95l-1.95 -1.95zM409.6 247.07l1.95 1.95l-1.95 1.95l-1.95 -1.95zM385.2 247.07l1.95 1.95l-1.95 1.95l-1.95 -1.95zM400.3 224.89l1.95 1.95l-1.95 1.95l-1.95 -1.95zM394.5 224.89l1.95 1.95l-1.95 1.95l-1.95 -1.95zM409.39 240.61l1.95 1.95l-1.95 1.95l-1.95 -1.95zM385.41 240.61l1.95 1.95l-1.95 1.95l-1.95 -1.95zM409.99 240.63l1.95 1.95l-1.95 1.95l-1.95 -1.95zM384.81 240.63l1.95 1.95l-1.95 1.95l-1.95 -1.95zM411.49 246.35l1.95 1.95l-1.95 1.95l-1.95 -1.95zM383.31 246.35l1.95 1.95l-1.95 1.95l-1.95 -1.95zM408.98 242.39l1.95 1.95l-1.95 1.95l-1.95 -1.95zM385.82 242.39l1.95 1.95l-1.95 1.95l-1.95 -1.95zM407.54 235.65l1.95 1.95l-1.95 1.95l-1.95 -1.95zM387.26 235.65l1.95 1.95l-1.95 1.95l-1.95 -1.95zM398.72 220.7l1.95 1.95l-1.95 1.95l-1.95 -1.95zM396.08 220.7l1.95 1.95l-1.95 1.95l-1.95 -1.95zM409.05 243.35l1.95 1.95l-1.95 1.95l-1.95 -1.95zM385.75 243.35l1.95 1.95l-1.95 1.95l-1.95 -1.95zM405.67 229.12l1.95 1.95l-1.95 1.95l-1.95 -1.95zM389.13 229.12l1.95 1.95l-1.95 1.95l-1.95 -1.95zM409.95 242.8l1.95 1.95l-1.95 1.95l-1.95 -1.95zM384.85 242.8l1.95 1.95l-1.95 1.95l-1.95 -1.95zM410.2 240.14l1.95 1.95l-1.95 1.95l-1.95 -1.95zM384.6 240.14l1.95 1.95l-1.95 1.95l-1.95 -1.95zM408.61 233.02l1.95 1.95l-1.95 1.95l-1.95 -1.95zM386.19 233.02l1.95 1.95l-1.95 1.95l-1.95 -1.95zM409.14 249.53l1.95 1.95l-1.95 1.95l-1.95 -1.95zM385.66 249.53l1.95 1.95l-1.95 1.95l-1.95 -1.95zM410.86 250.38l1.95 1.95l-1.95 1.95l-1.95 -1.95zM383.94 250.38l1.95 1.95l-1.95 1.95l-1.95 -1.95zM402.02 224.53l1.95 1.95l-1.95 1.95l-1.95 -1.95zM392.78 224.53l1.95 1.95l-1.95 1.95l-1.95 -1.95zM410.69 240.49l1.95 1.95l-1.95 1.95l-1.95 -1.95zM384.11 240.49l1.95 1.95l-1.95 1.95l-1.95 -1.95zM407.73 232.48l1.95 1.95l-1.95 1.95l-1.95 -1.95zM387.07 232.48l1.95 1.95l-1.95 1.95l-1.95 -1.95zM411.11 248.66l1.95 1.95l-1.95 1.95l-1.95 -1.95zM383.69 248.66l1.95 1.95l-1.95 1.95l-1.95 -1.95zM410.13 250.76l1.95 1.95l-1.95 1.95l-1.95 -1.95zM384.67 250.76l1.95 1.95l-1.95 1.95l-1.95 -1.95zM408.82 241.32l1.95 1.95l-1.95 1.95l-1.95 -1.95zM385.98 241.32l1.95 1.95l-1.95 1.95l-1.95 -1.95zM410.86 243.6l1.95 1.95l-1.95 1.95l-1.95 -1.95zM383.94 243.6l1.95 1.95l-1.95 1.95l-1.95 -1.95zM410.22 241.01l1.95 1.95l-1.95 1.95l-1.95 -1.95zM384.58 241.01l1.95 1.95l-1.95 1.95l-1.95 -1.95zM406.25 227.22l1.95 1.95l-1.95 1.95l-1.95 -1.95zM388.55 227.22l1.95 1.95l-1.95 1.95l-1.95 -1.95zM411.4 251.92l1.95 1.95l-1.95 1.95l-1.95 -1.95zM383.4 251.92l1.95 1.95l-1.95 1.95l-1.95 -1.95zM409.86 237.64l1.95 1.95l-1.95 1.95l-1.95 -1.95zM384.94 237.64l1.95 1.95l-1.95 1.95l-1.95 -1.95zM408.1 230.67l1.95 1.95l-1.95 1.95l-1.95 -1.95zM386.7 230.67l1.95 1.95l-1.95 1.95l-1.95 -1.95zM409.92 247.91l1.95 1.95l-1.95 1.95l-1.95 -1.95zM384.88 247.91l1.95 1.95l-1.95 1.95l-1.95 -1.95zM400.67 223.02l1.95 1.95l-1.95 1.95l-1.95 -1.95zM394.13 223.02l1.95 1.95l-1.95 1.95l-1.95 -1.95zM409.91 238.07l1.95 1.95l-1.95 1.95l-1.95 -1.95zM384.89 238.07l1.95 1.95l-1.95 1.95l-1.95 -1.95zM407.2 236.05l1.95 1.95l-1.95 1.95l-1.95 -1.95zM387.6 236.05l1.95 1.95l-1.95 1.95l-1.95 -1.95zM409.06 246.4l1.95 1.95l-1.95 1.95l-1.95 -1.95zM385.74 246.4l1.95 1.95l-1.95 1.95l-1.95 -1.95zM409.33 246.11l1.95 1.95l-1.95 1.95l-1.95 -1.95zM385.47 246.11l1.95 1.95l-1.95 1.95l-1.95 -1.95zM407.89 231.14l1.95 1.95l-1.95 1.95l-1.95 -1.95zM386.91 231.14l1.95 1.95l-1.95 1.95l-1.95 -1.95zM400.8 224.87l1.95 1.95l-1.95 1.95l-1.95 -1.95zM394 224.87l1.95 1.95l-1.95 1.95l-1.95 -1.95zM409.49 236.98l1.95 1.95l-1.95 1.95l-1.95 -1.95zM385.31 236.98l1.95 1.95l-1.95 1.95l-1.95 -1.95zM410.86 247.4l1.95 1.95l-1.95 1.95l-1.95 -1.95zM383.94 247.4l1.95 1.95l-1.95 1.95l-1.95 -1.95zM410.2 250.8l1.95 1.95l-1.95 1.95l-1.95 -1.95zM384.6 250.8l1.95 1.95l-1.95 1.95l-1.95 -1.95zM409.07 250.91l1.95 1.95l-1.95 1.95l-1.95 -1.95zM385.73 250.91l1.95 1.95l-1.95 1.95l-1.95 -1.95zM404.98 227.48l1.95 1.95l-1.95 1.95l-1.95 -1.95zM389.82 227.48l1.95 1.95l-1.95 1.95l-1.95 -1.95zM407.15 229.69l1.95 1.95l-1.95 1.95l-1.95 -1.95zM387.65 229.69l1.95 1.95l-1.95 1.95l-1.95 -1.95zM409.66 240.92l1.95 1.95l-1.95 1.95l-1.95 -1.95zM385.14 240.92l1.95 1.95l-1.95 1.95l-1.95 -1.95zM410.51 247.51l1.95 1.95l-1.95 1.95l-1.95 -1.95zM384.29 247.51l1.95 1.95l-1.95 1.95l-1.95 -1.95zM406.3 230.39l1.95 1.95l-1.95 1.95l-1.95 -1.95zM388.5 230.39l1.95 1.95l-1.95 1.95l-1.95 -1.95zM411.43 247.57l1.95 1.95l-1.95 1.95l-1.95 -1.95zM383.37 247.57l1.95 1.95l-1.95 1.95l-1.95 -1.95zM405.93 227.06l1.95 1.95l-1.95 1.95l-1.95 -1.95zM388.87 227.06l1.95 1.95l-1.95 1.95l-1.95 -1.95zM410.25 251.53l1.95 1.95l-1.95 1.95l-1.95 -1.95zM384.55 251.53l1.95 1.95l-1.95 1.95l-1.95 -1.95zM408.39 238.8l1.95 1.95l-1.95 1.95l-1.95 -1.95zM386.41 238.8l1.95 1.95l-1.95 1.95l-1.95 -1.95zM409.01 237.61l1.95 1.95l-1.95 1.95l-1.95 -1.95zM385.79 237.61l1.95 1.95l-1.95 1.95l-1.95 -1.95zM408.07 239.84l1.95 1.95l-1.95 1.95l-1.95 -1.95zM386.73 239.84l1.95 1.95l-1.95 1.95l-1.95 -1.95zM410.22 251.56l1.95 1.95l-1.95 1.95l-1.95 -1.95zM384.58 251.56l1.95 1.95l-1.95 1.95l-1.95 -1.95zM408.73 233.25l1.95 1.95l-1.95 1.95l-1.95 -1.95zM386.07 233.25l1.95 1.95l-1.95 1.95l-1.95 -1.95zM409.18 238.47l1.95 1.95l-1.95 1.95l-1.95 -1.95zM385.62 238.47l1.95 1.95l-1.95 1.95l-1.95 -1.95zM408.64 242.6l1.95 1.95l-1.95 1.95l-1.95 -1.95zM386.16 242.6l1.95 1.95l-1.95 1.95l-1.95 -1.95zM408.78 237.7l1.95 1.95l-1.95 1.95l-1.95 -1.95zM386.02 237.7l1.95 1.95l-1.95 1.95l-1.95 -1.95zM411.39 251.16l1.95 1.95l-1.95 1.95l-1.95 -1.95zM383.41 251.16l1.95 1.95l-1.95 1.95l-1.95 -1.95zM406.05 229.02l1.95 1.95l-1.95 1.95l-1.95 -1.95zM388.75 229.02l1.95 1.95l-1.95 1.95l-1.95 -1.95zM401.83 224.44l1.95 1.95l-1.95 1.95l-1.95 -1.95zM392.97 224.44l1.95 1.95l-1.95 1.95l-1.95 -1.95zM411.36 246.62l1.95 1.95l-1.95 1.95l-1.95 -1.95zM383.44 246.62l1.95 1.95l-1.95 1.95l-1.95 -1.95zM407.96 235.69l1.95 1.95l-1.95 1.95l-1.95 -1.95zM386.84 235.69l1.95 1.95l-1.95 1.95l-1.95 -1.95zM404.53 226.51l1.95 1.95l-1.95 1.95l-1.95 -1.95zM390.27 226.51l1.95 1.95l-1.95 1.95l-1.95 -1.95zM409.22 250.14l1.95 1.95l-1.95 1.95l-1.95 -1.95zM385.58 250.14l1.95 1.95l-1.95 1.95l-1.95 -1.95zM408.84 245.44l1.95 1.95l-1.95 1.95l-1.95 -1.95zM385.96 245.44l1.95 1.95l-1.95 1.95l-1.95 -1.95zM402.93 226.6l1.95 1.95l-1.95 1.95l-1.95 -1.95zM391.87 226.6l1.95 1.95l-1.95 1.95l-1.95 -1.95zM409.34 242.47l1.95 1.95l-1.95 1.95l-1.95 -1.95zM385.46 242.47l1.95 1.95l-1.95 1.95l-1.95 -1.95zM407.61 231.79l1.95 1.95l-1.95 1.95l-1.95 -1.95zM387.19 231.79l1.95 1.95l-1.95 1.95l-1.95 -1.95zM402.77 223.73l1.95 1.95l-1.95 1.95l-1.95 -1.95zM392.03 223.73l1.95 1.95l-1.95 1.95l-1.95 -1.95zM402.12 224.3l1.95 1.95l-1.95 1.95l-1.95 -1.95zM392.68 224.3l1.95 1.95l-1.95 1.95l-1.95 -1.95zM404.66 228.42l1.95 1.95l-1.95 1.95l-1.95 -1.95zM390.14 228.42l1.95 1.95l-1.95 1.95l-1.95 -1.95zM408.77 237.43l1.95 1.95l-1.95 1.95l-1.95 -1.95zM386.03 237.43l1.95 1.95l-1.95 1.95l-1.95 -1.95zM407.24 232.45l1.95 1.95l-1.95 1.95l-1.95 -1.95zM387.56 232.45l1.95 1.95l-1.95 1.95l-1.95 -1.95zM407.96 237.39l1.95 1.95l-1.95 1.95l-1.95 -1.95zM386.84 237.39l1.95 1.95l-1.95 1.95l-1.95 -1.95zM404.93 226.93l1.95 1.95l-1.95 1.95l-1.95 -1.95zM389.87 226.93l1.95 1.95l-1.95 1.95l-1.95 -1.95zM403.8 253.75l1.95 1.95l-1.95 1.95l-1.95 -1.95zM391 253.75l1.95 1.95l-1.95 1.95l-1.95 -1.95zM405.3 254.65l1.95 1.95l-1.95 1.95l-1.95 -1.95zM389.5 254.65l1.95 1.95l-1.95 1.95l-1.95 -1.95zM406.4 256.05l1.95 1.95l-1.95 1.95l-1.95 -1.95zM388.4 256.05l1.95 1.95l-1.95 1.95l-1.95 -1.95zM407.8 257.05l1.95 1.95l-1.95 1.95l-1.95 -1.95zM387 257.05l1.95 1.95l-1.95 1.95l-1.95 -1.95zM409 258.65l1.95 1.95l-1.95 1.95l-1.95 -1.95zM385.8 258.65l1.95 1.95l-1.95 1.95l-1.95 -1.95zM410.5 260.05l1.95 1.95l-1.95 1.95l-1.95 -1.95zM384.3 260.05l1.95 1.95l-1.95 1.95l-1.95 -1.95zM409.7 253.25l1.95 1.95l-1.95 1.95l-1.95 -1.95zM385.1 253.25l1.95 1.95l-1.95 1.95l-1.95 -1.95zM407.8 253.85l1.95 1.95l-1.95 1.95l-1.95 -1.95zM387 253.85l1.95 1.95l-1.95 1.95l-1.95 -1.95zM411.2 254.65l1.95 1.95l-1.95 1.95l-1.95 -1.95zM383.6 254.65l1.95 1.95l-1.95 1.95l-1.95 -1.95zM408.9 255.35l1.95 1.95l-1.95 1.95l-1.95 -1.95zM385.9 255.35l1.95 1.95l-1.95 1.95l-1.95 -1.95zM403.7 241.35l1.95 1.95l-1.95 1.95l-1.95 -1.95zM391.1 241.35l1.95 1.95l-1.95 1.95l-1.95 -1.95zM405.4 248.25l1.95 1.95l-1.95 1.95l-1.95 -1.95zM389.4 248.25l1.95 1.95l-1.95 1.95l-1.95 -1.95zM406.4 248.35l1.95 1.95l-1.95 1.95l-1.95 -1.95zM388.4 248.35l1.95 1.95l-1.95 1.95l-1.95 -1.95z" fill="#000" clip-path="url(#cB2)"/>
<rect x="306.8" y="210.7" width="180.8" height="155.4" fill="none" stroke="#444" stroke-width="0.9"/>
<path d="M340.3 366.1v-3.8M340.3 210.7v3.8M397.4 366.1v-3.8M397.4 210.7v3.8M454.5 366.1v-3.8M454.5 210.7v3.8M306.8 354.98h3.8M487.6 354.98h-3.8M306.8 332.73h3.8M487.6 332.73h-3.8M306.8 310.48h3.8M487.6 310.48h-3.8M306.8 288.24h3.8M487.6 288.24h-3.8M306.8 265.99h3.8M487.6 265.99h-3.8M306.8 243.75h3.8M487.6 243.75h-3.8M306.8 221.5h3.8M487.6 221.5h-3.8" fill="none" stroke="#444" stroke-width="0.9"/>
<path d="M306.8 360.54h1.9M487.6 360.54h-1.9M306.8 354.98h1.9M487.6 354.98h-1.9M306.8 349.42h1.9M487.6 349.42h-1.9M306.8 343.85h1.9M487.6 343.85h-1.9M306.8 338.29h1.9M487.6 338.29h-1.9M306.8 332.73h1.9M487.6 332.73h-1.9M306.8 327.17h1.9M487.6 327.17h-1.9M306.8 321.61h1.9M487.6 321.61h-1.9M306.8 316.05h1.9M487.6 316.05h-1.9M306.8 310.48h1.9M487.6 310.48h-1.9M306.8 304.92h1.9M487.6 304.92h-1.9M306.8 299.36h1.9M487.6 299.36h-1.9M306.8 293.8h1.9M487.6 293.8h-1.9M306.8 288.24h1.9M487.6 288.24h-1.9M306.8 282.68h1.9M487.6 282.68h-1.9M306.8 277.12h1.9M487.6 277.12h-1.9M306.8 271.55h1.9M487.6 271.55h-1.9M306.8 265.99h1.9M487.6 265.99h-1.9M306.8 260.43h1.9M487.6 260.43h-1.9M306.8 254.87h1.9M487.6 254.87h-1.9M306.8 249.31h1.9M487.6 249.31h-1.9M306.8 243.75h1.9M487.6 243.75h-1.9M306.8 238.18h1.9M487.6 238.18h-1.9M306.8 232.62h1.9M487.6 232.62h-1.9M306.8 227.06h1.9M487.6 227.06h-1.9M306.8 221.5h1.9M487.6 221.5h-1.9M306.8 215.94h1.9M487.6 215.94h-1.9" fill="none" stroke="#666" stroke-width="0.9"/>
<text x="302.25" y="360.78" font-size="16" text-anchor="end"><tspan font-size="19">-</tspan>1200</text>
<text x="302.25" y="338.53" font-size="16" text-anchor="end"><tspan font-size="19">-</tspan>1000</text>
<text x="302.25" y="316.28" font-size="16" text-anchor="end"><tspan font-size="19">-</tspan>800</text>
<text x="302.25" y="294.04" font-size="16" text-anchor="end"><tspan font-size="19">-</tspan>600</text>
<text x="302.25" y="271.79" font-size="16" text-anchor="end"><tspan font-size="19">-</tspan>400</text>
<text x="302.25" y="249.55" font-size="16" text-anchor="end"><tspan font-size="19">-</tspan>200</text>
<text x="302.25" y="227.3" font-size="16" text-anchor="end">0</text>
<text x="340.3" y="386.9" font-size="16" text-anchor="middle"><tspan font-size="19">-</tspan>100</text>
<text x="397.4" y="386.9" font-size="16" text-anchor="middle">0</text>
<text x="454.5" y="386.9" font-size="16" text-anchor="middle">100</text>
<text x="397.2" y="405.1" font-size="17" text-anchor="middle">Re<tspan font-size="15">ω</tspan> /2<tspan font-size="14.6">π</tspan></text>
<text x="255" y="278" font-size="17" text-anchor="middle" transform="rotate(-90 255 278)">Im<tspan font-size="15">ω</tspan></text>
<text x="243.4" y="218.2" font-size="15" font-weight="bold">B2</text>
<path d="M307.4 433.4H488.2M397.6 422.6V577.8" stroke="#505050" stroke-width="0.85" fill="none"/>
<path d="M397.6 460.95l1.95 1.95l-1.95 1.95l-1.95 -1.95zM397.6 465.85l1.95 1.95l-1.95 1.95l-1.95 -1.95zM397.6 537.45l1.95 1.95l-1.95 1.95l-1.95 -1.95zM397.6 560.45l1.95 1.95l-1.95 1.95l-1.95 -1.95zM402.6 455.75l1.95 1.95l-1.95 1.95l-1.95 -1.95zM401.6 460.95l1.95 1.95l-1.95 1.95l-1.95 -1.95zM401.6 466.95l1.95 1.95l-1.95 1.95l-1.95 -1.95zM402.2 466.75l1.95 1.95l-1.95 1.95l-1.95 -1.95zM407.6 466.95l1.95 1.95l-1.95 1.95l-1.95 -1.95zM408.6 470.25l1.95 1.95l-1.95 1.95l-1.95 -1.95zM406.2 472.05l1.95 1.95l-1.95 1.95l-1.95 -1.95zM398.6 473.55l1.95 1.95l-1.95 1.95l-1.95 -1.95zM402.9 477.35l1.95 1.95l-1.95 1.95l-1.95 -1.95zM405.3 484.55l1.95 1.95l-1.95 1.95l-1.95 -1.95zM407.1 497.65l1.95 1.95l-1.95 1.95l-1.95 -1.95zM406.6 508.55l1.95 1.95l-1.95 1.95l-1.95 -1.95zM420.3 513.75l1.95 1.95l-1.95 1.95l-1.95 -1.95zM414.8 514.25l1.95 1.95l-1.95 1.95l-1.95 -1.95zM399.7 517.55l1.95 1.95l-1.95 1.95l-1.95 -1.95zM423 518.85l1.95 1.95l-1.95 1.95l-1.95 -1.95zM421 523.05l1.95 1.95l-1.95 1.95l-1.95 -1.95zM431.8 523.05l1.95 1.95l-1.95 1.95l-1.95 -1.95zM444.1 522.55l1.95 1.95l-1.95 1.95l-1.95 -1.95zM435.5 527.05l1.95 1.95l-1.95 1.95l-1.95 -1.95zM438.8 527.85l1.95 1.95l-1.95 1.95l-1.95 -1.95zM411 528.75l1.95 1.95l-1.95 1.95l-1.95 -1.95zM408 531.75l1.95 1.95l-1.95 1.95l-1.95 -1.95zM422.5 531.25l1.95 1.95l-1.95 1.95l-1.95 -1.95zM426.4 529.45l1.95 1.95l-1.95 1.95l-1.95 -1.95zM447.2 530.15l1.95 1.95l-1.95 1.95l-1.95 -1.95zM449.9 529.45l1.95 1.95l-1.95 1.95l-1.95 -1.95zM457.2 529.15l1.95 1.95l-1.95 1.95l-1.95 -1.95zM448.8 532.85l1.95 1.95l-1.95 1.95l-1.95 -1.95zM451.8 532.45l1.95 1.95l-1.95 1.95l-1.95 -1.95zM432.5 533.25l1.95 1.95l-1.95 1.95l-1.95 -1.95zM438.1 533.05l1.95 1.95l-1.95 1.95l-1.95 -1.95zM443.1 533.85l1.95 1.95l-1.95 1.95l-1.95 -1.95zM438.4 538.15l1.95 1.95l-1.95 1.95l-1.95 -1.95zM452.8 537.85l1.95 1.95l-1.95 1.95l-1.95 -1.95zM458.9 536.85l1.95 1.95l-1.95 1.95l-1.95 -1.95zM461.5 538.15l1.95 1.95l-1.95 1.95l-1.95 -1.95zM464.9 538.15l1.95 1.95l-1.95 1.95l-1.95 -1.95zM456.4 540.85l1.95 1.95l-1.95 1.95l-1.95 -1.95zM454.2 544.45l1.95 1.95l-1.95 1.95l-1.95 -1.95zM460.2 544.15l1.95 1.95l-1.95 1.95l-1.95 -1.95zM465.8 545.25l1.95 1.95l-1.95 1.95l-1.95 -1.95zM471.6 541.25l1.95 1.95l-1.95 1.95l-1.95 -1.95zM474.5 540.45l1.95 1.95l-1.95 1.95l-1.95 -1.95zM470.9 544.45l1.95 1.95l-1.95 1.95l-1.95 -1.95zM476.9 543.55l1.95 1.95l-1.95 1.95l-1.95 -1.95zM481.3 544.45l1.95 1.95l-1.95 1.95l-1.95 -1.95zM483.6 541.45l1.95 1.95l-1.95 1.95l-1.95 -1.95zM486.9 542.55l1.95 1.95l-1.95 1.95l-1.95 -1.95zM488.3 546.85l1.95 1.95l-1.95 1.95l-1.95 -1.95zM431 545.15l1.95 1.95l-1.95 1.95l-1.95 -1.95zM420.5 548.45l1.95 1.95l-1.95 1.95l-1.95 -1.95zM467.3 548.55l1.95 1.95l-1.95 1.95l-1.95 -1.95zM482.2 549.55l1.95 1.95l-1.95 1.95l-1.95 -1.95zM484.7 549.95l1.95 1.95l-1.95 1.95l-1.95 -1.95zM474.5 551.75l1.95 1.95l-1.95 1.95l-1.95 -1.95zM475.8 554.45l1.95 1.95l-1.95 1.95l-1.95 -1.95zM456.8 553.55l1.95 1.95l-1.95 1.95l-1.95 -1.95zM436.1 555.85l1.95 1.95l-1.95 1.95l-1.95 -1.95zM449.5 559.55l1.95 1.95l-1.95 1.95l-1.95 -1.95zM463.8 560.85l1.95 1.95l-1.95 1.95l-1.95 -1.95zM481.2 560.45l1.95 1.95l-1.95 1.95l-1.95 -1.95zM487.6 558.65l1.95 1.95l-1.95 1.95l-1.95 -1.95zM392.6 455.75l1.95 1.95l-1.95 1.95l-1.95 -1.95zM393.6 460.95l1.95 1.95l-1.95 1.95l-1.95 -1.95zM393.6 466.95l1.95 1.95l-1.95 1.95l-1.95 -1.95zM393 466.75l1.95 1.95l-1.95 1.95l-1.95 -1.95zM387.6 466.95l1.95 1.95l-1.95 1.95l-1.95 -1.95zM386.6 470.25l1.95 1.95l-1.95 1.95l-1.95 -1.95zM389 472.05l1.95 1.95l-1.95 1.95l-1.95 -1.95zM396.6 473.55l1.95 1.95l-1.95 1.95l-1.95 -1.95zM392.3 477.35l1.95 1.95l-1.95 1.95l-1.95 -1.95zM389.9 484.55l1.95 1.95l-1.95 1.95l-1.95 -1.95zM388.1 497.65l1.95 1.95l-1.95 1.95l-1.95 -1.95zM388.6 508.55l1.95 1.95l-1.95 1.95l-1.95 -1.95zM374.9 513.75l1.95 1.95l-1.95 1.95l-1.95 -1.95zM380.4 514.25l1.95 1.95l-1.95 1.95l-1.95 -1.95zM395.5 517.55l1.95 1.95l-1.95 1.95l-1.95 -1.95zM372.2 518.85l1.95 1.95l-1.95 1.95l-1.95 -1.95zM374.2 523.05l1.95 1.95l-1.95 1.95l-1.95 -1.95zM363.4 523.05l1.95 1.95l-1.95 1.95l-1.95 -1.95zM351.1 522.55l1.95 1.95l-1.95 1.95l-1.95 -1.95zM359.7 527.05l1.95 1.95l-1.95 1.95l-1.95 -1.95zM356.4 527.85l1.95 1.95l-1.95 1.95l-1.95 -1.95zM384.2 528.75l1.95 1.95l-1.95 1.95l-1.95 -1.95zM387.2 531.75l1.95 1.95l-1.95 1.95l-1.95 -1.95zM372.7 531.25l1.95 1.95l-1.95 1.95l-1.95 -1.95zM368.8 529.45l1.95 1.95l-1.95 1.95l-1.95 -1.95zM348 530.15l1.95 1.95l-1.95 1.95l-1.95 -1.95zM345.3 529.45l1.95 1.95l-1.95 1.95l-1.95 -1.95zM338 529.15l1.95 1.95l-1.95 1.95l-1.95 -1.95zM346.4 532.85l1.95 1.95l-1.95 1.95l-1.95 -1.95zM343.4 532.45l1.95 1.95l-1.95 1.95l-1.95 -1.95zM362.7 533.25l1.95 1.95l-1.95 1.95l-1.95 -1.95zM357.1 533.05l1.95 1.95l-1.95 1.95l-1.95 -1.95zM352.1 533.85l1.95 1.95l-1.95 1.95l-1.95 -1.95zM356.8 538.15l1.95 1.95l-1.95 1.95l-1.95 -1.95zM342.4 537.85l1.95 1.95l-1.95 1.95l-1.95 -1.95zM336.3 536.85l1.95 1.95l-1.95 1.95l-1.95 -1.95zM333.7 538.15l1.95 1.95l-1.95 1.95l-1.95 -1.95zM330.3 538.15l1.95 1.95l-1.95 1.95l-1.95 -1.95zM338.8 540.85l1.95 1.95l-1.95 1.95l-1.95 -1.95zM341 544.45l1.95 1.95l-1.95 1.95l-1.95 -1.95zM335 544.15l1.95 1.95l-1.95 1.95l-1.95 -1.95zM329.4 545.25l1.95 1.95l-1.95 1.95l-1.95 -1.95zM323.6 541.25l1.95 1.95l-1.95 1.95l-1.95 -1.95zM320.7 540.45l1.95 1.95l-1.95 1.95l-1.95 -1.95zM324.3 544.45l1.95 1.95l-1.95 1.95l-1.95 -1.95zM318.3 543.55l1.95 1.95l-1.95 1.95l-1.95 -1.95zM313.9 544.45l1.95 1.95l-1.95 1.95l-1.95 -1.95zM311.6 541.45l1.95 1.95l-1.95 1.95l-1.95 -1.95zM308.3 542.55l1.95 1.95l-1.95 1.95l-1.95 -1.95zM306.9 546.85l1.95 1.95l-1.95 1.95l-1.95 -1.95zM364.2 545.15l1.95 1.95l-1.95 1.95l-1.95 -1.95zM374.7 548.45l1.95 1.95l-1.95 1.95l-1.95 -1.95zM327.9 548.55l1.95 1.95l-1.95 1.95l-1.95 -1.95zM313 549.55l1.95 1.95l-1.95 1.95l-1.95 -1.95zM310.5 549.95l1.95 1.95l-1.95 1.95l-1.95 -1.95zM320.7 551.75l1.95 1.95l-1.95 1.95l-1.95 -1.95zM319.4 554.45l1.95 1.95l-1.95 1.95l-1.95 -1.95zM338.4 553.55l1.95 1.95l-1.95 1.95l-1.95 -1.95zM359.1 555.85l1.95 1.95l-1.95 1.95l-1.95 -1.95zM345.7 559.55l1.95 1.95l-1.95 1.95l-1.95 -1.95zM331.4 560.85l1.95 1.95l-1.95 1.95l-1.95 -1.95zM314 560.45l1.95 1.95l-1.95 1.95l-1.95 -1.95zM307.6 558.65l1.95 1.95l-1.95 1.95l-1.95 -1.95zM397.6 432.85l1.95 1.95l-1.95 1.95l-1.95 -1.95zM397.6 434.26l1.95 1.95l-1.95 1.95l-1.95 -1.95zM397.6 435.86l1.95 1.95l-1.95 1.95l-1.95 -1.95zM397.9 431.59l1.95 1.95l-1.95 1.95l-1.95 -1.95zM398.1 432.16l1.95 1.95l-1.95 1.95l-1.95 -1.95zM398.76 432.35l1.95 1.95l-1.95 1.95l-1.95 -1.95zM399.24 432.04l1.95 1.95l-1.95 1.95l-1.95 -1.95zM399.58 432.48l1.95 1.95l-1.95 1.95l-1.95 -1.95zM399.47 432.98l1.95 1.95l-1.95 1.95l-1.95 -1.95zM398.68 433.42l1.95 1.95l-1.95 1.95l-1.95 -1.95zM398.35 433.82l1.95 1.95l-1.95 1.95l-1.95 -1.95zM399.96 433.48l1.95 1.95l-1.95 1.95l-1.95 -1.95zM399.58 433.82l1.95 1.95l-1.95 1.95l-1.95 -1.95zM400.57 432.79l1.95 1.95l-1.95 1.95l-1.95 -1.95zM400.96 433.23l1.95 1.95l-1.95 1.95l-1.95 -1.95zM401.47 433.36l1.95 1.95l-1.95 1.95l-1.95 -1.95zM402.24 432.78l1.95 1.95l-1.95 1.95l-1.95 -1.95zM400.63 434l1.95 1.95l-1.95 1.95l-1.95 -1.95zM401.3 434.07l1.95 1.95l-1.95 1.95l-1.95 -1.95zM401.86 434.32l1.95 1.95l-1.95 1.95l-1.95 -1.95zM401.19 434.76l1.95 1.95l-1.95 1.95l-1.95 -1.95zM402.46 433.82l1.95 1.95l-1.95 1.95l-1.95 -1.95zM403.02 433.82l1.95 1.95l-1.95 1.95l-1.95 -1.95zM402.68 434.38l1.95 1.95l-1.95 1.95l-1.95 -1.95zM403.18 434.45l1.95 1.95l-1.95 1.95l-1.95 -1.95zM404.07 434.32l1.95 1.95l-1.95 1.95l-1.95 -1.95zM399.3 435.25l1.95 1.95l-1.95 1.95l-1.95 -1.95zM400.29 435.2l1.95 1.95l-1.95 1.95l-1.95 -1.95zM403.02 435.33l1.95 1.95l-1.95 1.95l-1.95 -1.95zM403.97 435.55l1.95 1.95l-1.95 1.95l-1.95 -1.95zM400.52 436.38l1.95 1.95l-1.95 1.95l-1.95 -1.95zM402.91 436.35l1.95 1.95l-1.95 1.95l-1.95 -1.95zM403.47 436.02l1.95 1.95l-1.95 1.95l-1.95 -1.95zM404.23 436.12l1.95 1.95l-1.95 1.95l-1.95 -1.95zM404.88 436.46l1.95 1.95l-1.95 1.95l-1.95 -1.95zM403.75 436.86l1.95 1.95l-1.95 1.95l-1.95 -1.95zM401.58 437.61l1.95 1.95l-1.95 1.95l-1.95 -1.95zM402.7 437.71l1.95 1.95l-1.95 1.95l-1.95 -1.95zM404.45 437.69l1.95 1.95l-1.95 1.95l-1.95 -1.95zM404.37 438.37l1.95 1.95l-1.95 1.95l-1.95 -1.95zM405.67 437.8l1.95 1.95l-1.95 1.95l-1.95 -1.95zM405.34 438.21l1.95 1.95l-1.95 1.95l-1.95 -1.95zM406.29 438.07l1.95 1.95l-1.95 1.95l-1.95 -1.95zM406.29 439.01l1.95 1.95l-1.95 1.95l-1.95 -1.95zM402.91 439.27l1.95 1.95l-1.95 1.95l-1.95 -1.95zM405.06 439.87l1.95 1.95l-1.95 1.95l-1.95 -1.95zM404.88 440.37l1.95 1.95l-1.95 1.95l-1.95 -1.95zM406.94 439.94l1.95 1.95l-1.95 1.95l-1.95 -1.95zM407.74 439.94l1.95 1.95l-1.95 1.95l-1.95 -1.95zM408.11 440.86l1.95 1.95l-1.95 1.95l-1.95 -1.95zM406.41 441l1.95 1.95l-1.95 1.95l-1.95 -1.95zM406.64 441.52l1.95 1.95l-1.95 1.95l-1.95 -1.95zM407.69 441.58l1.95 1.95l-1.95 1.95l-1.95 -1.95zM404.73 442.1l1.95 1.95l-1.95 1.95l-1.95 -1.95zM402.44 442.72l1.95 1.95l-1.95 1.95l-1.95 -1.95zM407.98 442.95l1.95 1.95l-1.95 1.95l-1.95 -1.95zM405.77 443.44l1.95 1.95l-1.95 1.95l-1.95 -1.95zM406.26 443.71l1.95 1.95l-1.95 1.95l-1.95 -1.95zM408.67 443.68l1.95 1.95l-1.95 1.95l-1.95 -1.95zM407.74 444.87l1.95 1.95l-1.95 1.95l-1.95 -1.95zM408.47 444.76l1.95 1.95l-1.95 1.95l-1.95 -1.95zM406.82 445.96l1.95 1.95l-1.95 1.95l-1.95 -1.95zM404.23 446.51l1.95 1.95l-1.95 1.95l-1.95 -1.95zM407.46 446.62l1.95 1.95l-1.95 1.95l-1.95 -1.95zM409.07 447.19l1.95 1.95l-1.95 1.95l-1.95 -1.95zM407.46 448.61l1.95 1.95l-1.95 1.95l-1.95 -1.95zM408.89 448.56l1.95 1.95l-1.95 1.95l-1.95 -1.95zM405.16 449.02l1.95 1.95l-1.95 1.95l-1.95 -1.95zM409.22 449.65l1.95 1.95l-1.95 1.95l-1.95 -1.95zM408.11 450.14l1.95 1.95l-1.95 1.95l-1.95 -1.95zM403.21 450.83l1.95 1.95l-1.95 1.95l-1.95 -1.95zM406.99 450.7l1.95 1.95l-1.95 1.95l-1.95 -1.95zM408.47 451.82l1.95 1.95l-1.95 1.95l-1.95 -1.95zM409.92 452.67l1.95 1.95l-1.95 1.95l-1.95 -1.95zM397.3 431.59l1.95 1.95l-1.95 1.95l-1.95 -1.95zM397.1 432.16l1.95 1.95l-1.95 1.95l-1.95 -1.95zM396.44 432.35l1.95 1.95l-1.95 1.95l-1.95 -1.95zM395.96 432.04l1.95 1.95l-1.95 1.95l-1.95 -1.95zM395.62 432.48l1.95 1.95l-1.95 1.95l-1.95 -1.95zM395.73 432.98l1.95 1.95l-1.95 1.95l-1.95 -1.95zM396.52 433.42l1.95 1.95l-1.95 1.95l-1.95 -1.95zM396.85 433.82l1.95 1.95l-1.95 1.95l-1.95 -1.95zM395.24 433.48l1.95 1.95l-1.95 1.95l-1.95 -1.95zM395.62 433.82l1.95 1.95l-1.95 1.95l-1.95 -1.95zM394.63 432.79l1.95 1.95l-1.95 1.95l-1.95 -1.95zM394.24 433.23l1.95 1.95l-1.95 1.95l-1.95 -1.95zM393.73 433.36l1.95 1.95l-1.95 1.95l-1.95 -1.95zM392.96 432.78l1.95 1.95l-1.95 1.95l-1.95 -1.95zM394.57 434l1.95 1.95l-1.95 1.95l-1.95 -1.95zM393.9 434.07l1.95 1.95l-1.95 1.95l-1.95 -1.95zM393.34 434.32l1.95 1.95l-1.95 1.95l-1.95 -1.95zM394.01 434.76l1.95 1.95l-1.95 1.95l-1.95 -1.95zM392.74 433.82l1.95 1.95l-1.95 1.95l-1.95 -1.95zM392.18 433.82l1.95 1.95l-1.95 1.95l-1.95 -1.95zM392.52 434.38l1.95 1.95l-1.95 1.95l-1.95 -1.95zM392.02 434.45l1.95 1.95l-1.95 1.95l-1.95 -1.95zM391.13 434.32l1.95 1.95l-1.95 1.95l-1.95 -1.95zM395.9 435.25l1.95 1.95l-1.95 1.95l-1.95 -1.95zM394.91 435.2l1.95 1.95l-1.95 1.95l-1.95 -1.95zM392.18 435.33l1.95 1.95l-1.95 1.95l-1.95 -1.95zM391.23 435.55l1.95 1.95l-1.95 1.95l-1.95 -1.95zM394.68 436.38l1.95 1.95l-1.95 1.95l-1.95 -1.95zM392.29 436.35l1.95 1.95l-1.95 1.95l-1.95 -1.95zM391.73 436.02l1.95 1.95l-1.95 1.95l-1.95 -1.95zM390.97 436.12l1.95 1.95l-1.95 1.95l-1.95 -1.95zM390.32 436.46l1.95 1.95l-1.95 1.95l-1.95 -1.95zM391.45 436.86l1.95 1.95l-1.95 1.95l-1.95 -1.95zM393.62 437.61l1.95 1.95l-1.95 1.95l-1.95 -1.95zM392.5 437.71l1.95 1.95l-1.95 1.95l-1.95 -1.95zM390.75 437.69l1.95 1.95l-1.95 1.95l-1.95 -1.95zM390.83 438.37l1.95 1.95l-1.95 1.95l-1.95 -1.95zM389.53 437.8l1.95 1.95l-1.95 1.95l-1.95 -1.95zM389.86 438.21l1.95 1.95l-1.95 1.95l-1.95 -1.95zM388.91 438.07l1.95 1.95l-1.95 1.95l-1.95 -1.95zM388.91 439.01l1.95 1.95l-1.95 1.95l-1.95 -1.95zM392.29 439.27l1.95 1.95l-1.95 1.95l-1.95 -1.95zM390.14 439.87l1.95 1.95l-1.95 1.95l-1.95 -1.95zM390.32 440.37l1.95 1.95l-1.95 1.95l-1.95 -1.95zM388.26 439.94l1.95 1.95l-1.95 1.95l-1.95 -1.95zM387.46 439.94l1.95 1.95l-1.95 1.95l-1.95 -1.95zM387.09 440.86l1.95 1.95l-1.95 1.95l-1.95 -1.95zM388.79 441l1.95 1.95l-1.95 1.95l-1.95 -1.95zM388.56 441.52l1.95 1.95l-1.95 1.95l-1.95 -1.95zM387.51 441.58l1.95 1.95l-1.95 1.95l-1.95 -1.95zM390.47 442.1l1.95 1.95l-1.95 1.95l-1.95 -1.95zM392.76 442.72l1.95 1.95l-1.95 1.95l-1.95 -1.95zM387.22 442.95l1.95 1.95l-1.95 1.95l-1.95 -1.95zM389.43 443.44l1.95 1.95l-1.95 1.95l-1.95 -1.95zM388.94 443.71l1.95 1.95l-1.95 1.95l-1.95 -1.95zM386.53 443.68l1.95 1.95l-1.95 1.95l-1.95 -1.95zM387.46 444.87l1.95 1.95l-1.95 1.95l-1.95 -1.95zM386.73 444.76l1.95 1.95l-1.95 1.95l-1.95 -1.95zM388.38 445.96l1.95 1.95l-1.95 1.95l-1.95 -1.95zM390.97 446.51l1.95 1.95l-1.95 1.95l-1.95 -1.95zM387.74 446.62l1.95 1.95l-1.95 1.95l-1.95 -1.95zM386.13 447.19l1.95 1.95l-1.95 1.95l-1.95 -1.95zM387.74 448.61l1.95 1.95l-1.95 1.95l-1.95 -1.95zM386.31 448.56l1.95 1.95l-1.95 1.95l-1.95 -1.95zM390.04 449.02l1.95 1.95l-1.95 1.95l-1.95 -1.95zM385.98 449.65l1.95 1.95l-1.95 1.95l-1.95 -1.95zM387.09 450.14l1.95 1.95l-1.95 1.95l-1.95 -1.95zM391.99 450.83l1.95 1.95l-1.95 1.95l-1.95 -1.95zM388.21 450.7l1.95 1.95l-1.95 1.95l-1.95 -1.95zM386.73 451.82l1.95 1.95l-1.95 1.95l-1.95 -1.95zM385.28 452.67l1.95 1.95l-1.95 1.95l-1.95 -1.95zM408.97 445.76l1.95 1.95l-1.95 1.95l-1.95 -1.95zM386.23 445.76l1.95 1.95l-1.95 1.95l-1.95 -1.95zM409.17 457.03l1.95 1.95l-1.95 1.95l-1.95 -1.95zM386.03 457.03l1.95 1.95l-1.95 1.95l-1.95 -1.95zM410.01 452.04l1.95 1.95l-1.95 1.95l-1.95 -1.95zM385.19 452.04l1.95 1.95l-1.95 1.95l-1.95 -1.95zM407.36 449.35l1.95 1.95l-1.95 1.95l-1.95 -1.95zM387.84 449.35l1.95 1.95l-1.95 1.95l-1.95 -1.95zM398.93 433.04l1.95 1.95l-1.95 1.95l-1.95 -1.95zM396.27 433.04l1.95 1.95l-1.95 1.95l-1.95 -1.95zM408.3 451.53l1.95 1.95l-1.95 1.95l-1.95 -1.95zM386.9 451.53l1.95 1.95l-1.95 1.95l-1.95 -1.95zM407.02 445.24l1.95 1.95l-1.95 1.95l-1.95 -1.95zM388.18 445.24l1.95 1.95l-1.95 1.95l-1.95 -1.95zM411.18 454.1l1.95 1.95l-1.95 1.95l-1.95 -1.95zM384.02 454.1l1.95 1.95l-1.95 1.95l-1.95 -1.95zM408.56 442.67l1.95 1.95l-1.95 1.95l-1.95 -1.95zM386.64 442.67l1.95 1.95l-1.95 1.95l-1.95 -1.95zM401.67 433.95l1.95 1.95l-1.95 1.95l-1.95 -1.95zM393.53 433.95l1.95 1.95l-1.95 1.95l-1.95 -1.95zM408.45 454.85l1.95 1.95l-1.95 1.95l-1.95 -1.95zM386.75 454.85l1.95 1.95l-1.95 1.95l-1.95 -1.95zM409.25 450.48l1.95 1.95l-1.95 1.95l-1.95 -1.95zM385.95 450.48l1.95 1.95l-1.95 1.95l-1.95 -1.95zM408.87 456.9l1.95 1.95l-1.95 1.95l-1.95 -1.95zM386.33 456.9l1.95 1.95l-1.95 1.95l-1.95 -1.95zM409.36 446.23l1.95 1.95l-1.95 1.95l-1.95 -1.95zM385.84 446.23l1.95 1.95l-1.95 1.95l-1.95 -1.95zM407.93 448.77l1.95 1.95l-1.95 1.95l-1.95 -1.95zM387.27 448.77l1.95 1.95l-1.95 1.95l-1.95 -1.95zM402.76 434.45l1.95 1.95l-1.95 1.95l-1.95 -1.95zM392.44 434.45l1.95 1.95l-1.95 1.95l-1.95 -1.95zM409.23 444.53l1.95 1.95l-1.95 1.95l-1.95 -1.95zM385.97 444.53l1.95 1.95l-1.95 1.95l-1.95 -1.95zM403.57 435.99l1.95 1.95l-1.95 1.95l-1.95 -1.95zM391.63 435.99l1.95 1.95l-1.95 1.95l-1.95 -1.95zM410.97 453.25l1.95 1.95l-1.95 1.95l-1.95 -1.95zM384.23 453.25l1.95 1.95l-1.95 1.95l-1.95 -1.95zM398.69 432.81l1.95 1.95l-1.95 1.95l-1.95 -1.95zM396.51 432.81l1.95 1.95l-1.95 1.95l-1.95 -1.95zM401.15 433.68l1.95 1.95l-1.95 1.95l-1.95 -1.95zM394.05 433.68l1.95 1.95l-1.95 1.95l-1.95 -1.95zM407.97 441.46l1.95 1.95l-1.95 1.95l-1.95 -1.95zM387.23 441.46l1.95 1.95l-1.95 1.95l-1.95 -1.95zM407.47 441.98l1.95 1.95l-1.95 1.95l-1.95 -1.95zM387.73 441.98l1.95 1.95l-1.95 1.95l-1.95 -1.95zM408.74 454.65l1.95 1.95l-1.95 1.95l-1.95 -1.95zM386.46 454.65l1.95 1.95l-1.95 1.95l-1.95 -1.95zM409.74 446.66l1.95 1.95l-1.95 1.95l-1.95 -1.95zM385.46 446.66l1.95 1.95l-1.95 1.95l-1.95 -1.95zM407.38 445.89l1.95 1.95l-1.95 1.95l-1.95 -1.95zM387.82 445.89l1.95 1.95l-1.95 1.95l-1.95 -1.95zM405.88 439.22l1.95 1.95l-1.95 1.95l-1.95 -1.95zM389.32 439.22l1.95 1.95l-1.95 1.95l-1.95 -1.95zM403.52 437.3l1.95 1.95l-1.95 1.95l-1.95 -1.95zM391.68 437.3l1.95 1.95l-1.95 1.95l-1.95 -1.95zM408.27 446.63l1.95 1.95l-1.95 1.95l-1.95 -1.95zM386.93 446.63l1.95 1.95l-1.95 1.95l-1.95 -1.95zM402.47 435.68l1.95 1.95l-1.95 1.95l-1.95 -1.95zM392.73 435.68l1.95 1.95l-1.95 1.95l-1.95 -1.95zM409.16 455.9l1.95 1.95l-1.95 1.95l-1.95 -1.95zM386.04 455.9l1.95 1.95l-1.95 1.95l-1.95 -1.95zM407.57 440.88l1.95 1.95l-1.95 1.95l-1.95 -1.95zM387.63 440.88l1.95 1.95l-1.95 1.95l-1.95 -1.95zM407.4 447.21l1.95 1.95l-1.95 1.95l-1.95 -1.95zM387.8 447.21l1.95 1.95l-1.95 1.95l-1.95 -1.95zM399.45 432.6l1.95 1.95l-1.95 1.95l-1.95 -1.95zM395.75 432.6l1.95 1.95l-1.95 1.95l-1.95 -1.95zM406.05 441.29l1.95 1.95l-1.95 1.95l-1.95 -1.95zM389.15 441.29l1.95 1.95l-1.95 1.95l-1.95 -1.95zM405.31 439.35l1.95 1.95l-1.95 1.95l-1.95 -1.95zM389.89 439.35l1.95 1.95l-1.95 1.95l-1.95 -1.95zM408.44 451.08l1.95 1.95l-1.95 1.95l-1.95 -1.95zM386.76 451.08l1.95 1.95l-1.95 1.95l-1.95 -1.95zM402.82 434.28l1.95 1.95l-1.95 1.95l-1.95 -1.95zM392.38 434.28l1.95 1.95l-1.95 1.95l-1.95 -1.95zM408.08 455.74l1.95 1.95l-1.95 1.95l-1.95 -1.95zM387.12 455.74l1.95 1.95l-1.95 1.95l-1.95 -1.95zM408.81 446.85l1.95 1.95l-1.95 1.95l-1.95 -1.95zM386.39 446.85l1.95 1.95l-1.95 1.95l-1.95 -1.95zM407.58 442.71l1.95 1.95l-1.95 1.95l-1.95 -1.95zM387.62 442.71l1.95 1.95l-1.95 1.95l-1.95 -1.95zM410.23 457.02l1.95 1.95l-1.95 1.95l-1.95 -1.95zM384.97 457.02l1.95 1.95l-1.95 1.95l-1.95 -1.95zM405.47 442.41l1.95 1.95l-1.95 1.95l-1.95 -1.95zM389.73 442.41l1.95 1.95l-1.95 1.95l-1.95 -1.95zM402.69 438.81l1.95 1.95l-1.95 1.95l-1.95 -1.95zM392.51 438.81l1.95 1.95l-1.95 1.95l-1.95 -1.95zM399.76 435.19l1.95 1.95l-1.95 1.95l-1.95 -1.95zM395.44 435.19l1.95 1.95l-1.95 1.95l-1.95 -1.95zM409.7 453.99l1.95 1.95l-1.95 1.95l-1.95 -1.95zM385.5 453.99l1.95 1.95l-1.95 1.95l-1.95 -1.95zM410.94 453.04l1.95 1.95l-1.95 1.95l-1.95 -1.95zM384.26 453.04l1.95 1.95l-1.95 1.95l-1.95 -1.95zM407.83 453.19l1.95 1.95l-1.95 1.95l-1.95 -1.95zM387.37 453.19l1.95 1.95l-1.95 1.95l-1.95 -1.95zM408.38 456.15l1.95 1.95l-1.95 1.95l-1.95 -1.95zM386.82 456.15l1.95 1.95l-1.95 1.95l-1.95 -1.95zM410.51 452.16l1.95 1.95l-1.95 1.95l-1.95 -1.95zM384.69 452.16l1.95 1.95l-1.95 1.95l-1.95 -1.95zM408.4 449.25l1.95 1.95l-1.95 1.95l-1.95 -1.95zM386.8 449.25l1.95 1.95l-1.95 1.95l-1.95 -1.95zM398.5 434.28l1.95 1.95l-1.95 1.95l-1.95 -1.95zM396.7 434.28l1.95 1.95l-1.95 1.95l-1.95 -1.95zM407.67 448.71l1.95 1.95l-1.95 1.95l-1.95 -1.95zM387.53 448.71l1.95 1.95l-1.95 1.95l-1.95 -1.95zM407.07 446.03l1.95 1.95l-1.95 1.95l-1.95 -1.95zM388.13 446.03l1.95 1.95l-1.95 1.95l-1.95 -1.95zM401.26 436.55l1.95 1.95l-1.95 1.95l-1.95 -1.95zM393.94 436.55l1.95 1.95l-1.95 1.95l-1.95 -1.95zM409.06 450.98l1.95 1.95l-1.95 1.95l-1.95 -1.95zM386.14 450.98l1.95 1.95l-1.95 1.95l-1.95 -1.95zM406.56 442.44l1.95 1.95l-1.95 1.95l-1.95 -1.95zM388.64 442.44l1.95 1.95l-1.95 1.95l-1.95 -1.95zM408.12 446.59l1.95 1.95l-1.95 1.95l-1.95 -1.95zM387.08 446.59l1.95 1.95l-1.95 1.95l-1.95 -1.95zM408.85 443.79l1.95 1.95l-1.95 1.95l-1.95 -1.95zM386.35 443.79l1.95 1.95l-1.95 1.95l-1.95 -1.95zM408.24 451.67l1.95 1.95l-1.95 1.95l-1.95 -1.95zM386.96 451.67l1.95 1.95l-1.95 1.95l-1.95 -1.95zM404.52 440.53l1.95 1.95l-1.95 1.95l-1.95 -1.95zM390.68 440.53l1.95 1.95l-1.95 1.95l-1.95 -1.95zM404.56 441.71l1.95 1.95l-1.95 1.95l-1.95 -1.95zM390.64 441.71l1.95 1.95l-1.95 1.95l-1.95 -1.95zM409.43 451.48l1.95 1.95l-1.95 1.95l-1.95 -1.95zM385.77 451.48l1.95 1.95l-1.95 1.95l-1.95 -1.95zM408.37 443.21l1.95 1.95l-1.95 1.95l-1.95 -1.95zM386.83 443.21l1.95 1.95l-1.95 1.95l-1.95 -1.95zM406.26 440.8l1.95 1.95l-1.95 1.95l-1.95 -1.95zM388.94 440.8l1.95 1.95l-1.95 1.95l-1.95 -1.95zM410.04 456.24l1.95 1.95l-1.95 1.95l-1.95 -1.95zM385.16 456.24l1.95 1.95l-1.95 1.95l-1.95 -1.95zM407.97 448.1l1.95 1.95l-1.95 1.95l-1.95 -1.95zM387.23 448.1l1.95 1.95l-1.95 1.95l-1.95 -1.95zM410.9 458l1.95 1.95l-1.95 1.95l-1.95 -1.95zM384.3 458l1.95 1.95l-1.95 1.95l-1.95 -1.95zM404.82 440.15l1.95 1.95l-1.95 1.95l-1.95 -1.95zM390.38 440.15l1.95 1.95l-1.95 1.95l-1.95 -1.95zM408.38 447.55l1.95 1.95l-1.95 1.95l-1.95 -1.95zM386.82 447.55l1.95 1.95l-1.95 1.95l-1.95 -1.95zM406.74 445.8l1.95 1.95l-1.95 1.95l-1.95 -1.95zM388.46 445.8l1.95 1.95l-1.95 1.95l-1.95 -1.95zM408.95 447.15l1.95 1.95l-1.95 1.95l-1.95 -1.95zM386.25 447.15l1.95 1.95l-1.95 1.95l-1.95 -1.95zM409.09 452.01l1.95 1.95l-1.95 1.95l-1.95 -1.95zM386.11 452.01l1.95 1.95l-1.95 1.95l-1.95 -1.95zM407.15 443.8l1.95 1.95l-1.95 1.95l-1.95 -1.95zM388.05 443.8l1.95 1.95l-1.95 1.95l-1.95 -1.95zM407.86 446.13l1.95 1.95l-1.95 1.95l-1.95 -1.95zM387.34 446.13l1.95 1.95l-1.95 1.95l-1.95 -1.95zM398.28 432.66l1.95 1.95l-1.95 1.95l-1.95 -1.95zM396.92 432.66l1.95 1.95l-1.95 1.95l-1.95 -1.95zM411.13 457.74l1.95 1.95l-1.95 1.95l-1.95 -1.95zM384.07 457.74l1.95 1.95l-1.95 1.95l-1.95 -1.95zM408.27 444.36l1.95 1.95l-1.95 1.95l-1.95 -1.95zM386.93 444.36l1.95 1.95l-1.95 1.95l-1.95 -1.95zM402.26 437.78l1.95 1.95l-1.95 1.95l-1.95 -1.95zM392.94 437.78l1.95 1.95l-1.95 1.95l-1.95 -1.95zM408.55 445.65l1.95 1.95l-1.95 1.95l-1.95 -1.95zM386.65 445.65l1.95 1.95l-1.95 1.95l-1.95 -1.95zM399.25 433.06l1.95 1.95l-1.95 1.95l-1.95 -1.95zM395.95 433.06l1.95 1.95l-1.95 1.95l-1.95 -1.95zM410.18 455.64l1.95 1.95l-1.95 1.95l-1.95 -1.95zM385.02 455.64l1.95 1.95l-1.95 1.95l-1.95 -1.95zM408.57 457.87l1.95 1.95l-1.95 1.95l-1.95 -1.95zM386.63 457.87l1.95 1.95l-1.95 1.95l-1.95 -1.95zM410.99 455.7l1.95 1.95l-1.95 1.95l-1.95 -1.95zM384.21 455.7l1.95 1.95l-1.95 1.95l-1.95 -1.95zM399.43 433.02l1.95 1.95l-1.95 1.95l-1.95 -1.95zM395.77 433.02l1.95 1.95l-1.95 1.95l-1.95 -1.95zM408.24 451.86l1.95 1.95l-1.95 1.95l-1.95 -1.95zM386.96 451.86l1.95 1.95l-1.95 1.95l-1.95 -1.95zM409.96 449.04l1.95 1.95l-1.95 1.95l-1.95 -1.95zM385.24 449.04l1.95 1.95l-1.95 1.95l-1.95 -1.95zM409.12 452.75l1.95 1.95l-1.95 1.95l-1.95 -1.95zM386.08 452.75l1.95 1.95l-1.95 1.95l-1.95 -1.95zM400.32 433.85l1.95 1.95l-1.95 1.95l-1.95 -1.95zM394.88 433.85l1.95 1.95l-1.95 1.95l-1.95 -1.95zM403.09 437.18l1.95 1.95l-1.95 1.95l-1.95 -1.95zM392.11 437.18l1.95 1.95l-1.95 1.95l-1.95 -1.95zM404 439.27l1.95 1.95l-1.95 1.95l-1.95 -1.95zM391.2 439.27l1.95 1.95l-1.95 1.95l-1.95 -1.95zM409.16 446.32l1.95 1.95l-1.95 1.95l-1.95 -1.95zM386.04 446.32l1.95 1.95l-1.95 1.95l-1.95 -1.95zM409.61 457.42l1.95 1.95l-1.95 1.95l-1.95 -1.95zM385.59 457.42l1.95 1.95l-1.95 1.95l-1.95 -1.95zM399.34 432.54l1.95 1.95l-1.95 1.95l-1.95 -1.95zM395.86 432.54l1.95 1.95l-1.95 1.95l-1.95 -1.95zM407.06 441.07l1.95 1.95l-1.95 1.95l-1.95 -1.95zM388.14 441.07l1.95 1.95l-1.95 1.95l-1.95 -1.95zM407.85 453.7l1.95 1.95l-1.95 1.95l-1.95 -1.95zM387.35 453.7l1.95 1.95l-1.95 1.95l-1.95 -1.95zM408.36 451.13l1.95 1.95l-1.95 1.95l-1.95 -1.95zM386.84 451.13l1.95 1.95l-1.95 1.95l-1.95 -1.95zM405.16 440.62l1.95 1.95l-1.95 1.95l-1.95 -1.95zM390.04 440.62l1.95 1.95l-1.95 1.95l-1.95 -1.95zM407.03 446.19l1.95 1.95l-1.95 1.95l-1.95 -1.95zM388.17 446.19l1.95 1.95l-1.95 1.95l-1.95 -1.95zM406.83 445.06l1.95 1.95l-1.95 1.95l-1.95 -1.95zM388.37 445.06l1.95 1.95l-1.95 1.95l-1.95 -1.95zM400.22 435.55l1.95 1.95l-1.95 1.95l-1.95 -1.95zM394.98 435.55l1.95 1.95l-1.95 1.95l-1.95 -1.95zM408.21 449.85l1.95 1.95l-1.95 1.95l-1.95 -1.95zM386.99 449.85l1.95 1.95l-1.95 1.95l-1.95 -1.95zM402.49 437.5l1.95 1.95l-1.95 1.95l-1.95 -1.95zM392.71 437.5l1.95 1.95l-1.95 1.95l-1.95 -1.95zM405.82 437.84l1.95 1.95l-1.95 1.95l-1.95 -1.95zM389.38 437.84l1.95 1.95l-1.95 1.95l-1.95 -1.95zM408.1 452.58l1.95 1.95l-1.95 1.95l-1.95 -1.95zM387.1 452.58l1.95 1.95l-1.95 1.95l-1.95 -1.95zM404.93 439.9l1.95 1.95l-1.95 1.95l-1.95 -1.95zM390.27 439.9l1.95 1.95l-1.95 1.95l-1.95 -1.95zM407.49 445.92l1.95 1.95l-1.95 1.95l-1.95 -1.95zM387.71 445.92l1.95 1.95l-1.95 1.95l-1.95 -1.95zM408.81 445.8l1.95 1.95l-1.95 1.95l-1.95 -1.95zM386.39 445.8l1.95 1.95l-1.95 1.95l-1.95 -1.95zM402.48 436.31l1.95 1.95l-1.95 1.95l-1.95 -1.95zM392.72 436.31l1.95 1.95l-1.95 1.95l-1.95 -1.95zM402.57 436.58l1.95 1.95l-1.95 1.95l-1.95 -1.95zM392.63 436.58l1.95 1.95l-1.95 1.95l-1.95 -1.95zM406.9 440.5l1.95 1.95l-1.95 1.95l-1.95 -1.95zM388.3 440.5l1.95 1.95l-1.95 1.95l-1.95 -1.95zM411.35 454.99l1.95 1.95l-1.95 1.95l-1.95 -1.95zM383.85 454.99l1.95 1.95l-1.95 1.95l-1.95 -1.95zM407.19 442.81l1.95 1.95l-1.95 1.95l-1.95 -1.95zM388.01 442.81l1.95 1.95l-1.95 1.95l-1.95 -1.95zM403.59 436.68l1.95 1.95l-1.95 1.95l-1.95 -1.95zM391.61 436.68l1.95 1.95l-1.95 1.95l-1.95 -1.95zM409.06 452.35l1.95 1.95l-1.95 1.95l-1.95 -1.95zM386.14 452.35l1.95 1.95l-1.95 1.95l-1.95 -1.95zM406.81 440.62l1.95 1.95l-1.95 1.95l-1.95 -1.95zM388.39 440.62l1.95 1.95l-1.95 1.95l-1.95 -1.95zM410.29 451.63l1.95 1.95l-1.95 1.95l-1.95 -1.95zM384.91 451.63l1.95 1.95l-1.95 1.95l-1.95 -1.95zM404.01 439.77l1.95 1.95l-1.95 1.95l-1.95 -1.95zM391.19 439.77l1.95 1.95l-1.95 1.95l-1.95 -1.95zM402.86 438.79l1.95 1.95l-1.95 1.95l-1.95 -1.95zM392.34 438.79l1.95 1.95l-1.95 1.95l-1.95 -1.95zM397.88 432.53l1.95 1.95l-1.95 1.95l-1.95 -1.95zM397.32 432.53l1.95 1.95l-1.95 1.95l-1.95 -1.95zM407.35 445.01l1.95 1.95l-1.95 1.95l-1.95 -1.95zM387.85 445.01l1.95 1.95l-1.95 1.95l-1.95 -1.95zM409.31 455.21l1.95 1.95l-1.95 1.95l-1.95 -1.95zM385.89 455.21l1.95 1.95l-1.95 1.95l-1.95 -1.95zM404.79 436.73l1.95 1.95l-1.95 1.95l-1.95 -1.95zM390.41 436.73l1.95 1.95l-1.95 1.95l-1.95 -1.95zM399.68 434.22l1.95 1.95l-1.95 1.95l-1.95 -1.95zM395.52 434.22l1.95 1.95l-1.95 1.95l-1.95 -1.95zM408.62 451.97l1.95 1.95l-1.95 1.95l-1.95 -1.95zM386.58 451.97l1.95 1.95l-1.95 1.95l-1.95 -1.95zM410.78 457.12l1.95 1.95l-1.95 1.95l-1.95 -1.95zM384.42 457.12l1.95 1.95l-1.95 1.95l-1.95 -1.95zM406.97 440.27l1.95 1.95l-1.95 1.95l-1.95 -1.95zM388.23 440.27l1.95 1.95l-1.95 1.95l-1.95 -1.95zM409.87 456.04l1.95 1.95l-1.95 1.95l-1.95 -1.95zM385.33 456.04l1.95 1.95l-1.95 1.95l-1.95 -1.95zM399.78 436.04l1.95 1.95l-1.95 1.95l-1.95 -1.95zM395.42 436.04l1.95 1.95l-1.95 1.95l-1.95 -1.95zM410.87 453.37l1.95 1.95l-1.95 1.95l-1.95 -1.95zM384.33 453.37l1.95 1.95l-1.95 1.95l-1.95 -1.95zM409.71 449.15l1.95 1.95l-1.95 1.95l-1.95 -1.95zM385.49 449.15l1.95 1.95l-1.95 1.95l-1.95 -1.95zM408.44 452.75l1.95 1.95l-1.95 1.95l-1.95 -1.95zM386.76 452.75l1.95 1.95l-1.95 1.95l-1.95 -1.95zM405.24 437.83l1.95 1.95l-1.95 1.95l-1.95 -1.95zM389.96 437.83l1.95 1.95l-1.95 1.95l-1.95 -1.95zM409.33 453.92l1.95 1.95l-1.95 1.95l-1.95 -1.95zM385.87 453.92l1.95 1.95l-1.95 1.95l-1.95 -1.95zM402.85 439.3l1.95 1.95l-1.95 1.95l-1.95 -1.95zM392.35 439.3l1.95 1.95l-1.95 1.95l-1.95 -1.95zM408.25 442.74l1.95 1.95l-1.95 1.95l-1.95 -1.95zM386.95 442.74l1.95 1.95l-1.95 1.95l-1.95 -1.95zM402.31 437.58l1.95 1.95l-1.95 1.95l-1.95 -1.95zM392.89 437.58l1.95 1.95l-1.95 1.95l-1.95 -1.95zM399.84 433.25l1.95 1.95l-1.95 1.95l-1.95 -1.95zM395.36 433.25l1.95 1.95l-1.95 1.95l-1.95 -1.95zM400.98 433.89l1.95 1.95l-1.95 1.95l-1.95 -1.95zM394.22 433.89l1.95 1.95l-1.95 1.95l-1.95 -1.95zM407.31 445l1.95 1.95l-1.95 1.95l-1.95 -1.95zM387.89 445l1.95 1.95l-1.95 1.95l-1.95 -1.95zM403.57 439.01l1.95 1.95l-1.95 1.95l-1.95 -1.95zM391.63 439.01l1.95 1.95l-1.95 1.95l-1.95 -1.95zM411.32 455.3l1.95 1.95l-1.95 1.95l-1.95 -1.95zM383.88 455.3l1.95 1.95l-1.95 1.95l-1.95 -1.95zM408.18 451.68l1.95 1.95l-1.95 1.95l-1.95 -1.95zM387.02 451.68l1.95 1.95l-1.95 1.95l-1.95 -1.95zM402.65 437.7l1.95 1.95l-1.95 1.95l-1.95 -1.95zM392.55 437.7l1.95 1.95l-1.95 1.95l-1.95 -1.95zM411.29 454.86l1.95 1.95l-1.95 1.95l-1.95 -1.95zM383.91 454.86l1.95 1.95l-1.95 1.95l-1.95 -1.95zM404.44 438.26l1.95 1.95l-1.95 1.95l-1.95 -1.95zM390.76 438.26l1.95 1.95l-1.95 1.95l-1.95 -1.95zM406.32 442.11l1.95 1.95l-1.95 1.95l-1.95 -1.95zM388.88 442.11l1.95 1.95l-1.95 1.95l-1.95 -1.95zM404.22 437.43l1.95 1.95l-1.95 1.95l-1.95 -1.95zM390.98 437.43l1.95 1.95l-1.95 1.95l-1.95 -1.95zM410.92 452.45l1.95 1.95l-1.95 1.95l-1.95 -1.95zM384.28 452.45l1.95 1.95l-1.95 1.95l-1.95 -1.95zM407.3 444.79l1.95 1.95l-1.95 1.95l-1.95 -1.95zM387.9 444.79l1.95 1.95l-1.95 1.95l-1.95 -1.95zM407.34 448.96l1.95 1.95l-1.95 1.95l-1.95 -1.95zM387.86 448.96l1.95 1.95l-1.95 1.95l-1.95 -1.95zM410.67 454.93l1.95 1.95l-1.95 1.95l-1.95 -1.95zM384.53 454.93l1.95 1.95l-1.95 1.95l-1.95 -1.95zM403.29 438.2l1.95 1.95l-1.95 1.95l-1.95 -1.95zM391.91 438.2l1.95 1.95l-1.95 1.95l-1.95 -1.95zM408.82 444.84l1.95 1.95l-1.95 1.95l-1.95 -1.95zM386.38 444.84l1.95 1.95l-1.95 1.95l-1.95 -1.95zM408.03 450.15l1.95 1.95l-1.95 1.95l-1.95 -1.95zM387.17 450.15l1.95 1.95l-1.95 1.95l-1.95 -1.95zM411.42 456.79l1.95 1.95l-1.95 1.95l-1.95 -1.95zM383.78 456.79l1.95 1.95l-1.95 1.95l-1.95 -1.95zM409.61 454.4l1.95 1.95l-1.95 1.95l-1.95 -1.95zM385.59 454.4l1.95 1.95l-1.95 1.95l-1.95 -1.95zM407.06 444.51l1.95 1.95l-1.95 1.95l-1.95 -1.95zM388.14 444.51l1.95 1.95l-1.95 1.95l-1.95 -1.95zM409.89 457.48l1.95 1.95l-1.95 1.95l-1.95 -1.95zM385.31 457.48l1.95 1.95l-1.95 1.95l-1.95 -1.95zM408.79 457.01l1.95 1.95l-1.95 1.95l-1.95 -1.95zM386.41 457.01l1.95 1.95l-1.95 1.95l-1.95 -1.95zM399.33 433.13l1.95 1.95l-1.95 1.95l-1.95 -1.95zM395.87 433.13l1.95 1.95l-1.95 1.95l-1.95 -1.95zM401.91 437.46l1.95 1.95l-1.95 1.95l-1.95 -1.95zM393.29 437.46l1.95 1.95l-1.95 1.95l-1.95 -1.95zM398.1 433.28l1.95 1.95l-1.95 1.95l-1.95 -1.95zM397.1 433.28l1.95 1.95l-1.95 1.95l-1.95 -1.95zM405.57 443.69l1.95 1.95l-1.95 1.95l-1.95 -1.95zM389.63 443.69l1.95 1.95l-1.95 1.95l-1.95 -1.95zM405.72 439.97l1.95 1.95l-1.95 1.95l-1.95 -1.95zM389.48 439.97l1.95 1.95l-1.95 1.95l-1.95 -1.95zM403.62 439.03l1.95 1.95l-1.95 1.95l-1.95 -1.95zM391.58 439.03l1.95 1.95l-1.95 1.95l-1.95 -1.95zM405.59 442.08l1.95 1.95l-1.95 1.95l-1.95 -1.95zM389.61 442.08l1.95 1.95l-1.95 1.95l-1.95 -1.95zM409.13 446.83l1.95 1.95l-1.95 1.95l-1.95 -1.95zM386.07 446.83l1.95 1.95l-1.95 1.95l-1.95 -1.95zM399.59 433.15l1.95 1.95l-1.95 1.95l-1.95 -1.95zM395.61 433.15l1.95 1.95l-1.95 1.95l-1.95 -1.95zM409.45 446.09l1.95 1.95l-1.95 1.95l-1.95 -1.95zM385.75 446.09l1.95 1.95l-1.95 1.95l-1.95 -1.95zM410 459.55l1.95 1.95l-1.95 1.95l-1.95 -1.95zM385.2 459.55l1.95 1.95l-1.95 1.95l-1.95 -1.95zM408.1 460.55l1.95 1.95l-1.95 1.95l-1.95 -1.95zM387.1 460.55l1.95 1.95l-1.95 1.95l-1.95 -1.95zM409.2 462.85l1.95 1.95l-1.95 1.95l-1.95 -1.95zM386 462.85l1.95 1.95l-1.95 1.95l-1.95 -1.95zM407 463.05l1.95 1.95l-1.95 1.95l-1.95 -1.95zM388.2 463.05l1.95 1.95l-1.95 1.95l-1.95 -1.95zM408.5 465.35l1.95 1.95l-1.95 1.95l-1.95 -1.95zM386.7 465.35l1.95 1.95l-1.95 1.95l-1.95 -1.95zM406.6 466.05l1.95 1.95l-1.95 1.95l-1.95 -1.95zM388.6 466.05l1.95 1.95l-1.95 1.95l-1.95 -1.95zM408.2 467.55l1.95 1.95l-1.95 1.95l-1.95 -1.95zM387 467.55l1.95 1.95l-1.95 1.95l-1.95 -1.95zM406.6 468.05l1.95 1.95l-1.95 1.95l-1.95 -1.95zM388.6 468.05l1.95 1.95l-1.95 1.95l-1.95 -1.95zM408.9 470.25l1.95 1.95l-1.95 1.95l-1.95 -1.95zM386.3 470.25l1.95 1.95l-1.95 1.95l-1.95 -1.95zM407.6 471.05l1.95 1.95l-1.95 1.95l-1.95 -1.95zM387.6 471.05l1.95 1.95l-1.95 1.95l-1.95 -1.95zM406.1 472.25l1.95 1.95l-1.95 1.95l-1.95 -1.95zM389.1 472.25l1.95 1.95l-1.95 1.95l-1.95 -1.95zM406.2 453.65l1.95 1.95l-1.95 1.95l-1.95 -1.95zM389 453.65l1.95 1.95l-1.95 1.95l-1.95 -1.95zM403.6 450.55l1.95 1.95l-1.95 1.95l-1.95 -1.95zM391.6 450.55l1.95 1.95l-1.95 1.95l-1.95 -1.95zM403 447.55l1.95 1.95l-1.95 1.95l-1.95 -1.95zM392.2 447.55l1.95 1.95l-1.95 1.95l-1.95 -1.95z" fill="#000" clip-path="url(#cC2)"/>
<rect x="307.4" y="422.6" width="180.8" height="155.2" fill="none" stroke="#444" stroke-width="0.9"/>
<path d="M340.5 577.8v-3.8M340.5 422.6v3.8M397.6 577.8v-3.8M397.6 422.6v3.8M454.7 577.8v-3.8M454.7 422.6v3.8M307.4 566.69h3.8M488.2 566.69h-3.8M307.4 544.48h3.8M488.2 544.48h-3.8M307.4 522.26h3.8M488.2 522.26h-3.8M307.4 500.05h3.8M488.2 500.05h-3.8M307.4 477.83h3.8M488.2 477.83h-3.8M307.4 455.62h3.8M488.2 455.62h-3.8M307.4 433.4h3.8M488.2 433.4h-3.8" fill="none" stroke="#444" stroke-width="0.9"/>
<path d="M307.4 572.25h1.9M488.2 572.25h-1.9M307.4 566.69h1.9M488.2 566.69h-1.9M307.4 561.14h1.9M488.2 561.14h-1.9M307.4 555.58h1.9M488.2 555.58h-1.9M307.4 550.03h1.9M488.2 550.03h-1.9M307.4 544.48h1.9M488.2 544.48h-1.9M307.4 538.92h1.9M488.2 538.92h-1.9M307.4 533.37h1.9M488.2 533.37h-1.9M307.4 527.82h1.9M488.2 527.82h-1.9M307.4 522.26h1.9M488.2 522.26h-1.9M307.4 516.71h1.9M488.2 516.71h-1.9M307.4 511.15h1.9M488.2 511.15h-1.9M307.4 505.6h1.9M488.2 505.6h-1.9M307.4 500.05h1.9M488.2 500.05h-1.9M307.4 494.49h1.9M488.2 494.49h-1.9M307.4 488.94h1.9M488.2 488.94h-1.9M307.4 483.38h1.9M488.2 483.38h-1.9M307.4 477.83h1.9M488.2 477.83h-1.9M307.4 472.28h1.9M488.2 472.28h-1.9M307.4 466.72h1.9M488.2 466.72h-1.9M307.4 461.17h1.9M488.2 461.17h-1.9M307.4 455.62h1.9M488.2 455.62h-1.9M307.4 450.06h1.9M488.2 450.06h-1.9M307.4 444.51h1.9M488.2 444.51h-1.9M307.4 438.95h1.9M488.2 438.95h-1.9M307.4 433.4h1.9M488.2 433.4h-1.9M307.4 427.85h1.9M488.2 427.85h-1.9" fill="none" stroke="#666" stroke-width="0.9"/>
<text x="302.85" y="572.49" font-size="16" text-anchor="end"><tspan font-size="19">-</tspan>1200</text>
<text x="302.85" y="550.28" font-size="16" text-anchor="end"><tspan font-size="19">-</tspan>1000</text>
<text x="302.85" y="528.06" font-size="16" text-anchor="end"><tspan font-size="19">-</tspan>800</text>
<text x="302.85" y="505.85" font-size="16" text-anchor="end"><tspan font-size="19">-</tspan>600</text>
<text x="302.85" y="483.63" font-size="16" text-anchor="end"><tspan font-size="19">-</tspan>400</text>
<text x="302.85" y="461.42" font-size="16" text-anchor="end"><tspan font-size="19">-</tspan>200</text>
<text x="302.85" y="439.2" font-size="16" text-anchor="end">0</text>
<text x="340.5" y="598.6" font-size="16" text-anchor="middle"><tspan font-size="19">-</tspan>100</text>
<text x="397.6" y="598.6" font-size="16" text-anchor="middle">0</text>
<text x="454.7" y="598.6" font-size="16" text-anchor="middle">100</text>
<text x="397.8" y="616.8" font-size="17" text-anchor="middle">Re<tspan font-size="15">ω</tspan> /2<tspan font-size="14.6">π</tspan></text>
<text x="255.6" y="490" font-size="17" text-anchor="middle" transform="rotate(-90 255.6 490)">Im<tspan font-size="15">ω</tspan></text>
<text x="243" y="429.4" font-size="15" font-weight="bold">C2</text>
</svg>
</body></html>
